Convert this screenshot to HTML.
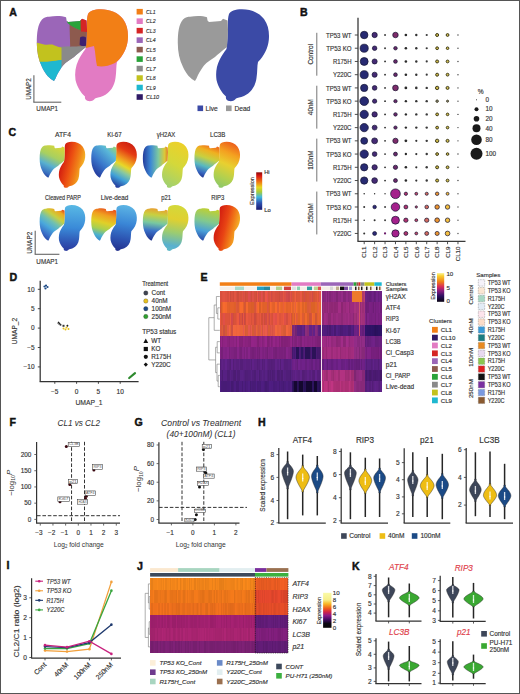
<!DOCTYPE html>
<html><head><meta charset="utf-8"><title>Figure</title><style>html,body{margin:0;padding:0;background:#fff;overflow:hidden;}svg{display:block;font-family:"Liberation Sans", sans-serif;}</style></head><body><svg width="520" height="694" viewBox="0 0 520 694" font-family='"Liberation Sans", sans-serif'><defs>
<clipPath id="cpL"><path d="M49,16.8 C55,15.5 62,15.8 66,17.2 L66.5,20.5 L68,22 L80,21 L82,18.8 L86.5,20.5 L87,30 L86.5,40 L86,47 C81,51 77,54 74,57 C70,60 66,62 63,65.5 C60.5,69 58.5,72 57,75 C56,77.5 55,79.5 54,81 C50,79 45,74 42,67 C38.5,60 36.8,52 36.8,43 C36.8,33 37.8,24 42,19.5 C44.5,17.3 47,16.8 49,16.8 Z"/></clipPath>
<clipPath id="cpR"><path d="M88,14 C89.5,11 94,9.2 101,9.2 C110,9.3 118,12.5 123,19 C127.5,25 128.5,33 127.8,40 C127,48 123,56 117,62 C116,66 116.5,72 115.5,78 C114.5,86 110,93 103,96 C99,97.5 96.5,97.5 95,98.5 C94,100.5 91,101.5 88,101 C85.5,100.5 84.5,98.5 85,96.5 C81,93 77,87 75.5,80 C74.5,73 75.5,66 78.5,60 C80.5,56 83,52 85.5,49 C86.5,42 86.5,34 86.8,26 C86.8,21 87,17 88,14 Z"/></clipPath>
</defs>
<text x="9.30" y="15.69" font-size="10.6" font-weight="bold" fill="#111" stroke="#111" stroke-width="0.45">A</text>
<g>
<path d="M88,14 C89.5,11 94,9.2 101,9.2 C110,9.3 118,12.5 123,19 C127.5,25 128.5,33 127.8,40 C127,48 123,56 117,62 C116,66 116.5,72 115.5,78 C114.5,86 110,93 103,96 C99,97.5 96.5,97.5 95,98.5 C94,100.5 91,101.5 88,101 C85.5,100.5 84.5,98.5 85,96.5 C81,93 77,87 75.5,80 C74.5,73 75.5,66 78.5,60 C80.5,56 83,52 85.5,49 C86.5,42 86.5,34 86.8,26 C86.8,21 87,17 88,14 Z" fill="#e27bc3"/>
<g clip-path="url(#cpR)"><path d="M86,8 L130,8 L130,40 C128,50 122,58 115,63 C108,66.5 101,67 97,66 C95.5,60 95.5,52 94,46 L86,48 Z" fill="#f27f16"/></g>
<path d="M49,16.8 C55,15.5 62,15.8 66,17.2 L66.5,20.5 L68,22 L80,21 L82,18.8 L86.5,20.5 L87,30 L86.5,40 L86,47 C81,51 77,54 74,57 C70,60 66,62 63,65.5 C60.5,69 58.5,72 57,75 C56,77.5 55,79.5 54,81 C50,79 45,74 42,67 C38.5,60 36.8,52 36.8,43 C36.8,33 37.8,24 42,19.5 C44.5,17.3 47,16.8 49,16.8 Z" fill="#9b66b8"/>
<g clip-path="url(#cpL)">
<path d="M56,47.2 C62,46.6 70,46.4 78,46 L88,45 L88,50 L66,66 L56,68 Z" fill="#8a8a8a"/>
<path d="M30,42.5 C35,41.5 40,43.5 44,44.5 C48,45.5 51,43.8 54,45.2 C57,46.5 59,47 61.5,47.5 L61.5,60 C57,61.5 52,61 47,62 L30,63 Z" fill="#c2c21e"/>
<path d="M30,62.5 C38,61 44,62.5 50,61.5 C54,61 57.5,60.2 61.5,60 L61.5,68 L59,73 L56,82 L30,85 Z" fill="#1fb8d0"/>
<path d="M69.5,23 C72,26 76,28.5 81,30 L88,30 L88,46 L79,46.3 C75,46.5 72,46.6 70.2,46.8 C70,38 69.6,30 69.5,23 Z" fill="#8d5a4e"/>
<path d="M66,16 L81,16 L81,30.5 C76,29 71,26 67.5,23 Z" fill="#2aa33a"/>
<path d="M80.6,16 L88,16 L88,32 L81,31.5 L80.6,28 Z" fill="#d52525"/>
<path d="M80,37.5 C81.5,36.2 84.5,36.2 86,37.5 L86,45.5 C84,46.5 81,46.2 79.6,44.8 Z" fill="#3d2070"/>
</g>
</g>
<line x1="33.90" y1="75.30" x2="33.90" y2="102.20" stroke="#666" stroke-width="1.1"/>
<line x1="33.35" y1="102.20" x2="61.30" y2="102.20" stroke="#666" stroke-width="1.1"/>
<text x="47.20" y="111.29" font-size="7.8" text-anchor="middle" fill="#333333" stroke="#333333" stroke-width="0.15" textLength="21.7" lengthAdjust="spacingAndGlyphs">UMAP1</text>
<text x="28.40" y="91.79" font-size="7.8" text-anchor="middle" fill="#333333" stroke="#333333" stroke-width="0.15" transform="rotate(-90 28.40 89.00)" textLength="21.6" lengthAdjust="spacingAndGlyphs">UMAP2</text>
<rect x="136.60" y="8.90" width="6.20" height="5.60" fill="#f27f16"/>
<text x="146.10" y="13.92" font-size="6.2" text-anchor="start" fill="#333333" stroke="#333333" stroke-width="0.15" font-style="italic" textLength="9.5" lengthAdjust="spacingAndGlyphs">CL1</text>
<rect x="136.60" y="18.38" width="6.20" height="5.60" fill="#e27bc3"/>
<text x="146.10" y="23.40" font-size="6.2" text-anchor="start" fill="#333333" stroke="#333333" stroke-width="0.15" font-style="italic" textLength="9.5" lengthAdjust="spacingAndGlyphs">CL2</text>
<rect x="136.60" y="27.86" width="6.20" height="5.60" fill="#d52525"/>
<text x="146.10" y="32.88" font-size="6.2" text-anchor="start" fill="#333333" stroke="#333333" stroke-width="0.15" font-style="italic" textLength="9.5" lengthAdjust="spacingAndGlyphs">CL3</text>
<rect x="136.60" y="37.34" width="6.20" height="5.60" fill="#9b66b8"/>
<text x="146.10" y="42.36" font-size="6.2" text-anchor="start" fill="#333333" stroke="#333333" stroke-width="0.15" font-style="italic" textLength="9.5" lengthAdjust="spacingAndGlyphs">CL4</text>
<rect x="136.60" y="46.82" width="6.20" height="5.60" fill="#8d5a4e"/>
<text x="146.10" y="51.84" font-size="6.2" text-anchor="start" fill="#333333" stroke="#333333" stroke-width="0.15" font-style="italic" textLength="9.5" lengthAdjust="spacingAndGlyphs">CL5</text>
<rect x="136.60" y="56.30" width="6.20" height="5.60" fill="#2aa33a"/>
<text x="146.10" y="61.32" font-size="6.2" text-anchor="start" fill="#333333" stroke="#333333" stroke-width="0.15" font-style="italic" textLength="9.5" lengthAdjust="spacingAndGlyphs">CL6</text>
<rect x="136.60" y="65.78" width="6.20" height="5.60" fill="#8a8a8a"/>
<text x="146.10" y="70.80" font-size="6.2" text-anchor="start" fill="#333333" stroke="#333333" stroke-width="0.15" font-style="italic" textLength="9.5" lengthAdjust="spacingAndGlyphs">CL7</text>
<rect x="136.60" y="75.26" width="6.20" height="5.60" fill="#c2c21e"/>
<text x="146.10" y="80.28" font-size="6.2" text-anchor="start" fill="#333333" stroke="#333333" stroke-width="0.15" font-style="italic" textLength="9.5" lengthAdjust="spacingAndGlyphs">CL8</text>
<rect x="136.60" y="84.74" width="6.20" height="5.60" fill="#1fb8d0"/>
<text x="146.10" y="89.76" font-size="6.2" text-anchor="start" fill="#333333" stroke="#333333" stroke-width="0.15" font-style="italic" textLength="9.5" lengthAdjust="spacingAndGlyphs">CL9</text>
<rect x="136.60" y="94.22" width="6.20" height="5.60" fill="#2f1a66"/>
<text x="146.10" y="99.24" font-size="6.2" text-anchor="start" fill="#333333" stroke="#333333" stroke-width="0.15" font-style="italic" textLength="13.0" lengthAdjust="spacingAndGlyphs">CL10</text>
<g transform="translate(141,0)">
<path d="M88,14 C89.5,11 94,9.2 101,9.2 C110,9.3 118,12.5 123,19 C127.5,25 128.5,33 127.8,40 C127,48 123,56 117,62 C116,66 116.5,72 115.5,78 C114.5,86 110,93 103,96 C99,97.5 96.5,97.5 95,98.5 C94,100.5 91,101.5 88,101 C85.5,100.5 84.5,98.5 85,96.5 C81,93 77,87 75.5,80 C74.5,73 75.5,66 78.5,60 C80.5,56 83,52 85.5,49 C86.5,42 86.5,34 86.8,26 C86.8,21 87,17 88,14 Z" fill="#3b4aa6"/>
<path d="M49,16.8 C55,15.5 62,15.8 66,17.2 L66.5,20.5 L68,22 L80,21 L82,18.8 L86.5,20.5 L87,30 L86.5,40 L86,47 C81,51 77,54 74,57 C70,60 66,62 63,65.5 C60.5,69 58.5,72 57,75 C56,77.5 55,79.5 54,81 C50,79 45,74 42,67 C38.5,60 36.8,52 36.8,43 C36.8,33 37.8,24 42,19.5 C44.5,17.3 47,16.8 49,16.8 Z" fill="#9a9a9a"/>
</g>
<rect x="197.50" y="105.50" width="5.60" height="5.60" fill="#3b4aa6"/>
<text x="205.50" y="110.66" font-size="6.6" text-anchor="start" fill="#333333" stroke="#333333" stroke-width="0.15">Live</text>
<rect x="226.00" y="105.50" width="5.60" height="5.60" fill="#9a9a9a"/>
<text x="234.50" y="110.66" font-size="6.6" text-anchor="start" fill="#333333" stroke="#333333" stroke-width="0.15">Dead</text>
<text x="300.00" y="15.59" font-size="10.6" font-weight="bold" fill="#111" stroke="#111" stroke-width="0.45">B</text>
<line x1="358.00" y1="17.80" x2="358.00" y2="241.30" stroke="#3a3a3a" stroke-width="1.3"/>
<line x1="357.40" y1="241.30" x2="465.50" y2="241.30" stroke="#3a3a3a" stroke-width="1.3"/>
<text x="351.50" y="37.63" font-size="6.5" text-anchor="end" fill="#333333" stroke="#333333" stroke-width="0.15" textLength="25.4" lengthAdjust="spacingAndGlyphs">TP53 WT</text>
<line x1="354.80" y1="35.00" x2="358.00" y2="35.00" stroke="#3a3a3a" stroke-width="0.9"/>
<text x="351.50" y="50.86" font-size="6.5" text-anchor="end" fill="#333333" stroke="#333333" stroke-width="0.15" textLength="25.2" lengthAdjust="spacingAndGlyphs">TP53 KO</text>
<line x1="354.80" y1="48.23" x2="358.00" y2="48.23" stroke="#3a3a3a" stroke-width="0.9"/>
<text x="351.50" y="64.09" font-size="6.5" text-anchor="end" fill="#333333" stroke="#333333" stroke-width="0.15" textLength="18.6" lengthAdjust="spacingAndGlyphs">R175H</text>
<line x1="354.80" y1="61.46" x2="358.00" y2="61.46" stroke="#3a3a3a" stroke-width="0.9"/>
<text x="351.50" y="77.32" font-size="6.5" text-anchor="end" fill="#333333" stroke="#333333" stroke-width="0.15" textLength="18.6" lengthAdjust="spacingAndGlyphs">Y220C</text>
<line x1="354.80" y1="74.69" x2="358.00" y2="74.69" stroke="#3a3a3a" stroke-width="0.9"/>
<line x1="316.80" y1="32.80" x2="316.80" y2="75.69" stroke="#666" stroke-width="0.9"/>
<text x="310.30" y="56.54" font-size="6.4" text-anchor="middle" fill="#333333" stroke="#333333" stroke-width="0.15" transform="rotate(-90 310.30 54.24)">Control</text>
<text x="351.50" y="90.55" font-size="6.5" text-anchor="end" fill="#333333" stroke="#333333" stroke-width="0.15" textLength="25.4" lengthAdjust="spacingAndGlyphs">TP53 WT</text>
<line x1="354.80" y1="87.92" x2="358.00" y2="87.92" stroke="#3a3a3a" stroke-width="0.9"/>
<text x="351.50" y="103.78" font-size="6.5" text-anchor="end" fill="#333333" stroke="#333333" stroke-width="0.15" textLength="25.2" lengthAdjust="spacingAndGlyphs">TP53 KO</text>
<line x1="354.80" y1="101.15" x2="358.00" y2="101.15" stroke="#3a3a3a" stroke-width="0.9"/>
<text x="351.50" y="117.01" font-size="6.5" text-anchor="end" fill="#333333" stroke="#333333" stroke-width="0.15" textLength="18.6" lengthAdjust="spacingAndGlyphs">R175H</text>
<line x1="354.80" y1="114.38" x2="358.00" y2="114.38" stroke="#3a3a3a" stroke-width="0.9"/>
<text x="351.50" y="130.24" font-size="6.5" text-anchor="end" fill="#333333" stroke="#333333" stroke-width="0.15" textLength="18.6" lengthAdjust="spacingAndGlyphs">Y220C</text>
<line x1="354.80" y1="127.61" x2="358.00" y2="127.61" stroke="#3a3a3a" stroke-width="0.9"/>
<line x1="316.80" y1="85.72" x2="316.80" y2="128.61" stroke="#666" stroke-width="0.9"/>
<text x="310.30" y="109.46" font-size="6.4" text-anchor="middle" fill="#333333" stroke="#333333" stroke-width="0.15" transform="rotate(-90 310.30 107.17)">40nM</text>
<text x="351.50" y="143.47" font-size="6.5" text-anchor="end" fill="#333333" stroke="#333333" stroke-width="0.15" textLength="25.4" lengthAdjust="spacingAndGlyphs">TP53 WT</text>
<line x1="354.80" y1="140.84" x2="358.00" y2="140.84" stroke="#3a3a3a" stroke-width="0.9"/>
<text x="351.50" y="156.70" font-size="6.5" text-anchor="end" fill="#333333" stroke="#333333" stroke-width="0.15" textLength="25.2" lengthAdjust="spacingAndGlyphs">TP53 KO</text>
<line x1="354.80" y1="154.07" x2="358.00" y2="154.07" stroke="#3a3a3a" stroke-width="0.9"/>
<text x="351.50" y="169.93" font-size="6.5" text-anchor="end" fill="#333333" stroke="#333333" stroke-width="0.15" textLength="18.6" lengthAdjust="spacingAndGlyphs">R175H</text>
<line x1="354.80" y1="167.30" x2="358.00" y2="167.30" stroke="#3a3a3a" stroke-width="0.9"/>
<text x="351.50" y="183.16" font-size="6.5" text-anchor="end" fill="#333333" stroke="#333333" stroke-width="0.15" textLength="18.6" lengthAdjust="spacingAndGlyphs">Y220C</text>
<line x1="354.80" y1="180.53" x2="358.00" y2="180.53" stroke="#3a3a3a" stroke-width="0.9"/>
<line x1="316.80" y1="138.64" x2="316.80" y2="181.53" stroke="#666" stroke-width="0.9"/>
<text x="310.30" y="162.38" font-size="6.4" text-anchor="middle" fill="#333333" stroke="#333333" stroke-width="0.15" transform="rotate(-90 310.30 160.09)">100nM</text>
<text x="351.50" y="196.39" font-size="6.5" text-anchor="end" fill="#333333" stroke="#333333" stroke-width="0.15" textLength="25.4" lengthAdjust="spacingAndGlyphs">TP53 WT</text>
<line x1="354.80" y1="193.76" x2="358.00" y2="193.76" stroke="#3a3a3a" stroke-width="0.9"/>
<text x="351.50" y="209.62" font-size="6.5" text-anchor="end" fill="#333333" stroke="#333333" stroke-width="0.15" textLength="25.2" lengthAdjust="spacingAndGlyphs">TP53 KO</text>
<line x1="354.80" y1="206.99" x2="358.00" y2="206.99" stroke="#3a3a3a" stroke-width="0.9"/>
<text x="351.50" y="222.85" font-size="6.5" text-anchor="end" fill="#333333" stroke="#333333" stroke-width="0.15" textLength="18.6" lengthAdjust="spacingAndGlyphs">R175H</text>
<line x1="354.80" y1="220.22" x2="358.00" y2="220.22" stroke="#3a3a3a" stroke-width="0.9"/>
<text x="351.50" y="236.08" font-size="6.5" text-anchor="end" fill="#333333" stroke="#333333" stroke-width="0.15" textLength="18.6" lengthAdjust="spacingAndGlyphs">Y220C</text>
<line x1="354.80" y1="233.45" x2="358.00" y2="233.45" stroke="#3a3a3a" stroke-width="0.9"/>
<line x1="316.80" y1="191.56" x2="316.80" y2="234.45" stroke="#666" stroke-width="0.9"/>
<text x="310.30" y="215.30" font-size="6.4" text-anchor="middle" fill="#333333" stroke="#333333" stroke-width="0.15" transform="rotate(-90 310.30 213.00)">250nM</text>
<line x1="364.20" y1="241.30" x2="364.20" y2="244.20" stroke="#3a3a3a" stroke-width="0.9"/>
<text x="364.20" y="248.72" font-size="6.2" text-anchor="end" fill="#333333" stroke="#333333" stroke-width="0.15" transform="rotate(-90 364.20 246.50)">CL1</text>
<line x1="374.62" y1="241.30" x2="374.62" y2="244.20" stroke="#3a3a3a" stroke-width="0.9"/>
<text x="374.62" y="248.72" font-size="6.2" text-anchor="end" fill="#333333" stroke="#333333" stroke-width="0.15" transform="rotate(-90 374.62 246.50)">CL2</text>
<line x1="385.04" y1="241.30" x2="385.04" y2="244.20" stroke="#3a3a3a" stroke-width="0.9"/>
<text x="385.04" y="248.72" font-size="6.2" text-anchor="end" fill="#333333" stroke="#333333" stroke-width="0.15" transform="rotate(-90 385.04 246.50)">CL3</text>
<line x1="395.46" y1="241.30" x2="395.46" y2="244.20" stroke="#3a3a3a" stroke-width="0.9"/>
<text x="395.46" y="248.72" font-size="6.2" text-anchor="end" fill="#333333" stroke="#333333" stroke-width="0.15" transform="rotate(-90 395.46 246.50)">CL4</text>
<line x1="405.88" y1="241.30" x2="405.88" y2="244.20" stroke="#3a3a3a" stroke-width="0.9"/>
<text x="405.88" y="248.72" font-size="6.2" text-anchor="end" fill="#333333" stroke="#333333" stroke-width="0.15" transform="rotate(-90 405.88 246.50)">CL5</text>
<line x1="416.30" y1="241.30" x2="416.30" y2="244.20" stroke="#3a3a3a" stroke-width="0.9"/>
<text x="416.30" y="248.72" font-size="6.2" text-anchor="end" fill="#333333" stroke="#333333" stroke-width="0.15" transform="rotate(-90 416.30 246.50)">CL6</text>
<line x1="426.72" y1="241.30" x2="426.72" y2="244.20" stroke="#3a3a3a" stroke-width="0.9"/>
<text x="426.72" y="248.72" font-size="6.2" text-anchor="end" fill="#333333" stroke="#333333" stroke-width="0.15" transform="rotate(-90 426.72 246.50)">CL7</text>
<line x1="437.14" y1="241.30" x2="437.14" y2="244.20" stroke="#3a3a3a" stroke-width="0.9"/>
<text x="437.14" y="248.72" font-size="6.2" text-anchor="end" fill="#333333" stroke="#333333" stroke-width="0.15" transform="rotate(-90 437.14 246.50)">CL8</text>
<line x1="447.56" y1="241.30" x2="447.56" y2="244.20" stroke="#3a3a3a" stroke-width="0.9"/>
<text x="447.56" y="248.72" font-size="6.2" text-anchor="end" fill="#333333" stroke="#333333" stroke-width="0.15" transform="rotate(-90 447.56 246.50)">CL9</text>
<line x1="457.98" y1="241.30" x2="457.98" y2="244.20" stroke="#3a3a3a" stroke-width="0.9"/>
<text x="457.98" y="248.72" font-size="6.2" text-anchor="end" fill="#333333" stroke="#333333" stroke-width="0.15" transform="rotate(-90 457.98 246.50)">CL10</text>
<circle cx="364.20" cy="35.00" r="3.75" fill="#272a72" stroke="#141430" stroke-width="0.7"/>
<circle cx="374.62" cy="35.00" r="2.65" fill="#452a74" stroke="#141430" stroke-width="0.7"/>
<circle cx="385.04" cy="35.00" r="0.90" fill="#2a2a2a"/>
<circle cx="395.46" cy="35.00" r="2.75" fill="#7e2c6a" stroke="#141430" stroke-width="0.7"/>
<circle cx="405.88" cy="35.00" r="1.30" fill="#2a2a2a"/>
<circle cx="416.30" cy="35.00" r="1.20" fill="#333"/>
<circle cx="426.72" cy="35.00" r="1.10" fill="#3a3a3a"/>
<circle cx="437.14" cy="35.00" r="1.50" fill="#cdb948" stroke="#3e3a1c" stroke-width="1.0"/>
<circle cx="447.56" cy="35.00" r="1.40" fill="#d2c052" stroke="#3e3a1c" stroke-width="1.0"/>
<circle cx="457.98" cy="35.00" r="0.70" fill="#444"/>
<circle cx="364.20" cy="48.23" r="4.05" fill="#272a72" stroke="#141430" stroke-width="0.7"/>
<circle cx="374.62" cy="48.23" r="2.25" fill="#452a74" stroke="#141430" stroke-width="0.7"/>
<circle cx="385.04" cy="48.23" r="0.90" fill="#2a2a2a"/>
<circle cx="395.46" cy="48.23" r="1.75" fill="#6a2a68" stroke="#141430" stroke-width="0.7"/>
<circle cx="405.88" cy="48.23" r="1.30" fill="#2a2a2a"/>
<circle cx="416.30" cy="48.23" r="1.20" fill="#333"/>
<circle cx="426.72" cy="48.23" r="1.10" fill="#3a3a3a"/>
<circle cx="437.14" cy="48.23" r="1.40" fill="#cdb948" stroke="#3e3a1c" stroke-width="1.0"/>
<circle cx="447.56" cy="48.23" r="1.30" fill="#d2c052" stroke="#3e3a1c" stroke-width="1.0"/>
<circle cx="457.98" cy="48.23" r="0.70" fill="#444"/>
<circle cx="364.20" cy="61.46" r="3.95" fill="#272a72" stroke="#141430" stroke-width="0.7"/>
<circle cx="374.62" cy="61.46" r="2.55" fill="#452a74" stroke="#141430" stroke-width="0.7"/>
<circle cx="385.04" cy="61.46" r="0.90" fill="#2a2a2a"/>
<circle cx="395.46" cy="61.46" r="1.85" fill="#6a2a68" stroke="#141430" stroke-width="0.7"/>
<circle cx="405.88" cy="61.46" r="1.30" fill="#2a2a2a"/>
<circle cx="416.30" cy="61.46" r="1.20" fill="#333"/>
<circle cx="426.72" cy="61.46" r="1.10" fill="#3a3a3a"/>
<circle cx="437.14" cy="61.46" r="1.50" fill="#cdb948" stroke="#3e3a1c" stroke-width="1.0"/>
<circle cx="447.56" cy="61.46" r="1.40" fill="#d2c052" stroke="#3e3a1c" stroke-width="1.0"/>
<circle cx="457.98" cy="61.46" r="0.70" fill="#444"/>
<circle cx="364.20" cy="74.69" r="4.05" fill="#272a72" stroke="#141430" stroke-width="0.7"/>
<circle cx="374.62" cy="74.69" r="2.55" fill="#452a74" stroke="#141430" stroke-width="0.7"/>
<circle cx="385.04" cy="74.69" r="0.90" fill="#2a2a2a"/>
<circle cx="395.46" cy="74.69" r="1.85" fill="#6a2a68" stroke="#141430" stroke-width="0.7"/>
<circle cx="405.88" cy="74.69" r="1.30" fill="#2a2a2a"/>
<circle cx="416.30" cy="74.69" r="1.20" fill="#333"/>
<circle cx="426.72" cy="74.69" r="1.10" fill="#3a3a3a"/>
<circle cx="437.14" cy="74.69" r="1.50" fill="#cdb948" stroke="#3e3a1c" stroke-width="1.0"/>
<circle cx="447.56" cy="74.69" r="1.40" fill="#d2c052" stroke="#3e3a1c" stroke-width="1.0"/>
<circle cx="457.98" cy="74.69" r="0.70" fill="#444"/>
<circle cx="364.20" cy="87.92" r="3.65" fill="#272a72" stroke="#141430" stroke-width="0.7"/>
<circle cx="374.62" cy="87.92" r="2.35" fill="#452a74" stroke="#141430" stroke-width="0.7"/>
<circle cx="385.04" cy="87.92" r="0.90" fill="#2a2a2a"/>
<circle cx="395.46" cy="87.92" r="2.85" fill="#7e2c6a" stroke="#141430" stroke-width="0.7"/>
<circle cx="405.88" cy="87.92" r="1.40" fill="#2a2a2a"/>
<circle cx="416.30" cy="87.92" r="1.30" fill="#333"/>
<circle cx="426.72" cy="87.92" r="1.20" fill="#3a3a3a"/>
<circle cx="437.14" cy="87.92" r="1.70" fill="#cdb948" stroke="#3e3a1c" stroke-width="1.0"/>
<circle cx="447.56" cy="87.92" r="1.50" fill="#d2c052" stroke="#3e3a1c" stroke-width="1.0"/>
<circle cx="457.98" cy="87.92" r="0.70" fill="#444"/>
<circle cx="364.20" cy="101.15" r="4.35" fill="#272a72" stroke="#141430" stroke-width="0.7"/>
<circle cx="374.62" cy="101.15" r="2.15" fill="#452a74" stroke="#141430" stroke-width="0.7"/>
<circle cx="385.04" cy="101.15" r="0.90" fill="#2a2a2a"/>
<circle cx="395.46" cy="101.15" r="1.65" fill="#6a2a68" stroke="#141430" stroke-width="0.7"/>
<circle cx="405.88" cy="101.15" r="1.20" fill="#2a2a2a"/>
<circle cx="416.30" cy="101.15" r="1.20" fill="#333"/>
<circle cx="426.72" cy="101.15" r="1.20" fill="#3a3a3a"/>
<circle cx="437.14" cy="101.15" r="1.20" fill="#999" stroke="#3e3a1c" stroke-width="1.0"/>
<circle cx="447.56" cy="101.15" r="1.00" fill="#999" stroke="#3e3a1c" stroke-width="1.0"/>
<circle cx="457.98" cy="101.15" r="0.70" fill="#444"/>
<circle cx="364.20" cy="114.38" r="4.15" fill="#272a72" stroke="#141430" stroke-width="0.7"/>
<circle cx="374.62" cy="114.38" r="2.65" fill="#452a74" stroke="#141430" stroke-width="0.7"/>
<circle cx="385.04" cy="114.38" r="0.90" fill="#2a2a2a"/>
<circle cx="395.46" cy="114.38" r="1.75" fill="#6a2a68" stroke="#141430" stroke-width="0.7"/>
<circle cx="405.88" cy="114.38" r="1.20" fill="#2a2a2a"/>
<circle cx="416.30" cy="114.38" r="1.20" fill="#333"/>
<circle cx="426.72" cy="114.38" r="1.20" fill="#3a3a3a"/>
<circle cx="437.14" cy="114.38" r="1.40" fill="#cdb948" stroke="#3e3a1c" stroke-width="1.0"/>
<circle cx="447.56" cy="114.38" r="1.30" fill="#d2c052" stroke="#3e3a1c" stroke-width="1.0"/>
<circle cx="457.98" cy="114.38" r="0.70" fill="#444"/>
<circle cx="364.20" cy="127.61" r="4.15" fill="#272a72" stroke="#141430" stroke-width="0.7"/>
<circle cx="374.62" cy="127.61" r="2.45" fill="#452a74" stroke="#141430" stroke-width="0.7"/>
<circle cx="385.04" cy="127.61" r="0.90" fill="#2a2a2a"/>
<circle cx="395.46" cy="127.61" r="1.65" fill="#6a2a68" stroke="#141430" stroke-width="0.7"/>
<circle cx="405.88" cy="127.61" r="1.20" fill="#2a2a2a"/>
<circle cx="416.30" cy="127.61" r="1.20" fill="#333"/>
<circle cx="426.72" cy="127.61" r="1.20" fill="#3a3a3a"/>
<circle cx="437.14" cy="127.61" r="1.40" fill="#cdb948" stroke="#3e3a1c" stroke-width="1.0"/>
<circle cx="447.56" cy="127.61" r="1.30" fill="#d2c052" stroke="#3e3a1c" stroke-width="1.0"/>
<circle cx="457.98" cy="127.61" r="0.70" fill="#444"/>
<circle cx="364.20" cy="140.84" r="3.45" fill="#272a72" stroke="#141430" stroke-width="0.7"/>
<circle cx="374.62" cy="140.84" r="2.95" fill="#452a74" stroke="#141430" stroke-width="0.7"/>
<circle cx="385.04" cy="140.84" r="0.90" fill="#2a2a2a"/>
<circle cx="395.46" cy="140.84" r="2.65" fill="#7e2c6a" stroke="#141430" stroke-width="0.7"/>
<circle cx="405.88" cy="140.84" r="1.40" fill="#2a2a2a"/>
<circle cx="416.30" cy="140.84" r="1.10" fill="#333"/>
<circle cx="426.72" cy="140.84" r="1.20" fill="#3a3a3a"/>
<circle cx="437.14" cy="140.84" r="1.70" fill="#cdb948" stroke="#3e3a1c" stroke-width="1.0"/>
<circle cx="447.56" cy="140.84" r="1.50" fill="#d2c052" stroke="#3e3a1c" stroke-width="1.0"/>
<circle cx="457.98" cy="140.84" r="0.70" fill="#444"/>
<circle cx="364.20" cy="154.07" r="4.15" fill="#272a72" stroke="#141430" stroke-width="0.7"/>
<circle cx="374.62" cy="154.07" r="2.35" fill="#452a74" stroke="#141430" stroke-width="0.7"/>
<circle cx="385.04" cy="154.07" r="0.90" fill="#2a2a2a"/>
<circle cx="395.46" cy="154.07" r="1.95" fill="#6a2a68" stroke="#141430" stroke-width="0.7"/>
<circle cx="405.88" cy="154.07" r="1.20" fill="#2a2a2a"/>
<circle cx="416.30" cy="154.07" r="1.10" fill="#333"/>
<circle cx="426.72" cy="154.07" r="1.20" fill="#3a3a3a"/>
<circle cx="437.14" cy="154.07" r="1.40" fill="#cdb948" stroke="#3e3a1c" stroke-width="1.0"/>
<circle cx="447.56" cy="154.07" r="1.30" fill="#d2c052" stroke="#3e3a1c" stroke-width="1.0"/>
<circle cx="457.98" cy="154.07" r="0.70" fill="#444"/>
<circle cx="364.20" cy="167.30" r="3.65" fill="#272a72" stroke="#141430" stroke-width="0.7"/>
<circle cx="374.62" cy="167.30" r="2.65" fill="#452a74" stroke="#141430" stroke-width="0.7"/>
<circle cx="385.04" cy="167.30" r="0.90" fill="#2a2a2a"/>
<circle cx="395.46" cy="167.30" r="2.15" fill="#6a2a68" stroke="#141430" stroke-width="0.7"/>
<circle cx="405.88" cy="167.30" r="1.30" fill="#2a2a2a"/>
<circle cx="416.30" cy="167.30" r="1.10" fill="#333"/>
<circle cx="426.72" cy="167.30" r="1.20" fill="#3a3a3a"/>
<circle cx="437.14" cy="167.30" r="1.50" fill="#cdb948" stroke="#3e3a1c" stroke-width="1.0"/>
<circle cx="447.56" cy="167.30" r="1.40" fill="#d2c052" stroke="#3e3a1c" stroke-width="1.0"/>
<circle cx="457.98" cy="167.30" r="0.70" fill="#444"/>
<circle cx="364.20" cy="180.53" r="3.65" fill="#272a72" stroke="#141430" stroke-width="0.7"/>
<circle cx="374.62" cy="180.53" r="2.85" fill="#452a74" stroke="#141430" stroke-width="0.7"/>
<circle cx="385.04" cy="180.53" r="0.90" fill="#2a2a2a"/>
<circle cx="395.46" cy="180.53" r="1.95" fill="#6a2a68" stroke="#141430" stroke-width="0.7"/>
<circle cx="405.88" cy="180.53" r="1.30" fill="#2a2a2a"/>
<circle cx="416.30" cy="180.53" r="1.10" fill="#333"/>
<circle cx="426.72" cy="180.53" r="1.20" fill="#3a3a3a"/>
<circle cx="437.14" cy="180.53" r="1.50" fill="#cdb948" stroke="#3e3a1c" stroke-width="1.0"/>
<circle cx="447.56" cy="180.53" r="1.40" fill="#d2c052" stroke="#3e3a1c" stroke-width="1.0"/>
<circle cx="457.98" cy="180.53" r="0.70" fill="#444"/>
<circle cx="364.20" cy="193.76" r="0.80" fill="#333"/>
<circle cx="374.62" cy="193.76" r="0.70" fill="#333"/>
<circle cx="385.04" cy="193.76" r="0.80" fill="#444"/>
<circle cx="395.46" cy="193.76" r="4.85" fill="#a4218c" stroke="#141430" stroke-width="0.7"/>
<circle cx="405.88" cy="193.76" r="1.65" fill="#b0336e" stroke="#141430" stroke-width="0.7"/>
<circle cx="416.30" cy="193.76" r="1.45" fill="#c04e6e" stroke="#141430" stroke-width="0.7"/>
<circle cx="426.72" cy="193.76" r="1.55" fill="#d26a5e" stroke="#141430" stroke-width="0.7"/>
<circle cx="437.14" cy="193.76" r="1.75" fill="#ec9530" stroke="#141430" stroke-width="0.7"/>
<circle cx="447.56" cy="193.76" r="1.45" fill="#f2bd40" stroke="#141430" stroke-width="0.7"/>
<circle cx="457.98" cy="193.76" r="0.70" fill="#555"/>
<circle cx="364.20" cy="206.99" r="1.00" fill="#333"/>
<circle cx="374.62" cy="206.99" r="1.75" fill="#2e2a78" stroke="#141430" stroke-width="0.7"/>
<circle cx="385.04" cy="206.99" r="1.00" fill="#444"/>
<circle cx="395.46" cy="206.99" r="4.25" fill="#a4218c" stroke="#141430" stroke-width="0.7"/>
<circle cx="405.88" cy="206.99" r="1.95" fill="#b0336e" stroke="#141430" stroke-width="0.7"/>
<circle cx="416.30" cy="206.99" r="1.15" fill="#c04e6e" stroke="#141430" stroke-width="0.7"/>
<circle cx="426.72" cy="206.99" r="1.85" fill="#d26a5e" stroke="#141430" stroke-width="0.7"/>
<circle cx="437.14" cy="206.99" r="2.25" fill="#ec9530" stroke="#141430" stroke-width="0.7"/>
<circle cx="447.56" cy="206.99" r="2.25" fill="#f2bd40" stroke="#141430" stroke-width="0.7"/>
<circle cx="457.98" cy="206.99" r="0.70" fill="#555"/>
<circle cx="364.20" cy="220.22" r="0.80" fill="#333"/>
<circle cx="374.62" cy="220.22" r="1.00" fill="#333"/>
<circle cx="385.04" cy="220.22" r="1.00" fill="#444"/>
<circle cx="395.46" cy="220.22" r="3.95" fill="#a4218c" stroke="#141430" stroke-width="0.7"/>
<circle cx="405.88" cy="220.22" r="2.15" fill="#b0336e" stroke="#141430" stroke-width="0.7"/>
<circle cx="416.30" cy="220.22" r="1.45" fill="#c04e6e" stroke="#141430" stroke-width="0.7"/>
<circle cx="426.72" cy="220.22" r="2.15" fill="#d26a5e" stroke="#141430" stroke-width="0.7"/>
<circle cx="437.14" cy="220.22" r="2.35" fill="#ec9530" stroke="#141430" stroke-width="0.7"/>
<circle cx="447.56" cy="220.22" r="2.25" fill="#f2bd40" stroke="#141430" stroke-width="0.7"/>
<circle cx="457.98" cy="220.22" r="0.70" fill="#555"/>
<circle cx="364.20" cy="233.45" r="1.00" fill="#333"/>
<circle cx="374.62" cy="233.45" r="1.95" fill="#2e2a78" stroke="#141430" stroke-width="0.7"/>
<circle cx="385.04" cy="233.45" r="1.10" fill="#6a1a6a"/>
<circle cx="395.46" cy="233.45" r="3.65" fill="#a4218c" stroke="#141430" stroke-width="0.7"/>
<circle cx="405.88" cy="233.45" r="1.95" fill="#b0336e" stroke="#141430" stroke-width="0.7"/>
<circle cx="416.30" cy="233.45" r="1.45" fill="#c04e6e" stroke="#141430" stroke-width="0.7"/>
<circle cx="426.72" cy="233.45" r="1.95" fill="#d26a5e" stroke="#141430" stroke-width="0.7"/>
<circle cx="437.14" cy="233.45" r="2.05" fill="#ec9530" stroke="#141430" stroke-width="0.7"/>
<circle cx="447.56" cy="233.45" r="2.35" fill="#f2bd40" stroke="#141430" stroke-width="0.7"/>
<circle cx="457.98" cy="233.45" r="0.70" fill="#555"/>
<text x="480.80" y="93.56" font-size="6.6" text-anchor="middle" fill="#333333" stroke="#333333" stroke-width="0.15">%</text>
<circle cx="476.50" cy="99.70" r="0.50" fill="#1a1a1a"/>
<text x="485.50" y="101.99" font-size="6.4" text-anchor="start" fill="#333333" stroke="#333333" stroke-width="0.15">0</text>
<circle cx="476.50" cy="109.20" r="2.00" fill="#1a1a1a"/>
<text x="485.50" y="111.49" font-size="6.4" text-anchor="start" fill="#333333" stroke="#333333" stroke-width="0.15">10</text>
<circle cx="476.50" cy="118.80" r="2.80" fill="#1a1a1a"/>
<text x="485.50" y="121.09" font-size="6.4" text-anchor="start" fill="#333333" stroke="#333333" stroke-width="0.15">20</text>
<circle cx="476.50" cy="128.30" r="4.00" fill="#1a1a1a"/>
<text x="485.50" y="130.59" font-size="6.4" text-anchor="start" fill="#333333" stroke="#333333" stroke-width="0.15">40</text>
<circle cx="476.50" cy="139.80" r="5.30" fill="#1a1a1a"/>
<text x="485.50" y="142.09" font-size="6.4" text-anchor="start" fill="#333333" stroke="#333333" stroke-width="0.15">80</text>
<circle cx="476.50" cy="153.80" r="6.00" fill="#1a1a1a"/>
<text x="485.50" y="156.09" font-size="6.4" text-anchor="start" fill="#333333" stroke="#333333" stroke-width="0.15">100</text>
<text x="8.40" y="136.39" font-size="10.6" font-weight="bold" fill="#111" stroke="#111" stroke-width="0.45">C</text>
<g transform="translate(21.25,137.15) scale(0.5)">
<path d="M88,14 C89.5,11 94,9.2 101,9.2 C110,9.3 118,12.5 123,19 C127.5,25 128.5,33 127.8,40 C127,48 123,56 117,62 C116,66 116.5,72 115.5,78 C114.5,86 110,93 103,96 C99,97.5 96.5,97.5 95,98.5 C94,100.5 91,101.5 88,101 C85.5,100.5 84.5,98.5 85,96.5 C81,93 77,87 75.5,80 C74.5,73 75.5,66 78.5,60 C80.5,56 83,52 85.5,49 C86.5,42 86.5,34 86.8,26 C86.8,21 87,17 88,14 Z" fill="url(#g1)"/>
<path d="M49,16.8 C55,15.5 62,15.8 66,17.2 L66.5,20.5 L68,22 L80,21 L82,18.8 L86.5,20.5 L87,30 L86.5,40 L86,47 C81,51 77,54 74,57 C70,60 66,62 63,65.5 C60.5,69 58.5,72 57,75 C56,77.5 55,79.5 54,81 C50,79 45,74 42,67 C38.5,60 36.8,52 36.8,43 C36.8,33 37.8,24 42,19.5 C44.5,17.3 47,16.8 49,16.8 Z" fill="url(#g0)"/>
</g>
<text x="62.90" y="136.80" font-size="6.7" text-anchor="middle" fill="#333333" stroke="#333333" stroke-width="0.15" textLength="16" lengthAdjust="spacingAndGlyphs">ATF4</text>
<g transform="translate(72.85,137.15) scale(0.5)">
<path d="M88,14 C89.5,11 94,9.2 101,9.2 C110,9.3 118,12.5 123,19 C127.5,25 128.5,33 127.8,40 C127,48 123,56 117,62 C116,66 116.5,72 115.5,78 C114.5,86 110,93 103,96 C99,97.5 96.5,97.5 95,98.5 C94,100.5 91,101.5 88,101 C85.5,100.5 84.5,98.5 85,96.5 C81,93 77,87 75.5,80 C74.5,73 75.5,66 78.5,60 C80.5,56 83,52 85.5,49 C86.5,42 86.5,34 86.8,26 C86.8,21 87,17 88,14 Z" fill="url(#g3)"/>
<path d="M49,16.8 C55,15.5 62,15.8 66,17.2 L66.5,20.5 L68,22 L80,21 L82,18.8 L86.5,20.5 L87,30 L86.5,40 L86,47 C81,51 77,54 74,57 C70,60 66,62 63,65.5 C60.5,69 58.5,72 57,75 C56,77.5 55,79.5 54,81 C50,79 45,74 42,67 C38.5,60 36.8,52 36.8,43 C36.8,33 37.8,24 42,19.5 C44.5,17.3 47,16.8 49,16.8 Z" fill="url(#g2)"/>
</g>
<text x="114.50" y="136.80" font-size="6.7" text-anchor="middle" fill="#333333" stroke="#333333" stroke-width="0.15" textLength="14.4" lengthAdjust="spacingAndGlyphs">Ki-67</text>
<g transform="translate(124.45,137.15) scale(0.5)">
<path d="M88,14 C89.5,11 94,9.2 101,9.2 C110,9.3 118,12.5 123,19 C127.5,25 128.5,33 127.8,40 C127,48 123,56 117,62 C116,66 116.5,72 115.5,78 C114.5,86 110,93 103,96 C99,97.5 96.5,97.5 95,98.5 C94,100.5 91,101.5 88,101 C85.5,100.5 84.5,98.5 85,96.5 C81,93 77,87 75.5,80 C74.5,73 75.5,66 78.5,60 C80.5,56 83,52 85.5,49 C86.5,42 86.5,34 86.8,26 C86.8,21 87,17 88,14 Z" fill="url(#g5)"/>
<path d="M49,16.8 C55,15.5 62,15.8 66,17.2 L66.5,20.5 L68,22 L80,21 L82,18.8 L86.5,20.5 L87,30 L86.5,40 L86,47 C81,51 77,54 74,57 C70,60 66,62 63,65.5 C60.5,69 58.5,72 57,75 C56,77.5 55,79.5 54,81 C50,79 45,74 42,67 C38.5,60 36.8,52 36.8,43 C36.8,33 37.8,24 42,19.5 C44.5,17.3 47,16.8 49,16.8 Z" fill="url(#g4)"/>
</g>
<text x="166.10" y="136.80" font-size="6.7" text-anchor="middle" fill="#333333" stroke="#333333" stroke-width="0.15" textLength="18.5" lengthAdjust="spacingAndGlyphs">γH2AX</text>
<g transform="translate(176.05,137.15) scale(0.5)">
<path d="M88,14 C89.5,11 94,9.2 101,9.2 C110,9.3 118,12.5 123,19 C127.5,25 128.5,33 127.8,40 C127,48 123,56 117,62 C116,66 116.5,72 115.5,78 C114.5,86 110,93 103,96 C99,97.5 96.5,97.5 95,98.5 C94,100.5 91,101.5 88,101 C85.5,100.5 84.5,98.5 85,96.5 C81,93 77,87 75.5,80 C74.5,73 75.5,66 78.5,60 C80.5,56 83,52 85.5,49 C86.5,42 86.5,34 86.8,26 C86.8,21 87,17 88,14 Z" fill="url(#g7)"/>
<path d="M49,16.8 C55,15.5 62,15.8 66,17.2 L66.5,20.5 L68,22 L80,21 L82,18.8 L86.5,20.5 L87,30 L86.5,40 L86,47 C81,51 77,54 74,57 C70,60 66,62 63,65.5 C60.5,69 58.5,72 57,75 C56,77.5 55,79.5 54,81 C50,79 45,74 42,67 C38.5,60 36.8,52 36.8,43 C36.8,33 37.8,24 42,19.5 C44.5,17.3 47,16.8 49,16.8 Z" fill="url(#g6)"/>
</g>
<text x="217.70" y="136.80" font-size="6.7" text-anchor="middle" fill="#333333" stroke="#333333" stroke-width="0.15" textLength="15.4" lengthAdjust="spacingAndGlyphs">LC3B</text>
<g transform="translate(21.25,200.35) scale(0.5)">
<path d="M88,14 C89.5,11 94,9.2 101,9.2 C110,9.3 118,12.5 123,19 C127.5,25 128.5,33 127.8,40 C127,48 123,56 117,62 C116,66 116.5,72 115.5,78 C114.5,86 110,93 103,96 C99,97.5 96.5,97.5 95,98.5 C94,100.5 91,101.5 88,101 C85.5,100.5 84.5,98.5 85,96.5 C81,93 77,87 75.5,80 C74.5,73 75.5,66 78.5,60 C80.5,56 83,52 85.5,49 C86.5,42 86.5,34 86.8,26 C86.8,21 87,17 88,14 Z" fill="url(#g9)"/>
<path d="M49,16.8 C55,15.5 62,15.8 66,17.2 L66.5,20.5 L68,22 L80,21 L82,18.8 L86.5,20.5 L87,30 L86.5,40 L86,47 C81,51 77,54 74,57 C70,60 66,62 63,65.5 C60.5,69 58.5,72 57,75 C56,77.5 55,79.5 54,81 C50,79 45,74 42,67 C38.5,60 36.8,52 36.8,43 C36.8,33 37.8,24 42,19.5 C44.5,17.3 47,16.8 49,16.8 Z" fill="url(#g8)"/>
</g>
<text x="62.90" y="199.70" font-size="6.7" text-anchor="middle" fill="#333333" stroke="#333333" stroke-width="0.15" textLength="35.8" lengthAdjust="spacingAndGlyphs">Cleaved PARP</text>
<g transform="translate(72.85,200.35) scale(0.5)">
<path d="M88,14 C89.5,11 94,9.2 101,9.2 C110,9.3 118,12.5 123,19 C127.5,25 128.5,33 127.8,40 C127,48 123,56 117,62 C116,66 116.5,72 115.5,78 C114.5,86 110,93 103,96 C99,97.5 96.5,97.5 95,98.5 C94,100.5 91,101.5 88,101 C85.5,100.5 84.5,98.5 85,96.5 C81,93 77,87 75.5,80 C74.5,73 75.5,66 78.5,60 C80.5,56 83,52 85.5,49 C86.5,42 86.5,34 86.8,26 C86.8,21 87,17 88,14 Z" fill="url(#g11)"/>
<path d="M49,16.8 C55,15.5 62,15.8 66,17.2 L66.5,20.5 L68,22 L80,21 L82,18.8 L86.5,20.5 L87,30 L86.5,40 L86,47 C81,51 77,54 74,57 C70,60 66,62 63,65.5 C60.5,69 58.5,72 57,75 C56,77.5 55,79.5 54,81 C50,79 45,74 42,67 C38.5,60 36.8,52 36.8,43 C36.8,33 37.8,24 42,19.5 C44.5,17.3 47,16.8 49,16.8 Z" fill="url(#g10)"/>
</g>
<text x="114.50" y="199.70" font-size="6.7" text-anchor="middle" fill="#333333" stroke="#333333" stroke-width="0.15" textLength="27.7" lengthAdjust="spacingAndGlyphs">Live-dead</text>
<g transform="translate(124.45,200.35) scale(0.5)">
<path d="M88,14 C89.5,11 94,9.2 101,9.2 C110,9.3 118,12.5 123,19 C127.5,25 128.5,33 127.8,40 C127,48 123,56 117,62 C116,66 116.5,72 115.5,78 C114.5,86 110,93 103,96 C99,97.5 96.5,97.5 95,98.5 C94,100.5 91,101.5 88,101 C85.5,100.5 84.5,98.5 85,96.5 C81,93 77,87 75.5,80 C74.5,73 75.5,66 78.5,60 C80.5,56 83,52 85.5,49 C86.5,42 86.5,34 86.8,26 C86.8,21 87,17 88,14 Z" fill="url(#g13)"/>
<path d="M49,16.8 C55,15.5 62,15.8 66,17.2 L66.5,20.5 L68,22 L80,21 L82,18.8 L86.5,20.5 L87,30 L86.5,40 L86,47 C81,51 77,54 74,57 C70,60 66,62 63,65.5 C60.5,69 58.5,72 57,75 C56,77.5 55,79.5 54,81 C50,79 45,74 42,67 C38.5,60 36.8,52 36.8,43 C36.8,33 37.8,24 42,19.5 C44.5,17.3 47,16.8 49,16.8 Z" fill="url(#g12)"/>
</g>
<text x="166.10" y="199.70" font-size="6.7" text-anchor="middle" fill="#333333" stroke="#333333" stroke-width="0.15" textLength="9.8" lengthAdjust="spacingAndGlyphs">p21</text>
<g transform="translate(176.05,200.35) scale(0.5)">
<path d="M88,14 C89.5,11 94,9.2 101,9.2 C110,9.3 118,12.5 123,19 C127.5,25 128.5,33 127.8,40 C127,48 123,56 117,62 C116,66 116.5,72 115.5,78 C114.5,86 110,93 103,96 C99,97.5 96.5,97.5 95,98.5 C94,100.5 91,101.5 88,101 C85.5,100.5 84.5,98.5 85,96.5 C81,93 77,87 75.5,80 C74.5,73 75.5,66 78.5,60 C80.5,56 83,52 85.5,49 C86.5,42 86.5,34 86.8,26 C86.8,21 87,17 88,14 Z" fill="url(#g15)"/>
<path d="M49,16.8 C55,15.5 62,15.8 66,17.2 L66.5,20.5 L68,22 L80,21 L82,18.8 L86.5,20.5 L87,30 L86.5,40 L86,47 C81,51 77,54 74,57 C70,60 66,62 63,65.5 C60.5,69 58.5,72 57,75 C56,77.5 55,79.5 54,81 C50,79 45,74 42,67 C38.5,60 36.8,52 36.8,43 C36.8,33 37.8,24 42,19.5 C44.5,17.3 47,16.8 49,16.8 Z" fill="url(#g14)"/>
</g>
<text x="217.70" y="199.70" font-size="6.7" text-anchor="middle" fill="#333333" stroke="#333333" stroke-width="0.15" textLength="13.1" lengthAdjust="spacingAndGlyphs">RIP3</text>
<defs><linearGradient id="g0" gradientUnits="userSpaceOnUse" x1="75" y1="18" x2="45" y2="80"><stop offset="0" stop-color="#d6d63a"/><stop offset="0.35" stop-color="#a8d060"/><stop offset="0.62" stop-color="#58b0d0"/><stop offset="0.85" stop-color="#3a70c0"/><stop offset="1" stop-color="#243a98"/></linearGradient><linearGradient id="g1" gradientUnits="userSpaceOnUse" x1="86" y1="30" x2="128" y2="40"><stop offset="0" stop-color="#d42010"/><stop offset="0.4" stop-color="#ec5012"/><stop offset="0.75" stop-color="#f08418"/><stop offset="1" stop-color="#f4b428"/></linearGradient><linearGradient id="g2" gradientUnits="userSpaceOnUse" x1="40" y1="72" x2="86" y2="25"><stop offset="0" stop-color="#23379a"/><stop offset="0.4" stop-color="#3a78cc"/><stop offset="0.8" stop-color="#5ab8d8"/><stop offset="1" stop-color="#8cd080"/></linearGradient><linearGradient id="g3" gradientUnits="userSpaceOnUse" x1="126" y1="14" x2="80" y2="96"><stop offset="0" stop-color="#c81a10"/><stop offset="0.22" stop-color="#e43a14"/><stop offset="0.42" stop-color="#f0a020"/><stop offset="0.53" stop-color="#e8d828"/><stop offset="0.66" stop-color="#88c8a0"/><stop offset="0.8" stop-color="#40a0d8"/><stop offset="1" stop-color="#23379a"/></linearGradient><linearGradient id="g4" gradientUnits="userSpaceOnUse" x1="37" y1="50" x2="88" y2="50"><stop offset="0" stop-color="#243c9c"/><stop offset="0.3" stop-color="#3c88d4"/><stop offset="0.6" stop-color="#7cc8a0"/><stop offset="0.85" stop-color="#dcc838"/><stop offset="1" stop-color="#e07020"/></linearGradient><linearGradient id="g5" gradientUnits="userSpaceOnUse" x1="125" y1="15" x2="80" y2="95"><stop offset="0" stop-color="#eed028"/><stop offset="0.5" stop-color="#d4d83a"/><stop offset="1" stop-color="#a0d070"/></linearGradient><linearGradient id="g6" gradientUnits="userSpaceOnUse" x1="70" y1="16" x2="48" y2="80"><stop offset="0" stop-color="#ee6a1c"/><stop offset="0.18" stop-color="#f0b020"/><stop offset="0.4" stop-color="#c8d040"/><stop offset="0.65" stop-color="#58b8c0"/><stop offset="0.85" stop-color="#3868c0"/><stop offset="1" stop-color="#22348e"/></linearGradient><linearGradient id="g7" gradientUnits="userSpaceOnUse" x1="118" y1="12" x2="80" y2="95"><stop offset="0" stop-color="#ec5a1c"/><stop offset="0.25" stop-color="#f4a020"/><stop offset="0.5" stop-color="#e8d030"/><stop offset="0.8" stop-color="#b0d050"/><stop offset="1" stop-color="#90c868"/></linearGradient><linearGradient id="g8" gradientUnits="userSpaceOnUse" x1="84" y1="18" x2="42" y2="78"><stop offset="0" stop-color="#dc3a1c"/><stop offset="0.12" stop-color="#eca820"/><stop offset="0.28" stop-color="#c8d040"/><stop offset="0.45" stop-color="#70c0b0"/><stop offset="0.62" stop-color="#4aa8dc"/><stop offset="0.82" stop-color="#3a70c8"/><stop offset="1" stop-color="#263c9e"/></linearGradient><linearGradient id="g9" gradientUnits="userSpaceOnUse" x1="100" y1="10" x2="95" y2="100"><stop offset="0" stop-color="#58b8e4"/><stop offset="0.5" stop-color="#3a8ad8"/><stop offset="0.85" stop-color="#2e50b0"/><stop offset="1" stop-color="#2a3ca0"/></linearGradient><linearGradient id="g10" gradientUnits="userSpaceOnUse" x1="70" y1="16" x2="52" y2="80"><stop offset="0" stop-color="#e8501c"/><stop offset="0.22" stop-color="#f0a020"/><stop offset="0.45" stop-color="#e0d028"/><stop offset="0.65" stop-color="#a8d050"/><stop offset="0.85" stop-color="#4ab0d0"/><stop offset="1" stop-color="#3a8ad0"/></linearGradient><linearGradient id="g11" gradientUnits="userSpaceOnUse" x1="105" y1="10" x2="90" y2="100"><stop offset="0" stop-color="#5cb4e4"/><stop offset="0.4" stop-color="#3a86d6"/><stop offset="0.75" stop-color="#2c52b0"/><stop offset="1" stop-color="#24328e"/></linearGradient><linearGradient id="g12" gradientUnits="userSpaceOnUse" x1="60" y1="16" x2="52" y2="80"><stop offset="0" stop-color="#e8a030"/><stop offset="0.2" stop-color="#c8d040"/><stop offset="0.45" stop-color="#78c8a0"/><stop offset="0.7" stop-color="#3a70c8"/><stop offset="1" stop-color="#23348e"/></linearGradient><linearGradient id="g13" gradientUnits="userSpaceOnUse" x1="110" y1="12" x2="95" y2="100"><stop offset="0" stop-color="#d4d83a"/><stop offset="0.3" stop-color="#e0d030"/><stop offset="0.6" stop-color="#9ccc70"/><stop offset="0.9" stop-color="#58b0d0"/><stop offset="1" stop-color="#60b8c8"/></linearGradient><linearGradient id="g14" gradientUnits="userSpaceOnUse" x1="65" y1="16" x2="50" y2="80"><stop offset="0" stop-color="#c0d030"/><stop offset="0.4" stop-color="#80c890"/><stop offset="0.7" stop-color="#4aa0d8"/><stop offset="1" stop-color="#2a4aa8"/></linearGradient><linearGradient id="g15" gradientUnits="userSpaceOnUse" x1="86" y1="30" x2="128" y2="40"><stop offset="0" stop-color="#d42010"/><stop offset="0.4" stop-color="#e84414"/><stop offset="0.7" stop-color="#f07818"/><stop offset="1" stop-color="#f4b028"/></linearGradient></defs>
<defs><linearGradient id="jet" x1="0" y1="0" x2="0" y2="1"><stop offset="0" stop-color="#8a0a0a"/><stop offset="0.1" stop-color="#dc1a14"/><stop offset="0.26" stop-color="#f07a12"/><stop offset="0.4" stop-color="#e8d820"/><stop offset="0.52" stop-color="#a8cc38"/><stop offset="0.66" stop-color="#40b8e0"/><stop offset="0.82" stop-color="#2e50b0"/><stop offset="1" stop-color="#1a1a70"/></linearGradient></defs>
<rect x="256.20" y="172.30" width="6.00" height="37.50" fill="url(#jet)"/>
<text x="264.20" y="174.08" font-size="5.8" text-anchor="start" fill="#333333" stroke="#333333" stroke-width="0.15">Hi</text>
<text x="264.20" y="212.08" font-size="5.8" text-anchor="start" fill="#333333" stroke="#333333" stroke-width="0.15">Lo</text>
<text x="251.30" y="193.22" font-size="6.2" text-anchor="middle" fill="#333333" stroke="#333333" stroke-width="0.15" transform="rotate(-90 251.30 191.00)" textLength="28" lengthAdjust="spacingAndGlyphs">Expression</text>
<line x1="35.20" y1="230.80" x2="35.20" y2="254.30" stroke="#666" stroke-width="1.1"/>
<line x1="34.65" y1="254.30" x2="59.40" y2="254.30" stroke="#666" stroke-width="1.1"/>
<text x="47.20" y="263.82" font-size="7.6" text-anchor="middle" fill="#333333" stroke="#333333" stroke-width="0.15" textLength="21.7" lengthAdjust="spacingAndGlyphs">UMAP1</text>
<text x="29.60" y="245.52" font-size="7.6" text-anchor="middle" fill="#333333" stroke="#333333" stroke-width="0.15" transform="rotate(-90 29.60 242.80)" textLength="22" lengthAdjust="spacingAndGlyphs">UMAP2</text>
<text x="9.60" y="281.39" font-size="10.6" font-weight="bold" fill="#111" stroke="#111" stroke-width="0.45">D</text>
<line x1="40.20" y1="280.80" x2="40.20" y2="381.60" stroke="#333" stroke-width="1.25"/>
<line x1="39.60" y1="381.60" x2="138.60" y2="381.60" stroke="#333" stroke-width="1.25"/>
<line x1="37.80" y1="289.30" x2="40.20" y2="289.30" stroke="#333" stroke-width="0.9"/>
<text x="34.60" y="291.63" font-size="6.5" text-anchor="end" fill="#333333" stroke="#333333" stroke-width="0.15">10</text>
<line x1="37.80" y1="308.70" x2="40.20" y2="308.70" stroke="#333" stroke-width="0.9"/>
<text x="34.60" y="311.03" font-size="6.5" text-anchor="end" fill="#333333" stroke="#333333" stroke-width="0.15">5</text>
<line x1="37.80" y1="328.10" x2="40.20" y2="328.10" stroke="#333" stroke-width="0.9"/>
<text x="34.60" y="330.43" font-size="6.5" text-anchor="end" fill="#333333" stroke="#333333" stroke-width="0.15">0</text>
<line x1="37.80" y1="347.50" x2="40.20" y2="347.50" stroke="#333" stroke-width="0.9"/>
<text x="34.60" y="349.83" font-size="6.5" text-anchor="end" fill="#333333" stroke="#333333" stroke-width="0.15">−5</text>
<line x1="37.80" y1="366.90" x2="40.20" y2="366.90" stroke="#333" stroke-width="0.9"/>
<text x="34.60" y="369.23" font-size="6.5" text-anchor="end" fill="#333333" stroke="#333333" stroke-width="0.15">−10</text>
<line x1="54.80" y1="381.40" x2="54.80" y2="383.80" stroke="#333" stroke-width="0.9"/>
<text x="54.80" y="394.03" font-size="6.5" text-anchor="middle" fill="#333333" stroke="#333333" stroke-width="0.15">−5</text>
<line x1="76.60" y1="381.40" x2="76.60" y2="383.80" stroke="#333" stroke-width="0.9"/>
<text x="76.60" y="394.03" font-size="6.5" text-anchor="middle" fill="#333333" stroke="#333333" stroke-width="0.15">0</text>
<line x1="98.40" y1="381.40" x2="98.40" y2="383.80" stroke="#333" stroke-width="0.9"/>
<text x="98.40" y="394.03" font-size="6.5" text-anchor="middle" fill="#333333" stroke="#333333" stroke-width="0.15">5</text>
<line x1="120.20" y1="381.40" x2="120.20" y2="383.80" stroke="#333" stroke-width="0.9"/>
<text x="120.20" y="394.03" font-size="6.5" text-anchor="middle" fill="#333333" stroke="#333333" stroke-width="0.15">10</text>
<text x="89.00" y="405.46" font-size="8.0" text-anchor="middle" fill="#333333" stroke="#333333" stroke-width="0.15" textLength="27" lengthAdjust="spacingAndGlyphs">UMAP_1</text>
<text x="14.60" y="333.86" font-size="8.0" text-anchor="middle" fill="#333333" stroke="#333333" stroke-width="0.15" transform="rotate(-90 14.60 331.00)" textLength="26.3" lengthAdjust="spacingAndGlyphs">UMAP_2</text>
<circle cx="44.50" cy="286.50" r="1.10" fill="#1d4a86"/>
<circle cx="45.50" cy="288.50" r="1.10" fill="#1d4a86"/>
<circle cx="47.50" cy="287.00" r="1.10" fill="#1d4a86"/>
<circle cx="46.00" cy="285.50" r="1.10" fill="#1d4a86"/>
<path d="M57.1,323.6 L58.5,321.2 L59.9,323.6 Z" fill="#222"/>
<path d="M58.1,324.6 L59.5,322.2 L60.9,324.6 Z" fill="#222"/>
<rect x="62.50" y="324.80" width="2.00" height="2.00" fill="#333"/>
<path d="M67.4,324.5 L68.6,325.7 L67.4,326.9 L66.2,325.7 Z" fill="#222"/>
<circle cx="60.50" cy="324.80" r="1.00" fill="#333"/>
<circle cx="63.50" cy="328.50" r="1.00" fill="#e8c21e"/>
<circle cx="65.50" cy="329.50" r="1.00" fill="#e8c21e"/>
<circle cx="66.50" cy="327.50" r="1.00" fill="#e8c21e"/>
<circle cx="68.50" cy="329.00" r="1.00" fill="#e8c21e"/>
<line x1="129.20" y1="378.00" x2="135.00" y2="373.20" stroke="#2e8a2e" stroke-width="2.2" stroke-linecap="round"/>
<text x="142.20" y="285.89" font-size="6.4" text-anchor="start" fill="#333333" stroke="#333333" stroke-width="0.15" textLength="26" lengthAdjust="spacingAndGlyphs">Treatment</text>
<circle cx="145.80" cy="293.00" r="2.20" fill="#3e4452" stroke="#333" stroke-width="0.3"/>
<text x="151.60" y="295.29" font-size="6.4" text-anchor="start" fill="#333333" stroke="#333333" stroke-width="0.15">Cont</text>
<circle cx="145.80" cy="301.00" r="2.20" fill="#e8c21e" stroke="#333" stroke-width="0.3"/>
<text x="151.60" y="303.29" font-size="6.4" text-anchor="start" fill="#333333" stroke="#333333" stroke-width="0.15">40nM</text>
<circle cx="145.80" cy="308.70" r="2.20" fill="#1d4a86" stroke="#333" stroke-width="0.3"/>
<text x="151.60" y="310.99" font-size="6.4" text-anchor="start" fill="#333333" stroke="#333333" stroke-width="0.15">100nM</text>
<circle cx="145.80" cy="316.50" r="2.20" fill="#2ea02e" stroke="#333" stroke-width="0.3"/>
<text x="151.60" y="318.79" font-size="6.4" text-anchor="start" fill="#333333" stroke="#333333" stroke-width="0.15">250nM</text>
<text x="142.20" y="334.29" font-size="6.4" text-anchor="start" fill="#333333" stroke="#333333" stroke-width="0.15">TP53 status</text>
<path d="M143.4,343.0 L145.8,338.6 L148.2,343.0 Z" fill="#111"/>
<text x="151.20" y="343.29" font-size="6.4" text-anchor="start" fill="#333333" stroke="#333333" stroke-width="0.15">WT</text>
<rect x="143.70" y="346.90" width="4.20" height="4.20" fill="#111"/>
<text x="151.20" y="351.29" font-size="6.4" text-anchor="start" fill="#333333" stroke="#333333" stroke-width="0.15">KO</text>
<circle cx="145.80" cy="356.80" r="2.10" fill="#111"/>
<text x="151.20" y="359.09" font-size="6.4" text-anchor="start" fill="#333333" stroke="#333333" stroke-width="0.15">R175H</text>
<path d="M145.8,362.5 L147.9,364.6 L145.8,366.7 L143.7,364.6 Z" fill="#111"/>
<text x="151.20" y="366.89" font-size="6.4" text-anchor="start" fill="#333333" stroke="#333333" stroke-width="0.15">Y220C</text>
<text x="200.60" y="281.39" font-size="10.6" font-weight="bold" fill="#111" stroke="#111" stroke-width="0.45">E</text>
<g shape-rendering="crispEdges">
<rect x="219.80" y="290.90" width="1.55" height="11.32" fill="#d8503f"/>
<rect x="219.80" y="302.17" width="1.55" height="11.32" fill="#d0503c"/>
<rect x="219.80" y="313.44" width="1.55" height="11.32" fill="#ea583f"/>
<rect x="219.80" y="324.71" width="1.55" height="11.32" fill="#dc5840"/>
<rect x="219.80" y="335.98" width="1.55" height="11.32" fill="#86217a"/>
<rect x="219.80" y="347.25" width="1.55" height="11.32" fill="#7f2281"/>
<rect x="219.80" y="358.52" width="1.55" height="11.32" fill="#531d76"/>
<rect x="219.80" y="369.79" width="1.55" height="11.32" fill="#521f7d"/>
<rect x="219.80" y="381.06" width="1.55" height="11.32" fill="#4f1e82"/>
<rect x="221.30" y="290.90" width="1.05" height="11.32" fill="#d8503f"/>
<rect x="221.30" y="302.17" width="1.05" height="11.32" fill="#d95d29"/>
<rect x="221.30" y="313.44" width="1.05" height="11.32" fill="#d7513a"/>
<rect x="221.30" y="324.71" width="1.05" height="11.32" fill="#d8573f"/>
<rect x="221.30" y="335.98" width="1.05" height="11.32" fill="#932486"/>
<rect x="221.30" y="347.25" width="1.05" height="11.32" fill="#772079"/>
<rect x="221.30" y="358.52" width="1.05" height="11.32" fill="#5b2081"/>
<rect x="221.30" y="369.79" width="1.05" height="11.32" fill="#531f7e"/>
<rect x="221.30" y="381.06" width="1.05" height="11.32" fill="#481b77"/>
<rect x="222.30" y="290.90" width="1.05" height="11.32" fill="#df5341"/>
<rect x="222.30" y="302.17" width="1.05" height="11.32" fill="#e9642c"/>
<rect x="222.30" y="313.44" width="1.05" height="11.32" fill="#dc533b"/>
<rect x="222.30" y="324.71" width="1.05" height="11.32" fill="#df5e38"/>
<rect x="222.30" y="335.98" width="1.05" height="11.32" fill="#86217a"/>
<rect x="222.30" y="347.25" width="1.05" height="11.32" fill="#772079"/>
<rect x="222.30" y="358.52" width="1.05" height="11.32" fill="#5e2185"/>
<rect x="222.30" y="369.79" width="1.05" height="11.32" fill="#4c1c73"/>
<rect x="222.30" y="381.06" width="1.05" height="11.32" fill="#471b76"/>
<rect x="223.30" y="290.90" width="2.05" height="11.32" fill="#e35442"/>
<rect x="223.30" y="302.17" width="2.05" height="11.32" fill="#f76a2e"/>
<rect x="223.30" y="313.44" width="2.05" height="11.32" fill="#e05048"/>
<rect x="223.30" y="324.71" width="2.05" height="11.32" fill="#ce5040"/>
<rect x="223.30" y="335.98" width="2.05" height="11.32" fill="#8f2383"/>
<rect x="223.30" y="347.25" width="2.05" height="11.32" fill="#832385"/>
<rect x="223.30" y="358.52" width="2.05" height="11.32" fill="#5b2081"/>
<rect x="223.30" y="369.79" width="2.05" height="11.32" fill="#562083"/>
<rect x="223.30" y="381.06" width="2.05" height="11.32" fill="#471b76"/>
<rect x="225.30" y="290.90" width="1.55" height="11.32" fill="#de5240"/>
<rect x="225.30" y="302.17" width="1.55" height="11.32" fill="#f3682e"/>
<rect x="225.30" y="313.44" width="1.55" height="11.32" fill="#dd533b"/>
<rect x="225.30" y="324.71" width="1.55" height="11.32" fill="#d55a36"/>
<rect x="225.30" y="335.98" width="1.55" height="11.32" fill="#902484"/>
<rect x="225.30" y="347.25" width="1.55" height="11.32" fill="#802283"/>
<rect x="225.30" y="358.52" width="1.55" height="11.32" fill="#61228a"/>
<rect x="225.30" y="369.79" width="1.55" height="11.32" fill="#562082"/>
<rect x="225.30" y="381.06" width="1.55" height="11.32" fill="#471b75"/>
<rect x="226.80" y="290.90" width="2.05" height="11.32" fill="#d7503e"/>
<rect x="226.80" y="302.17" width="2.05" height="11.32" fill="#e3612b"/>
<rect x="226.80" y="313.44" width="2.05" height="11.32" fill="#dd533b"/>
<rect x="226.80" y="324.71" width="2.05" height="11.32" fill="#e55a45"/>
<rect x="226.80" y="335.98" width="2.05" height="11.32" fill="#89227d"/>
<rect x="226.80" y="347.25" width="2.05" height="11.32" fill="#862488"/>
<rect x="226.80" y="358.52" width="2.05" height="11.32" fill="#591f7f"/>
<rect x="226.80" y="369.79" width="2.05" height="11.32" fill="#4d1d75"/>
<rect x="226.80" y="381.06" width="2.05" height="11.32" fill="#481b78"/>
<rect x="228.80" y="290.90" width="1.55" height="11.32" fill="#e55542"/>
<rect x="228.80" y="302.17" width="1.55" height="11.32" fill="#e0602a"/>
<rect x="228.80" y="313.44" width="1.55" height="11.32" fill="#d9523a"/>
<rect x="228.80" y="324.71" width="1.55" height="11.32" fill="#f2663d"/>
<rect x="228.80" y="335.98" width="1.55" height="11.32" fill="#842178"/>
<rect x="228.80" y="347.25" width="1.55" height="11.32" fill="#772079"/>
<rect x="228.80" y="358.52" width="1.55" height="11.32" fill="#561e7a"/>
<rect x="228.80" y="369.79" width="1.55" height="11.32" fill="#4e1d76"/>
<rect x="228.80" y="381.06" width="1.55" height="11.32" fill="#491b79"/>
<rect x="230.30" y="290.90" width="1.05" height="11.32" fill="#cc4c3b"/>
<rect x="230.30" y="302.17" width="1.05" height="11.32" fill="#e3622b"/>
<rect x="230.30" y="313.44" width="1.05" height="11.32" fill="#ec593f"/>
<rect x="230.30" y="324.71" width="1.05" height="11.32" fill="#e4603a"/>
<rect x="230.30" y="335.98" width="1.05" height="11.32" fill="#8e2382"/>
<rect x="230.30" y="347.25" width="1.05" height="11.32" fill="#812283"/>
<rect x="230.30" y="358.52" width="1.05" height="11.32" fill="#531d76"/>
<rect x="230.30" y="369.79" width="1.05" height="11.32" fill="#572083"/>
<rect x="230.30" y="381.06" width="1.05" height="11.32" fill="#4d1d7f"/>
<rect x="231.30" y="290.90" width="2.05" height="11.32" fill="#d8503f"/>
<rect x="231.30" y="302.17" width="2.05" height="11.32" fill="#e4622b"/>
<rect x="231.30" y="313.44" width="2.05" height="11.32" fill="#d3494b"/>
<rect x="231.30" y="324.71" width="2.05" height="11.32" fill="#cf5042"/>
<rect x="231.30" y="335.98" width="2.05" height="11.32" fill="#8d2381"/>
<rect x="231.30" y="347.25" width="2.05" height="11.32" fill="#7e2280"/>
<rect x="231.30" y="358.52" width="2.05" height="11.32" fill="#602289"/>
<rect x="231.30" y="369.79" width="2.05" height="11.32" fill="#531f7e"/>
<rect x="231.30" y="381.06" width="2.05" height="11.32" fill="#441a71"/>
<rect x="233.30" y="290.90" width="1.05" height="11.32" fill="#d14d3c"/>
<rect x="233.30" y="302.17" width="1.05" height="11.32" fill="#e3612b"/>
<rect x="233.30" y="313.44" width="1.05" height="11.32" fill="#d24f38"/>
<rect x="233.30" y="324.71" width="1.05" height="11.32" fill="#f3663e"/>
<rect x="233.30" y="335.98" width="1.05" height="11.32" fill="#8b227f"/>
<rect x="233.30" y="347.25" width="1.05" height="11.32" fill="#7d217f"/>
<rect x="233.30" y="358.52" width="1.05" height="11.32" fill="#541d77"/>
<rect x="233.30" y="369.79" width="1.05" height="11.32" fill="#4c1d74"/>
<rect x="233.30" y="381.06" width="1.05" height="11.32" fill="#481b76"/>
<rect x="234.30" y="290.90" width="1.55" height="11.32" fill="#e15441"/>
<rect x="234.30" y="302.17" width="1.55" height="11.32" fill="#de5f2a"/>
<rect x="234.30" y="313.44" width="1.55" height="11.32" fill="#d9523a"/>
<rect x="234.30" y="324.71" width="1.55" height="11.32" fill="#f1653d"/>
<rect x="234.30" y="335.98" width="1.55" height="11.32" fill="#912485"/>
<rect x="234.30" y="347.25" width="1.55" height="11.32" fill="#79207b"/>
<rect x="234.30" y="358.52" width="1.55" height="11.32" fill="#5c2082"/>
<rect x="234.30" y="369.79" width="1.55" height="11.32" fill="#4c1c73"/>
<rect x="234.30" y="381.06" width="1.55" height="11.32" fill="#4e1d80"/>
<rect x="235.80" y="290.90" width="1.55" height="11.32" fill="#d7503e"/>
<rect x="235.80" y="302.17" width="1.55" height="11.32" fill="#de583c"/>
<rect x="235.80" y="313.44" width="1.55" height="11.32" fill="#e1553c"/>
<rect x="235.80" y="324.71" width="1.55" height="11.32" fill="#ec633c"/>
<rect x="235.80" y="335.98" width="1.55" height="11.32" fill="#852179"/>
<rect x="235.80" y="347.25" width="1.55" height="11.32" fill="#78207a"/>
<rect x="235.80" y="358.52" width="1.55" height="11.32" fill="#581f7d"/>
<rect x="235.80" y="369.79" width="1.55" height="11.32" fill="#552082"/>
<rect x="235.80" y="381.06" width="1.55" height="11.32" fill="#461a74"/>
<rect x="237.30" y="290.90" width="2.05" height="11.32" fill="#cd4c3b"/>
<rect x="237.30" y="302.17" width="2.05" height="11.32" fill="#d95836"/>
<rect x="237.30" y="313.44" width="2.05" height="11.32" fill="#ec593f"/>
<rect x="237.30" y="324.71" width="2.05" height="11.32" fill="#f1653d"/>
<rect x="237.30" y="335.98" width="2.05" height="11.32" fill="#962589"/>
<rect x="237.30" y="347.25" width="2.05" height="11.32" fill="#872489"/>
<rect x="237.30" y="358.52" width="2.05" height="11.32" fill="#581f7d"/>
<rect x="237.30" y="369.79" width="2.05" height="11.32" fill="#4e1d76"/>
<rect x="237.30" y="381.06" width="2.05" height="11.32" fill="#461a74"/>
<rect x="239.30" y="290.90" width="1.05" height="11.32" fill="#db513f"/>
<rect x="239.30" y="302.17" width="1.05" height="11.32" fill="#eb652c"/>
<rect x="239.30" y="313.44" width="1.05" height="11.32" fill="#d14949"/>
<rect x="239.30" y="324.71" width="1.05" height="11.32" fill="#ee643c"/>
<rect x="239.30" y="335.98" width="1.05" height="11.32" fill="#832078"/>
<rect x="239.30" y="347.25" width="1.05" height="11.32" fill="#7b217d"/>
<rect x="239.30" y="358.52" width="1.05" height="11.32" fill="#5d2184"/>
<rect x="239.30" y="369.79" width="1.05" height="11.32" fill="#4e1d76"/>
<rect x="239.30" y="381.06" width="1.05" height="11.32" fill="#4e1d81"/>
<rect x="240.30" y="290.90" width="2.05" height="11.32" fill="#d6503e"/>
<rect x="240.30" y="302.17" width="2.05" height="11.32" fill="#f76a2e"/>
<rect x="240.30" y="313.44" width="2.05" height="11.32" fill="#da523b"/>
<rect x="240.30" y="324.71" width="2.05" height="11.32" fill="#eb633b"/>
<rect x="240.30" y="335.98" width="2.05" height="11.32" fill="#842179"/>
<rect x="240.30" y="347.25" width="2.05" height="11.32" fill="#761f78"/>
<rect x="240.30" y="358.52" width="2.05" height="11.32" fill="#541e78"/>
<rect x="240.30" y="369.79" width="2.05" height="11.32" fill="#572184"/>
<rect x="240.30" y="381.06" width="2.05" height="11.32" fill="#4d1d7f"/>
<rect x="242.30" y="290.90" width="1.05" height="11.32" fill="#de5340"/>
<rect x="242.30" y="302.17" width="1.05" height="11.32" fill="#f66a2e"/>
<rect x="242.30" y="313.44" width="1.05" height="11.32" fill="#c94742"/>
<rect x="242.30" y="324.71" width="1.05" height="11.32" fill="#eb633b"/>
<rect x="242.30" y="335.98" width="1.05" height="11.32" fill="#832077"/>
<rect x="242.30" y="347.25" width="1.05" height="11.32" fill="#832385"/>
<rect x="242.30" y="358.52" width="1.05" height="11.32" fill="#541e78"/>
<rect x="242.30" y="369.79" width="1.05" height="11.32" fill="#582185"/>
<rect x="242.30" y="381.06" width="1.05" height="11.32" fill="#461a74"/>
<rect x="243.30" y="290.90" width="1.05" height="11.32" fill="#d74d47"/>
<rect x="243.30" y="302.17" width="1.05" height="11.32" fill="#e2612a"/>
<rect x="243.30" y="313.44" width="1.05" height="11.32" fill="#e8573e"/>
<rect x="243.30" y="324.71" width="1.05" height="11.32" fill="#e6584c"/>
<rect x="243.30" y="335.98" width="1.05" height="11.32" fill="#8f2383"/>
<rect x="243.30" y="347.25" width="1.05" height="11.32" fill="#842386"/>
<rect x="243.30" y="358.52" width="1.05" height="11.32" fill="#5a2080"/>
<rect x="243.30" y="369.79" width="1.05" height="11.32" fill="#562082"/>
<rect x="243.30" y="381.06" width="1.05" height="11.32" fill="#4e1d81"/>
<rect x="244.30" y="290.90" width="1.05" height="11.32" fill="#dc5240"/>
<rect x="244.30" y="302.17" width="1.05" height="11.32" fill="#d55537"/>
<rect x="244.30" y="313.44" width="1.05" height="11.32" fill="#cc4846"/>
<rect x="244.30" y="324.71" width="1.05" height="11.32" fill="#eb633b"/>
<rect x="244.30" y="335.98" width="1.05" height="11.32" fill="#8d2381"/>
<rect x="244.30" y="347.25" width="1.05" height="11.32" fill="#7a217c"/>
<rect x="244.30" y="358.52" width="1.05" height="11.32" fill="#5a2080"/>
<rect x="244.30" y="369.79" width="1.05" height="11.32" fill="#521f7d"/>
<rect x="244.30" y="381.06" width="1.05" height="11.32" fill="#4d1d7f"/>
<rect x="245.30" y="290.90" width="1.05" height="11.32" fill="#ce4c3c"/>
<rect x="245.30" y="302.17" width="1.05" height="11.32" fill="#d65832"/>
<rect x="245.30" y="313.44" width="1.05" height="11.32" fill="#cf4e38"/>
<rect x="245.30" y="324.71" width="1.05" height="11.32" fill="#d65a36"/>
<rect x="245.30" y="335.98" width="1.05" height="11.32" fill="#88227c"/>
<rect x="245.30" y="347.25" width="1.05" height="11.32" fill="#872489"/>
<rect x="245.30" y="358.52" width="1.05" height="11.32" fill="#5b2082"/>
<rect x="245.30" y="369.79" width="1.05" height="11.32" fill="#4e1d76"/>
<rect x="245.30" y="381.06" width="1.05" height="11.32" fill="#471b75"/>
<rect x="246.30" y="290.90" width="2.05" height="11.32" fill="#d44f3d"/>
<rect x="246.30" y="302.17" width="2.05" height="11.32" fill="#f4692e"/>
<rect x="246.30" y="313.44" width="2.05" height="11.32" fill="#eb583f"/>
<rect x="246.30" y="324.71" width="2.05" height="11.32" fill="#da5c37"/>
<rect x="246.30" y="335.98" width="2.05" height="11.32" fill="#8a227e"/>
<rect x="246.30" y="347.25" width="2.05" height="11.32" fill="#7c217e"/>
<rect x="246.30" y="358.52" width="2.05" height="11.32" fill="#581f7d"/>
<rect x="246.30" y="369.79" width="2.05" height="11.32" fill="#4f1e78"/>
<rect x="246.30" y="381.06" width="2.05" height="11.32" fill="#4c1c7d"/>
<rect x="248.30" y="290.90" width="2.05" height="11.32" fill="#de4d4e"/>
<rect x="248.30" y="302.17" width="2.05" height="11.32" fill="#dc5f29"/>
<rect x="248.30" y="313.44" width="2.05" height="11.32" fill="#e2553d"/>
<rect x="248.30" y="324.71" width="2.05" height="11.32" fill="#e7584e"/>
<rect x="248.30" y="335.98" width="2.05" height="11.32" fill="#85217a"/>
<rect x="248.30" y="347.25" width="2.05" height="11.32" fill="#872489"/>
<rect x="248.30" y="358.52" width="2.05" height="11.32" fill="#581f7d"/>
<rect x="248.30" y="369.79" width="2.05" height="11.32" fill="#511e7b"/>
<rect x="248.30" y="381.06" width="2.05" height="11.32" fill="#4f1e83"/>
<rect x="250.30" y="290.90" width="1.05" height="11.32" fill="#d74c49"/>
<rect x="250.30" y="302.17" width="1.05" height="11.32" fill="#de5f2a"/>
<rect x="250.30" y="313.44" width="1.05" height="11.32" fill="#e4563d"/>
<rect x="250.30" y="324.71" width="1.05" height="11.32" fill="#da5445"/>
<rect x="250.30" y="335.98" width="1.05" height="11.32" fill="#812076"/>
<rect x="250.30" y="347.25" width="1.05" height="11.32" fill="#7a217c"/>
<rect x="250.30" y="358.52" width="1.05" height="11.32" fill="#5b2082"/>
<rect x="250.30" y="369.79" width="1.05" height="11.32" fill="#521f7c"/>
<rect x="250.30" y="381.06" width="1.05" height="11.32" fill="#441a71"/>
<rect x="251.30" y="290.90" width="1.05" height="11.32" fill="#cf4d3c"/>
<rect x="251.30" y="302.17" width="1.05" height="11.32" fill="#d95d29"/>
<rect x="251.30" y="313.44" width="1.05" height="11.32" fill="#d6513a"/>
<rect x="251.30" y="324.71" width="1.05" height="11.32" fill="#e95b48"/>
<rect x="251.30" y="335.98" width="1.05" height="11.32" fill="#932486"/>
<rect x="251.30" y="347.25" width="1.05" height="11.32" fill="#79207b"/>
<rect x="251.30" y="358.52" width="1.05" height="11.32" fill="#541e78"/>
<rect x="251.30" y="369.79" width="1.05" height="11.32" fill="#572184"/>
<rect x="251.30" y="381.06" width="1.05" height="11.32" fill="#4a1c7b"/>
<rect x="252.30" y="290.90" width="1.55" height="11.32" fill="#de5047"/>
<rect x="252.30" y="302.17" width="1.55" height="11.32" fill="#da5e29"/>
<rect x="252.30" y="313.44" width="1.55" height="11.32" fill="#e2553d"/>
<rect x="252.30" y="324.71" width="1.55" height="11.32" fill="#d65a36"/>
<rect x="252.30" y="335.98" width="1.55" height="11.32" fill="#932487"/>
<rect x="252.30" y="347.25" width="1.55" height="11.32" fill="#751f77"/>
<rect x="252.30" y="358.52" width="1.55" height="11.32" fill="#5f2187"/>
<rect x="252.30" y="369.79" width="1.55" height="11.32" fill="#511e7b"/>
<rect x="252.30" y="381.06" width="1.55" height="11.32" fill="#481b76"/>
<rect x="253.80" y="290.90" width="2.05" height="11.32" fill="#d44f3d"/>
<rect x="253.80" y="302.17" width="2.05" height="11.32" fill="#d65539"/>
<rect x="253.80" y="313.44" width="2.05" height="11.32" fill="#cc4a3f"/>
<rect x="253.80" y="324.71" width="2.05" height="11.32" fill="#d75541"/>
<rect x="253.80" y="335.98" width="2.05" height="11.32" fill="#912485"/>
<rect x="253.80" y="347.25" width="2.05" height="11.32" fill="#79207b"/>
<rect x="253.80" y="358.52" width="2.05" height="11.32" fill="#5a2080"/>
<rect x="253.80" y="369.79" width="2.05" height="11.32" fill="#4d1d75"/>
<rect x="253.80" y="381.06" width="2.05" height="11.32" fill="#481b77"/>
<rect x="255.80" y="290.90" width="1.05" height="11.32" fill="#cd4c3b"/>
<rect x="255.80" y="302.17" width="1.05" height="11.32" fill="#ee5e3f"/>
<rect x="255.80" y="313.44" width="1.05" height="11.32" fill="#d65139"/>
<rect x="255.80" y="324.71" width="1.05" height="11.32" fill="#e9623b"/>
<rect x="255.80" y="335.98" width="1.05" height="11.32" fill="#8f2383"/>
<rect x="255.80" y="347.25" width="1.05" height="11.32" fill="#812283"/>
<rect x="255.80" y="358.52" width="1.05" height="11.32" fill="#5a2080"/>
<rect x="255.80" y="369.79" width="1.05" height="11.32" fill="#572083"/>
<rect x="255.80" y="381.06" width="1.05" height="11.32" fill="#4f1e83"/>
<rect x="256.80" y="290.90" width="1.55" height="11.32" fill="#ea5744"/>
<rect x="256.80" y="302.17" width="1.55" height="11.32" fill="#f2682e"/>
<rect x="256.80" y="313.44" width="1.55" height="11.32" fill="#e2553d"/>
<rect x="256.80" y="324.71" width="1.55" height="11.32" fill="#df5d38"/>
<rect x="256.80" y="335.98" width="1.55" height="11.32" fill="#822076"/>
<rect x="256.80" y="347.25" width="1.55" height="11.32" fill="#761f78"/>
<rect x="256.80" y="358.52" width="1.55" height="11.32" fill="#531d77"/>
<rect x="256.80" y="369.79" width="1.55" height="11.32" fill="#552080"/>
<rect x="256.80" y="381.06" width="1.55" height="11.32" fill="#471a75"/>
<rect x="258.30" y="290.90" width="1.05" height="11.32" fill="#d2494a"/>
<rect x="258.30" y="302.17" width="1.05" height="11.32" fill="#f76a2e"/>
<rect x="258.30" y="313.44" width="1.05" height="11.32" fill="#e3563d"/>
<rect x="258.30" y="324.71" width="1.05" height="11.32" fill="#d75640"/>
<rect x="258.30" y="335.98" width="1.05" height="11.32" fill="#802075"/>
<rect x="258.30" y="347.25" width="1.05" height="11.32" fill="#7b217d"/>
<rect x="258.30" y="358.52" width="1.05" height="11.32" fill="#571f7c"/>
<rect x="258.30" y="369.79" width="1.05" height="11.32" fill="#582185"/>
<rect x="258.30" y="381.06" width="1.05" height="11.32" fill="#471b76"/>
<rect x="259.30" y="290.90" width="1.05" height="11.32" fill="#d64f3e"/>
<rect x="259.30" y="302.17" width="1.05" height="11.32" fill="#d75d28"/>
<rect x="259.30" y="313.44" width="1.05" height="11.32" fill="#dd533b"/>
<rect x="259.30" y="324.71" width="1.05" height="11.32" fill="#da5b37"/>
<rect x="259.30" y="335.98" width="1.05" height="11.32" fill="#8c2380"/>
<rect x="259.30" y="347.25" width="1.05" height="11.32" fill="#741f75"/>
<rect x="259.30" y="358.52" width="1.05" height="11.32" fill="#561e7b"/>
<rect x="259.30" y="369.79" width="1.05" height="11.32" fill="#4c1c73"/>
<rect x="259.30" y="381.06" width="1.05" height="11.32" fill="#481b78"/>
<rect x="260.30" y="290.90" width="1.05" height="11.32" fill="#d54f3e"/>
<rect x="260.30" y="302.17" width="1.05" height="11.32" fill="#da5e29"/>
<rect x="260.30" y="313.44" width="1.05" height="11.32" fill="#e8583e"/>
<rect x="260.30" y="324.71" width="1.05" height="11.32" fill="#e2554c"/>
<rect x="260.30" y="335.98" width="1.05" height="11.32" fill="#8e2381"/>
<rect x="260.30" y="347.25" width="1.05" height="11.32" fill="#832385"/>
<rect x="260.30" y="358.52" width="1.05" height="11.32" fill="#5d2184"/>
<rect x="260.30" y="369.79" width="1.05" height="11.32" fill="#511e7b"/>
<rect x="260.30" y="381.06" width="1.05" height="11.32" fill="#471b75"/>
<rect x="261.30" y="290.90" width="1.05" height="11.32" fill="#e04e51"/>
<rect x="261.30" y="302.17" width="1.05" height="11.32" fill="#ef672d"/>
<rect x="261.30" y="313.44" width="1.05" height="11.32" fill="#d24f38"/>
<rect x="261.30" y="324.71" width="1.05" height="11.32" fill="#e4603a"/>
<rect x="261.30" y="335.98" width="1.05" height="11.32" fill="#932486"/>
<rect x="261.30" y="347.25" width="1.05" height="11.32" fill="#842386"/>
<rect x="261.30" y="358.52" width="1.05" height="11.32" fill="#5e2186"/>
<rect x="261.30" y="369.79" width="1.05" height="11.32" fill="#531f7d"/>
<rect x="261.30" y="381.06" width="1.05" height="11.32" fill="#4e1d81"/>
<rect x="262.30" y="290.90" width="1.05" height="11.32" fill="#dc4f47"/>
<rect x="262.30" y="302.17" width="1.05" height="11.32" fill="#e3622b"/>
<rect x="262.30" y="313.44" width="1.05" height="11.32" fill="#d04e38"/>
<rect x="262.30" y="324.71" width="1.05" height="11.32" fill="#d45243"/>
<rect x="262.30" y="335.98" width="1.05" height="11.32" fill="#86217b"/>
<rect x="262.30" y="347.25" width="1.05" height="11.32" fill="#7d217f"/>
<rect x="262.30" y="358.52" width="1.05" height="11.32" fill="#531d77"/>
<rect x="262.30" y="369.79" width="1.05" height="11.32" fill="#572184"/>
<rect x="262.30" y="381.06" width="1.05" height="11.32" fill="#4e1d81"/>
<rect x="263.30" y="290.90" width="1.05" height="11.32" fill="#ce4d3c"/>
<rect x="263.30" y="302.17" width="1.05" height="11.32" fill="#df602a"/>
<rect x="263.30" y="313.44" width="1.05" height="11.32" fill="#e05146"/>
<rect x="263.30" y="324.71" width="1.05" height="11.32" fill="#e9594c"/>
<rect x="263.30" y="335.98" width="1.05" height="11.32" fill="#8b227f"/>
<rect x="263.30" y="347.25" width="1.05" height="11.32" fill="#7b217d"/>
<rect x="263.30" y="358.52" width="1.05" height="11.32" fill="#591f7f"/>
<rect x="263.30" y="369.79" width="1.05" height="11.32" fill="#541f7f"/>
<rect x="263.30" y="381.06" width="1.05" height="11.32" fill="#4d1d7f"/>
<rect x="264.30" y="290.90" width="1.05" height="11.32" fill="#d04b44"/>
<rect x="264.30" y="302.17" width="1.05" height="11.32" fill="#e1612a"/>
<rect x="264.30" y="313.44" width="1.05" height="11.32" fill="#ce4e37"/>
<rect x="264.30" y="324.71" width="1.05" height="11.32" fill="#e35a44"/>
<rect x="264.30" y="335.98" width="1.05" height="11.32" fill="#902483"/>
<rect x="264.30" y="347.25" width="1.05" height="11.32" fill="#812283"/>
<rect x="264.30" y="358.52" width="1.05" height="11.32" fill="#561e7b"/>
<rect x="264.30" y="369.79" width="1.05" height="11.32" fill="#521f7c"/>
<rect x="264.30" y="381.06" width="1.05" height="11.32" fill="#491b79"/>
<rect x="265.30" y="290.90" width="2.05" height="11.32" fill="#eb5744"/>
<rect x="265.30" y="302.17" width="2.05" height="11.32" fill="#e1612a"/>
<rect x="265.30" y="313.44" width="2.05" height="11.32" fill="#d14b44"/>
<rect x="265.30" y="324.71" width="2.05" height="11.32" fill="#eb5b4a"/>
<rect x="265.30" y="335.98" width="2.05" height="11.32" fill="#97258a"/>
<rect x="265.30" y="347.25" width="2.05" height="11.32" fill="#7b217d"/>
<rect x="265.30" y="358.52" width="2.05" height="11.32" fill="#5f2288"/>
<rect x="265.30" y="369.79" width="2.05" height="11.32" fill="#572184"/>
<rect x="265.30" y="381.06" width="2.05" height="11.32" fill="#441a71"/>
<rect x="267.30" y="290.90" width="1.05" height="11.32" fill="#e3504e"/>
<rect x="267.30" y="302.17" width="1.05" height="11.32" fill="#dc553f"/>
<rect x="267.30" y="313.44" width="1.05" height="11.32" fill="#e4563d"/>
<rect x="267.30" y="324.71" width="1.05" height="11.32" fill="#d95249"/>
<rect x="267.30" y="335.98" width="1.05" height="11.32" fill="#812076"/>
<rect x="267.30" y="347.25" width="1.05" height="11.32" fill="#731f75"/>
<rect x="267.30" y="358.52" width="1.05" height="11.32" fill="#591f7f"/>
<rect x="267.30" y="369.79" width="1.05" height="11.32" fill="#511e7b"/>
<rect x="267.30" y="381.06" width="1.05" height="11.32" fill="#471b76"/>
<rect x="268.30" y="290.90" width="1.05" height="11.32" fill="#d8503e"/>
<rect x="268.30" y="302.17" width="1.05" height="11.32" fill="#db5837"/>
<rect x="268.30" y="313.44" width="1.05" height="11.32" fill="#da523b"/>
<rect x="268.30" y="324.71" width="1.05" height="11.32" fill="#da5b37"/>
<rect x="268.30" y="335.98" width="1.05" height="11.32" fill="#812076"/>
<rect x="268.30" y="347.25" width="1.05" height="11.32" fill="#822384"/>
<rect x="268.30" y="358.52" width="1.05" height="11.32" fill="#561e7a"/>
<rect x="268.30" y="369.79" width="1.05" height="11.32" fill="#4c1c73"/>
<rect x="268.30" y="381.06" width="1.05" height="11.32" fill="#481b77"/>
<rect x="269.30" y="290.90" width="1.05" height="11.32" fill="#d9513f"/>
<rect x="269.30" y="302.17" width="1.05" height="11.32" fill="#d95d29"/>
<rect x="269.30" y="313.44" width="1.05" height="11.32" fill="#cf4948"/>
<rect x="269.30" y="324.71" width="1.05" height="11.32" fill="#db5c37"/>
<rect x="269.30" y="335.98" width="1.05" height="11.32" fill="#86217b"/>
<rect x="269.30" y="347.25" width="1.05" height="11.32" fill="#7e2280"/>
<rect x="269.30" y="358.52" width="1.05" height="11.32" fill="#551e79"/>
<rect x="269.30" y="369.79" width="1.05" height="11.32" fill="#501e79"/>
<rect x="269.30" y="381.06" width="1.05" height="11.32" fill="#4f1e82"/>
<rect x="270.30" y="290.90" width="1.05" height="11.32" fill="#e05341"/>
<rect x="270.30" y="302.17" width="1.05" height="11.32" fill="#f66a2e"/>
<rect x="270.30" y="313.44" width="1.05" height="11.32" fill="#e4563d"/>
<rect x="270.30" y="324.71" width="1.05" height="11.32" fill="#d95347"/>
<rect x="270.30" y="335.98" width="1.05" height="11.32" fill="#912485"/>
<rect x="270.30" y="347.25" width="1.05" height="11.32" fill="#802282"/>
<rect x="270.30" y="358.52" width="1.05" height="11.32" fill="#561e7b"/>
<rect x="270.30" y="369.79" width="1.05" height="11.32" fill="#4c1c73"/>
<rect x="270.30" y="381.06" width="1.05" height="11.32" fill="#4f1d82"/>
<rect x="271.30" y="290.90" width="1.05" height="11.32" fill="#d04a46"/>
<rect x="271.30" y="302.17" width="1.05" height="11.32" fill="#ef672d"/>
<rect x="271.30" y="313.44" width="1.05" height="11.32" fill="#db523b"/>
<rect x="271.30" y="324.71" width="1.05" height="11.32" fill="#e15847"/>
<rect x="271.30" y="335.98" width="1.05" height="11.32" fill="#832078"/>
<rect x="271.30" y="347.25" width="1.05" height="11.32" fill="#802282"/>
<rect x="271.30" y="358.52" width="1.05" height="11.32" fill="#531d77"/>
<rect x="271.30" y="369.79" width="1.05" height="11.32" fill="#521f7c"/>
<rect x="271.30" y="381.06" width="1.05" height="11.32" fill="#4d1d80"/>
<rect x="272.30" y="290.90" width="1.05" height="11.32" fill="#d6503e"/>
<rect x="272.30" y="302.17" width="1.05" height="11.32" fill="#e5622b"/>
<rect x="272.30" y="313.44" width="1.05" height="11.32" fill="#d65039"/>
<rect x="272.30" y="324.71" width="1.05" height="11.32" fill="#d65344"/>
<rect x="272.30" y="335.98" width="1.05" height="11.32" fill="#89227d"/>
<rect x="272.30" y="347.25" width="1.05" height="11.32" fill="#842386"/>
<rect x="272.30" y="358.52" width="1.05" height="11.32" fill="#551e79"/>
<rect x="272.30" y="369.79" width="1.05" height="11.32" fill="#4b1c72"/>
<rect x="272.30" y="381.06" width="1.05" height="11.32" fill="#4e1d81"/>
<rect x="273.30" y="290.90" width="2.05" height="11.32" fill="#dc5240"/>
<rect x="273.30" y="302.17" width="2.05" height="11.32" fill="#e2612b"/>
<rect x="273.30" y="313.44" width="2.05" height="11.32" fill="#e75349"/>
<rect x="273.30" y="324.71" width="2.05" height="11.32" fill="#e05746"/>
<rect x="273.30" y="335.98" width="2.05" height="11.32" fill="#942587"/>
<rect x="273.30" y="347.25" width="2.05" height="11.32" fill="#78207a"/>
<rect x="273.30" y="358.52" width="2.05" height="11.32" fill="#561e7b"/>
<rect x="273.30" y="369.79" width="2.05" height="11.32" fill="#4e1d77"/>
<rect x="273.30" y="381.06" width="2.05" height="11.32" fill="#481b78"/>
<rect x="275.30" y="290.90" width="2.05" height="11.32" fill="#d64f3e"/>
<rect x="275.30" y="302.17" width="2.05" height="11.32" fill="#f76a2e"/>
<rect x="275.30" y="313.44" width="2.05" height="11.32" fill="#e05048"/>
<rect x="275.30" y="324.71" width="2.05" height="11.32" fill="#f2663d"/>
<rect x="275.30" y="335.98" width="2.05" height="11.32" fill="#8b227f"/>
<rect x="275.30" y="347.25" width="2.05" height="11.32" fill="#751f77"/>
<rect x="275.30" y="358.52" width="2.05" height="11.32" fill="#602288"/>
<rect x="275.30" y="369.79" width="2.05" height="11.32" fill="#572184"/>
<rect x="275.30" y="381.06" width="2.05" height="11.32" fill="#4a1c7a"/>
<rect x="277.30" y="290.90" width="2.05" height="11.32" fill="#d44f3d"/>
<rect x="277.30" y="302.17" width="2.05" height="11.32" fill="#e25c36"/>
<rect x="277.30" y="313.44" width="2.05" height="11.32" fill="#eb593f"/>
<rect x="277.30" y="324.71" width="2.05" height="11.32" fill="#e8613b"/>
<rect x="277.30" y="335.98" width="2.05" height="11.32" fill="#912485"/>
<rect x="277.30" y="347.25" width="2.05" height="11.32" fill="#7d217f"/>
<rect x="277.30" y="358.52" width="2.05" height="11.32" fill="#5a2081"/>
<rect x="277.30" y="369.79" width="2.05" height="11.32" fill="#4b1c72"/>
<rect x="277.30" y="381.06" width="2.05" height="11.32" fill="#4d1d7f"/>
<rect x="279.30" y="290.90" width="1.05" height="11.32" fill="#cd4c3b"/>
<rect x="279.30" y="302.17" width="1.05" height="11.32" fill="#f76a2e"/>
<rect x="279.30" y="313.44" width="1.05" height="11.32" fill="#de543c"/>
<rect x="279.30" y="324.71" width="1.05" height="11.32" fill="#ec633c"/>
<rect x="279.30" y="335.98" width="1.05" height="11.32" fill="#832077"/>
<rect x="279.30" y="347.25" width="1.05" height="11.32" fill="#79207b"/>
<rect x="279.30" y="358.52" width="1.05" height="11.32" fill="#602289"/>
<rect x="279.30" y="369.79" width="1.05" height="11.32" fill="#4d1d75"/>
<rect x="279.30" y="381.06" width="1.05" height="11.32" fill="#471a75"/>
<rect x="280.30" y="290.90" width="1.05" height="11.32" fill="#d64c47"/>
<rect x="280.30" y="302.17" width="1.05" height="11.32" fill="#ec662c"/>
<rect x="280.30" y="313.44" width="1.05" height="11.32" fill="#dd533b"/>
<rect x="280.30" y="324.71" width="1.05" height="11.32" fill="#ec5e47"/>
<rect x="280.30" y="335.98" width="1.05" height="11.32" fill="#902484"/>
<rect x="280.30" y="347.25" width="1.05" height="11.32" fill="#7a207c"/>
<rect x="280.30" y="358.52" width="1.05" height="11.32" fill="#531d76"/>
<rect x="280.30" y="369.79" width="1.05" height="11.32" fill="#511e7b"/>
<rect x="280.30" y="381.06" width="1.05" height="11.32" fill="#4c1c7d"/>
<rect x="281.30" y="290.90" width="2.05" height="11.32" fill="#d54c46"/>
<rect x="281.30" y="302.17" width="2.05" height="11.32" fill="#e7632b"/>
<rect x="281.30" y="313.44" width="2.05" height="11.32" fill="#e4563d"/>
<rect x="281.30" y="324.71" width="2.05" height="11.32" fill="#e05e39"/>
<rect x="281.30" y="335.98" width="2.05" height="11.32" fill="#802075"/>
<rect x="281.30" y="347.25" width="2.05" height="11.32" fill="#79207b"/>
<rect x="281.30" y="358.52" width="2.05" height="11.32" fill="#5e2187"/>
<rect x="281.30" y="369.79" width="2.05" height="11.32" fill="#4c1c73"/>
<rect x="281.30" y="381.06" width="2.05" height="11.32" fill="#491b79"/>
<rect x="283.30" y="290.90" width="1.05" height="11.32" fill="#e55542"/>
<rect x="283.30" y="302.17" width="1.05" height="11.32" fill="#e95f39"/>
<rect x="283.30" y="313.44" width="1.05" height="11.32" fill="#ec593f"/>
<rect x="283.30" y="324.71" width="1.05" height="11.32" fill="#da5b37"/>
<rect x="283.30" y="335.98" width="1.05" height="11.32" fill="#85217a"/>
<rect x="283.30" y="347.25" width="1.05" height="11.32" fill="#7c217e"/>
<rect x="283.30" y="358.52" width="1.05" height="11.32" fill="#5c2083"/>
<rect x="283.30" y="369.79" width="1.05" height="11.32" fill="#572184"/>
<rect x="283.30" y="381.06" width="1.05" height="11.32" fill="#451a73"/>
<rect x="284.30" y="290.90" width="2.05" height="11.32" fill="#db4f46"/>
<rect x="284.30" y="302.17" width="2.05" height="11.32" fill="#ee662d"/>
<rect x="284.30" y="313.44" width="2.05" height="11.32" fill="#de5048"/>
<rect x="284.30" y="324.71" width="2.05" height="11.32" fill="#d75a36"/>
<rect x="284.30" y="335.98" width="2.05" height="11.32" fill="#822077"/>
<rect x="284.30" y="347.25" width="2.05" height="11.32" fill="#772079"/>
<rect x="284.30" y="358.52" width="2.05" height="11.32" fill="#551e79"/>
<rect x="284.30" y="369.79" width="2.05" height="11.32" fill="#541f7f"/>
<rect x="284.30" y="381.06" width="2.05" height="11.32" fill="#4a1c7a"/>
<rect x="286.30" y="290.90" width="2.05" height="11.32" fill="#d2494a"/>
<rect x="286.30" y="302.17" width="2.05" height="11.32" fill="#e2612a"/>
<rect x="286.30" y="313.44" width="2.05" height="11.32" fill="#d34d3f"/>
<rect x="286.30" y="324.71" width="2.05" height="11.32" fill="#f2663d"/>
<rect x="286.30" y="335.98" width="2.05" height="11.32" fill="#832078"/>
<rect x="286.30" y="347.25" width="2.05" height="11.32" fill="#872489"/>
<rect x="286.30" y="358.52" width="2.05" height="11.32" fill="#551e7a"/>
<rect x="286.30" y="369.79" width="2.05" height="11.32" fill="#501e79"/>
<rect x="286.30" y="381.06" width="2.05" height="11.32" fill="#4d1d80"/>
<rect x="288.30" y="290.90" width="2.05" height="11.32" fill="#cc4748"/>
<rect x="288.30" y="302.17" width="2.05" height="11.32" fill="#e6632b"/>
<rect x="288.30" y="313.44" width="2.05" height="11.32" fill="#e5563d"/>
<rect x="288.30" y="324.71" width="2.05" height="11.32" fill="#e8613b"/>
<rect x="288.30" y="335.98" width="2.05" height="11.32" fill="#86217a"/>
<rect x="288.30" y="347.25" width="2.05" height="11.32" fill="#802282"/>
<rect x="288.30" y="358.52" width="2.05" height="11.32" fill="#581f7e"/>
<rect x="288.30" y="369.79" width="2.05" height="11.32" fill="#501e79"/>
<rect x="288.30" y="381.06" width="2.05" height="11.32" fill="#491b79"/>
<rect x="290.30" y="290.90" width="1.05" height="11.32" fill="#e35442"/>
<rect x="290.30" y="302.17" width="1.05" height="11.32" fill="#e2612b"/>
<rect x="290.30" y="313.44" width="1.05" height="11.32" fill="#ec593f"/>
<rect x="290.30" y="324.71" width="1.05" height="11.32" fill="#dc5c38"/>
<rect x="290.30" y="335.98" width="1.05" height="11.32" fill="#902484"/>
<rect x="290.30" y="347.25" width="1.05" height="11.32" fill="#7a217c"/>
<rect x="290.30" y="358.52" width="1.05" height="11.32" fill="#561e7b"/>
<rect x="290.30" y="369.79" width="1.05" height="11.32" fill="#4b1c72"/>
<rect x="290.30" y="381.06" width="1.05" height="11.32" fill="#4d1d7e"/>
<rect x="291.30" y="290.90" width="0.35" height="11.32" fill="#d74d47"/>
<rect x="291.30" y="302.17" width="0.35" height="11.32" fill="#f66a2e"/>
<rect x="291.30" y="313.44" width="0.35" height="11.32" fill="#d65139"/>
<rect x="291.30" y="324.71" width="0.35" height="11.32" fill="#e35f39"/>
<rect x="291.30" y="335.98" width="0.35" height="11.32" fill="#952588"/>
<rect x="291.30" y="347.25" width="0.35" height="11.32" fill="#772079"/>
<rect x="291.30" y="358.52" width="0.35" height="11.32" fill="#5e2186"/>
<rect x="291.30" y="369.79" width="0.35" height="11.32" fill="#552080"/>
<rect x="291.30" y="381.06" width="0.35" height="11.32" fill="#4d1d80"/>
<rect x="291.60" y="290.90" width="1.05" height="11.32" fill="#da5538"/>
<rect x="291.60" y="302.17" width="1.05" height="11.32" fill="#e36529"/>
<rect x="291.60" y="313.44" width="1.05" height="11.32" fill="#d85e29"/>
<rect x="291.60" y="324.71" width="1.05" height="11.32" fill="#7d2873"/>
<rect x="291.60" y="335.98" width="1.05" height="11.32" fill="#7c2077"/>
<rect x="291.60" y="347.25" width="1.05" height="11.32" fill="#44186b"/>
<rect x="291.60" y="358.52" width="1.05" height="11.32" fill="#6a2083"/>
<rect x="291.60" y="369.79" width="1.05" height="11.32" fill="#571f7c"/>
<rect x="291.60" y="381.06" width="1.05" height="11.32" fill="#2d135e"/>
<rect x="292.60" y="290.90" width="1.05" height="11.32" fill="#d85538"/>
<rect x="292.60" y="302.17" width="1.05" height="11.32" fill="#e26034"/>
<rect x="292.60" y="313.44" width="1.05" height="11.32" fill="#e4632b"/>
<rect x="292.60" y="324.71" width="1.05" height="11.32" fill="#7a287c"/>
<rect x="292.60" y="335.98" width="1.05" height="11.32" fill="#892383"/>
<rect x="292.60" y="347.25" width="1.05" height="11.32" fill="#4c1b78"/>
<rect x="292.60" y="358.52" width="1.05" height="11.32" fill="#6f2189"/>
<rect x="292.60" y="369.79" width="1.05" height="11.32" fill="#5c2083"/>
<rect x="292.60" y="381.06" width="1.05" height="11.32" fill="#271052"/>
<rect x="293.60" y="290.90" width="1.55" height="11.32" fill="#e2583a"/>
<rect x="293.60" y="302.17" width="1.55" height="11.32" fill="#ef6b2b"/>
<rect x="293.60" y="313.44" width="1.55" height="11.32" fill="#d75835"/>
<rect x="293.60" y="324.71" width="1.55" height="11.32" fill="#862b78"/>
<rect x="293.60" y="335.98" width="1.55" height="11.32" fill="#82227c"/>
<rect x="293.60" y="347.25" width="1.55" height="11.32" fill="#481972"/>
<rect x="293.60" y="358.52" width="1.55" height="11.32" fill="#72228c"/>
<rect x="293.60" y="369.79" width="1.55" height="11.32" fill="#5a2080"/>
<rect x="293.60" y="381.06" width="1.55" height="11.32" fill="#281154"/>
<rect x="295.10" y="290.90" width="1.05" height="11.32" fill="#ef5e3d"/>
<rect x="295.10" y="302.17" width="1.05" height="11.32" fill="#e9603c"/>
<rect x="295.10" y="313.44" width="1.05" height="11.32" fill="#f3692e"/>
<rect x="295.10" y="324.71" width="1.05" height="11.32" fill="#6f2474"/>
<rect x="295.10" y="335.98" width="1.05" height="11.32" fill="#7f2179"/>
<rect x="295.10" y="347.25" width="1.05" height="11.32" fill="#4f1b7c"/>
<rect x="295.10" y="358.52" width="1.05" height="11.32" fill="#6b2083"/>
<rect x="295.10" y="369.79" width="1.05" height="11.32" fill="#602288"/>
<rect x="295.10" y="381.06" width="1.05" height="11.32" fill="#291156"/>
<rect x="296.10" y="290.90" width="1.05" height="11.32" fill="#d85538"/>
<rect x="296.10" y="302.17" width="1.05" height="11.32" fill="#f66e2c"/>
<rect x="296.10" y="313.44" width="1.05" height="11.32" fill="#e0593d"/>
<rect x="296.10" y="324.71" width="1.05" height="11.32" fill="#712574"/>
<rect x="296.10" y="335.98" width="1.05" height="11.32" fill="#7f2179"/>
<rect x="296.10" y="347.25" width="1.05" height="11.32" fill="#47186f"/>
<rect x="296.10" y="358.52" width="1.05" height="11.32" fill="#6b2084"/>
<rect x="296.10" y="369.79" width="1.05" height="11.32" fill="#5c2083"/>
<rect x="296.10" y="381.06" width="1.05" height="11.32" fill="#281153"/>
<rect x="297.10" y="290.90" width="1.05" height="11.32" fill="#dd5639"/>
<rect x="297.10" y="302.17" width="1.05" height="11.32" fill="#eb692a"/>
<rect x="297.10" y="313.44" width="1.05" height="11.32" fill="#e15d34"/>
<rect x="297.10" y="324.71" width="1.05" height="11.32" fill="#5c2080"/>
<rect x="297.10" y="335.98" width="1.05" height="11.32" fill="#8c2486"/>
<rect x="297.10" y="347.25" width="1.05" height="11.32" fill="#4b1a77"/>
<rect x="297.10" y="358.52" width="1.05" height="11.32" fill="#641e7a"/>
<rect x="297.10" y="369.79" width="1.05" height="11.32" fill="#5a2080"/>
<rect x="297.10" y="381.06" width="1.05" height="11.32" fill="#2b125a"/>
<rect x="298.10" y="290.90" width="2.05" height="11.32" fill="#dd5639"/>
<rect x="298.10" y="302.17" width="2.05" height="11.32" fill="#e16528"/>
<rect x="298.10" y="313.44" width="2.05" height="11.32" fill="#df612a"/>
<rect x="298.10" y="324.71" width="2.05" height="11.32" fill="#5c207f"/>
<rect x="298.10" y="335.98" width="2.05" height="11.32" fill="#84227e"/>
<rect x="298.10" y="347.25" width="2.05" height="11.32" fill="#4e1b7a"/>
<rect x="298.10" y="358.52" width="2.05" height="11.32" fill="#72228c"/>
<rect x="298.10" y="369.79" width="2.05" height="11.32" fill="#581f7d"/>
<rect x="298.10" y="381.06" width="2.05" height="11.32" fill="#271153"/>
<rect x="300.10" y="290.90" width="2.05" height="11.32" fill="#e85843"/>
<rect x="300.10" y="302.17" width="2.05" height="11.32" fill="#f26c2b"/>
<rect x="300.10" y="313.44" width="2.05" height="11.32" fill="#f2692e"/>
<rect x="300.10" y="324.71" width="2.05" height="11.32" fill="#591f7b"/>
<rect x="300.10" y="335.98" width="2.05" height="11.32" fill="#7b2076"/>
<rect x="300.10" y="347.25" width="2.05" height="11.32" fill="#4a1a74"/>
<rect x="300.10" y="358.52" width="2.05" height="11.32" fill="#6c2084"/>
<rect x="300.10" y="369.79" width="2.05" height="11.32" fill="#5f2288"/>
<rect x="300.10" y="381.06" width="2.05" height="11.32" fill="#271052"/>
<rect x="302.10" y="290.90" width="1.55" height="11.32" fill="#d55337"/>
<rect x="302.10" y="302.17" width="1.55" height="11.32" fill="#dd6328"/>
<rect x="302.10" y="313.44" width="1.55" height="11.32" fill="#dd5b34"/>
<rect x="302.10" y="324.71" width="1.55" height="11.32" fill="#612287"/>
<rect x="302.10" y="335.98" width="1.55" height="11.32" fill="#8c2486"/>
<rect x="302.10" y="347.25" width="1.55" height="11.32" fill="#471970"/>
<rect x="302.10" y="358.52" width="1.55" height="11.32" fill="#6f2189"/>
<rect x="302.10" y="369.79" width="1.55" height="11.32" fill="#531d76"/>
<rect x="302.10" y="381.06" width="1.55" height="11.32" fill="#2c135d"/>
<rect x="303.60" y="290.90" width="1.55" height="11.32" fill="#d34c48"/>
<rect x="303.60" y="302.17" width="1.55" height="11.32" fill="#eb692a"/>
<rect x="303.60" y="313.44" width="1.55" height="11.32" fill="#db5f29"/>
<rect x="303.60" y="324.71" width="1.55" height="11.32" fill="#5a1f7c"/>
<rect x="303.60" y="335.98" width="1.55" height="11.32" fill="#83227e"/>
<rect x="303.60" y="347.25" width="1.55" height="11.32" fill="#4e1b7a"/>
<rect x="303.60" y="358.52" width="1.55" height="11.32" fill="#6f2188"/>
<rect x="303.60" y="369.79" width="1.55" height="11.32" fill="#551e79"/>
<rect x="303.60" y="381.06" width="1.55" height="11.32" fill="#281154"/>
<rect x="305.10" y="290.90" width="2.05" height="11.32" fill="#d55337"/>
<rect x="305.10" y="302.17" width="2.05" height="11.32" fill="#dc6227"/>
<rect x="305.10" y="313.44" width="2.05" height="11.32" fill="#f0682d"/>
<rect x="305.10" y="324.71" width="2.05" height="11.32" fill="#8b2d7c"/>
<rect x="305.10" y="335.98" width="2.05" height="11.32" fill="#892383"/>
<rect x="305.10" y="347.25" width="2.05" height="11.32" fill="#4b1a77"/>
<rect x="305.10" y="358.52" width="2.05" height="11.32" fill="#671f7e"/>
<rect x="305.10" y="369.79" width="2.05" height="11.32" fill="#581f7d"/>
<rect x="305.10" y="381.06" width="2.05" height="11.32" fill="#291157"/>
<rect x="307.10" y="290.90" width="1.55" height="11.32" fill="#d95538"/>
<rect x="307.10" y="302.17" width="1.55" height="11.32" fill="#db5b37"/>
<rect x="307.10" y="313.44" width="1.55" height="11.32" fill="#db5f2a"/>
<rect x="307.10" y="324.71" width="1.55" height="11.32" fill="#872b75"/>
<rect x="307.10" y="335.98" width="1.55" height="11.32" fill="#84227e"/>
<rect x="307.10" y="347.25" width="1.55" height="11.32" fill="#4b1a76"/>
<rect x="307.10" y="358.52" width="1.55" height="11.32" fill="#6f2188"/>
<rect x="307.10" y="369.79" width="1.55" height="11.32" fill="#5e2186"/>
<rect x="307.10" y="381.06" width="1.55" height="11.32" fill="#2c125c"/>
<rect x="308.60" y="290.90" width="2.05" height="11.32" fill="#d95241"/>
<rect x="308.60" y="302.17" width="2.05" height="11.32" fill="#df5c39"/>
<rect x="308.60" y="313.44" width="2.05" height="11.32" fill="#cf5239"/>
<rect x="308.60" y="324.71" width="2.05" height="11.32" fill="#612287"/>
<rect x="308.60" y="335.98" width="2.05" height="11.32" fill="#862380"/>
<rect x="308.60" y="347.25" width="2.05" height="11.32" fill="#44186b"/>
<rect x="308.60" y="358.52" width="2.05" height="11.32" fill="#6a2082"/>
<rect x="308.60" y="369.79" width="2.05" height="11.32" fill="#581f7d"/>
<rect x="308.60" y="381.06" width="2.05" height="11.32" fill="#2d135e"/>
<rect x="310.60" y="290.90" width="1.05" height="11.32" fill="#df5442"/>
<rect x="310.60" y="302.17" width="1.05" height="11.32" fill="#db6227"/>
<rect x="310.60" y="313.44" width="1.05" height="11.32" fill="#d4523e"/>
<rect x="310.60" y="324.71" width="1.05" height="11.32" fill="#612287"/>
<rect x="310.60" y="335.98" width="1.05" height="11.32" fill="#892483"/>
<rect x="310.60" y="347.25" width="1.05" height="11.32" fill="#4c1a78"/>
<rect x="310.60" y="358.52" width="1.05" height="11.32" fill="#651e7c"/>
<rect x="310.60" y="369.79" width="1.05" height="11.32" fill="#5e2186"/>
<rect x="310.60" y="381.06" width="1.05" height="11.32" fill="#2a1259"/>
<rect x="311.60" y="290.90" width="1.55" height="11.32" fill="#d04b47"/>
<rect x="311.60" y="302.17" width="1.55" height="11.32" fill="#dc6227"/>
<rect x="311.60" y="313.44" width="1.55" height="11.32" fill="#f3692e"/>
<rect x="311.60" y="324.71" width="1.55" height="11.32" fill="#74267b"/>
<rect x="311.60" y="335.98" width="1.55" height="11.32" fill="#82217c"/>
<rect x="311.60" y="347.25" width="1.55" height="11.32" fill="#44186b"/>
<rect x="311.60" y="358.52" width="1.55" height="11.32" fill="#641e7b"/>
<rect x="311.60" y="369.79" width="1.55" height="11.32" fill="#551e79"/>
<rect x="311.60" y="381.06" width="1.55" height="11.32" fill="#2c135e"/>
<rect x="313.10" y="290.90" width="1.55" height="11.32" fill="#d55337"/>
<rect x="313.10" y="302.17" width="1.55" height="11.32" fill="#db6227"/>
<rect x="313.10" y="313.44" width="1.55" height="11.32" fill="#ea652c"/>
<rect x="313.10" y="324.71" width="1.55" height="11.32" fill="#622288"/>
<rect x="313.10" y="335.98" width="1.55" height="11.32" fill="#872381"/>
<rect x="313.10" y="347.25" width="1.55" height="11.32" fill="#4a1a75"/>
<rect x="313.10" y="358.52" width="1.55" height="11.32" fill="#702189"/>
<rect x="313.10" y="369.79" width="1.55" height="11.32" fill="#541d77"/>
<rect x="313.10" y="381.06" width="1.55" height="11.32" fill="#2d135e"/>
<rect x="314.60" y="290.90" width="2.05" height="11.32" fill="#db5638"/>
<rect x="314.60" y="302.17" width="2.05" height="11.32" fill="#e36629"/>
<rect x="314.60" y="313.44" width="2.05" height="11.32" fill="#d15535"/>
<rect x="314.60" y="324.71" width="2.05" height="11.32" fill="#862b80"/>
<rect x="314.60" y="335.98" width="2.05" height="11.32" fill="#81217b"/>
<rect x="314.60" y="347.25" width="2.05" height="11.32" fill="#4a1a74"/>
<rect x="314.60" y="358.52" width="2.05" height="11.32" fill="#661f7e"/>
<rect x="314.60" y="369.79" width="2.05" height="11.32" fill="#602289"/>
<rect x="314.60" y="381.06" width="2.05" height="11.32" fill="#2c135d"/>
<rect x="316.60" y="290.90" width="1.55" height="11.32" fill="#e75b3c"/>
<rect x="316.60" y="302.17" width="1.55" height="11.32" fill="#e45f37"/>
<rect x="316.60" y="313.44" width="1.55" height="11.32" fill="#e1622b"/>
<rect x="316.60" y="324.71" width="1.55" height="11.32" fill="#7c287b"/>
<rect x="316.60" y="335.98" width="1.55" height="11.32" fill="#7c2076"/>
<rect x="316.60" y="347.25" width="1.55" height="11.32" fill="#44186b"/>
<rect x="316.60" y="358.52" width="1.55" height="11.32" fill="#6b2083"/>
<rect x="316.60" y="369.79" width="1.55" height="11.32" fill="#571e7b"/>
<rect x="316.60" y="381.06" width="1.55" height="11.32" fill="#2a1258"/>
<rect x="318.10" y="290.90" width="1.05" height="11.32" fill="#d95538"/>
<rect x="318.10" y="302.17" width="1.05" height="11.32" fill="#ea613a"/>
<rect x="318.10" y="313.44" width="1.05" height="11.32" fill="#ea6136"/>
<rect x="318.10" y="324.71" width="1.05" height="11.32" fill="#5d2081"/>
<rect x="318.10" y="335.98" width="1.05" height="11.32" fill="#7c2077"/>
<rect x="318.10" y="347.25" width="1.05" height="11.32" fill="#45186d"/>
<rect x="318.10" y="358.52" width="1.05" height="11.32" fill="#6c2085"/>
<rect x="318.10" y="369.79" width="1.05" height="11.32" fill="#561e7b"/>
<rect x="318.10" y="381.06" width="1.05" height="11.32" fill="#2c125c"/>
<rect x="319.10" y="290.90" width="1.05" height="11.32" fill="#e3524c"/>
<rect x="319.10" y="302.17" width="1.05" height="11.32" fill="#ea692a"/>
<rect x="319.10" y="313.44" width="1.05" height="11.32" fill="#e6642c"/>
<rect x="319.10" y="324.71" width="1.05" height="11.32" fill="#591f7b"/>
<rect x="319.10" y="335.98" width="1.05" height="11.32" fill="#7b2075"/>
<rect x="319.10" y="347.25" width="1.05" height="11.32" fill="#44186b"/>
<rect x="319.10" y="358.52" width="1.05" height="11.32" fill="#611d78"/>
<rect x="319.10" y="369.79" width="1.05" height="11.32" fill="#551e79"/>
<rect x="319.10" y="381.06" width="1.05" height="11.32" fill="#271153"/>
<rect x="320.10" y="290.90" width="1.05" height="11.32" fill="#e6544a"/>
<rect x="320.10" y="302.17" width="1.05" height="11.32" fill="#e56036"/>
<rect x="320.10" y="313.44" width="1.05" height="11.32" fill="#ea652c"/>
<rect x="320.10" y="324.71" width="1.05" height="11.32" fill="#591f7c"/>
<rect x="320.10" y="335.98" width="1.05" height="11.32" fill="#81217c"/>
<rect x="320.10" y="347.25" width="1.05" height="11.32" fill="#471970"/>
<rect x="320.10" y="358.52" width="1.05" height="11.32" fill="#621d78"/>
<rect x="320.10" y="369.79" width="1.05" height="11.32" fill="#5f2187"/>
<rect x="320.10" y="381.06" width="1.05" height="11.32" fill="#2b125b"/>
<rect x="321.10" y="290.90" width="0.15" height="11.32" fill="#de5739"/>
<rect x="321.10" y="302.17" width="0.15" height="11.32" fill="#da6127"/>
<rect x="321.10" y="313.44" width="0.15" height="11.32" fill="#db5f2a"/>
<rect x="321.10" y="324.71" width="0.15" height="11.32" fill="#5a1f7d"/>
<rect x="321.10" y="335.98" width="0.15" height="11.32" fill="#892382"/>
<rect x="321.10" y="347.25" width="0.15" height="11.32" fill="#45186d"/>
<rect x="321.10" y="358.52" width="0.15" height="11.32" fill="#70228a"/>
<rect x="321.10" y="369.79" width="0.15" height="11.32" fill="#602288"/>
<rect x="321.10" y="381.06" width="0.15" height="11.32" fill="#2c135e"/>
<rect x="321.90" y="290.90" width="1.55" height="11.32" fill="#902984"/>
<rect x="321.90" y="302.17" width="1.55" height="11.32" fill="#922877"/>
<rect x="321.90" y="313.44" width="1.55" height="11.32" fill="#972a7d"/>
<rect x="321.90" y="324.71" width="1.55" height="11.32" fill="#4d1b78"/>
<rect x="321.90" y="335.98" width="1.55" height="11.32" fill="#9f2b85"/>
<rect x="321.90" y="347.25" width="1.55" height="11.32" fill="#a02c7c"/>
<rect x="321.90" y="358.52" width="1.55" height="11.32" fill="#661e7d"/>
<rect x="321.90" y="369.79" width="1.55" height="11.32" fill="#ab317c"/>
<rect x="321.90" y="381.06" width="1.55" height="11.32" fill="#c13583"/>
<rect x="323.40" y="290.90" width="1.05" height="11.32" fill="#822577"/>
<rect x="323.40" y="302.17" width="1.05" height="11.32" fill="#982a7c"/>
<rect x="323.40" y="313.44" width="1.05" height="11.32" fill="#8e2775"/>
<rect x="323.40" y="324.71" width="1.05" height="11.32" fill="#531d81"/>
<rect x="323.40" y="335.98" width="1.05" height="11.32" fill="#a02c86"/>
<rect x="323.40" y="347.25" width="1.05" height="11.32" fill="#982976"/>
<rect x="323.40" y="358.52" width="1.05" height="11.32" fill="#641e7a"/>
<rect x="323.40" y="369.79" width="1.05" height="11.32" fill="#b33382"/>
<rect x="323.40" y="381.06" width="1.05" height="11.32" fill="#ab2f73"/>
<rect x="324.40" y="290.90" width="2.05" height="11.32" fill="#88267c"/>
<rect x="324.40" y="302.17" width="2.05" height="11.32" fill="#912876"/>
<rect x="324.40" y="313.44" width="2.05" height="11.32" fill="#9f2c84"/>
<rect x="324.40" y="324.71" width="2.05" height="11.32" fill="#4f1c7c"/>
<rect x="324.40" y="335.98" width="2.05" height="11.32" fill="#9c2b83"/>
<rect x="324.40" y="347.25" width="2.05" height="11.32" fill="#a42d7f"/>
<rect x="324.40" y="358.52" width="2.05" height="11.32" fill="#72228b"/>
<rect x="324.40" y="369.79" width="2.05" height="11.32" fill="#a72f79"/>
<rect x="324.40" y="381.06" width="2.05" height="11.32" fill="#bd3480"/>
<rect x="326.40" y="290.90" width="1.05" height="11.32" fill="#942a87"/>
<rect x="326.40" y="302.17" width="1.05" height="11.32" fill="#96297a"/>
<rect x="326.40" y="313.44" width="1.05" height="11.32" fill="#9b2b80"/>
<rect x="326.40" y="324.71" width="1.05" height="11.32" fill="#4e1c7b"/>
<rect x="326.40" y="335.98" width="1.05" height="11.32" fill="#93287c"/>
<rect x="326.40" y="347.25" width="1.05" height="11.32" fill="#982976"/>
<rect x="326.40" y="358.52" width="1.05" height="11.32" fill="#6c2084"/>
<rect x="326.40" y="369.79" width="1.05" height="11.32" fill="#9c2c71"/>
<rect x="326.40" y="381.06" width="1.05" height="11.32" fill="#bf3582"/>
<rect x="327.40" y="290.90" width="1.05" height="11.32" fill="#812576"/>
<rect x="327.40" y="302.17" width="1.05" height="11.32" fill="#8e2774"/>
<rect x="327.40" y="313.44" width="1.05" height="11.32" fill="#982a7e"/>
<rect x="327.40" y="324.71" width="1.05" height="11.32" fill="#491a73"/>
<rect x="327.40" y="335.98" width="1.05" height="11.32" fill="#a32d89"/>
<rect x="327.40" y="347.25" width="1.05" height="11.32" fill="#a52d7f"/>
<rect x="327.40" y="358.52" width="1.05" height="11.32" fill="#621d78"/>
<rect x="327.40" y="369.79" width="1.05" height="11.32" fill="#9e2d72"/>
<rect x="327.40" y="381.06" width="1.05" height="11.32" fill="#b8337c"/>
<rect x="328.40" y="290.90" width="1.05" height="11.32" fill="#902984"/>
<rect x="328.40" y="302.17" width="1.05" height="11.32" fill="#9d2b80"/>
<rect x="328.40" y="313.44" width="1.05" height="11.32" fill="#8b2773"/>
<rect x="328.40" y="324.71" width="1.05" height="11.32" fill="#4f1c7b"/>
<rect x="328.40" y="335.98" width="1.05" height="11.32" fill="#94297d"/>
<rect x="328.40" y="347.25" width="1.05" height="11.32" fill="#a82e82"/>
<rect x="328.40" y="358.52" width="1.05" height="11.32" fill="#6f2188"/>
<rect x="328.40" y="369.79" width="1.05" height="11.32" fill="#b23381"/>
<rect x="328.40" y="381.06" width="1.05" height="11.32" fill="#a72e71"/>
<rect x="329.40" y="290.90" width="2.05" height="11.32" fill="#832577"/>
<rect x="329.40" y="302.17" width="2.05" height="11.32" fill="#902876"/>
<rect x="329.40" y="313.44" width="2.05" height="11.32" fill="#8c2774"/>
<rect x="329.40" y="324.71" width="2.05" height="11.32" fill="#481970"/>
<rect x="329.40" y="335.98" width="2.05" height="11.32" fill="#a02c87"/>
<rect x="329.40" y="347.25" width="2.05" height="11.32" fill="#a72e82"/>
<rect x="329.40" y="358.52" width="2.05" height="11.32" fill="#6c2084"/>
<rect x="329.40" y="369.79" width="2.05" height="11.32" fill="#b03280"/>
<rect x="329.40" y="381.06" width="2.05" height="11.32" fill="#b7337c"/>
<rect x="331.40" y="290.90" width="1.55" height="11.32" fill="#8b277f"/>
<rect x="331.40" y="302.17" width="1.55" height="11.32" fill="#8f2774"/>
<rect x="331.40" y="313.44" width="1.55" height="11.32" fill="#9d2b81"/>
<rect x="331.40" y="324.71" width="1.55" height="11.32" fill="#4f1c7c"/>
<rect x="331.40" y="335.98" width="1.55" height="11.32" fill="#93287b"/>
<rect x="331.40" y="347.25" width="1.55" height="11.32" fill="#9b2a78"/>
<rect x="331.40" y="358.52" width="1.55" height="11.32" fill="#651e7d"/>
<rect x="331.40" y="369.79" width="1.55" height="11.32" fill="#a32e77"/>
<rect x="331.40" y="381.06" width="1.55" height="11.32" fill="#c03582"/>
<rect x="332.90" y="290.90" width="1.05" height="11.32" fill="#902984"/>
<rect x="332.90" y="302.17" width="1.05" height="11.32" fill="#942979"/>
<rect x="332.90" y="313.44" width="1.05" height="11.32" fill="#912878"/>
<rect x="332.90" y="324.71" width="1.05" height="11.32" fill="#531e83"/>
<rect x="332.90" y="335.98" width="1.05" height="11.32" fill="#982a80"/>
<rect x="332.90" y="347.25" width="1.05" height="11.32" fill="#a82e82"/>
<rect x="332.90" y="358.52" width="1.05" height="11.32" fill="#6c2084"/>
<rect x="332.90" y="369.79" width="1.05" height="11.32" fill="#9b2c70"/>
<rect x="332.90" y="381.06" width="1.05" height="11.32" fill="#b13178"/>
<rect x="333.90" y="290.90" width="2.05" height="11.32" fill="#8c2880"/>
<rect x="333.90" y="302.17" width="2.05" height="11.32" fill="#8e2774"/>
<rect x="333.90" y="313.44" width="2.05" height="11.32" fill="#95297b"/>
<rect x="333.90" y="324.71" width="2.05" height="11.32" fill="#481971"/>
<rect x="333.90" y="335.98" width="2.05" height="11.32" fill="#992a81"/>
<rect x="333.90" y="347.25" width="2.05" height="11.32" fill="#a52d80"/>
<rect x="333.90" y="358.52" width="2.05" height="11.32" fill="#6f2188"/>
<rect x="333.90" y="369.79" width="2.05" height="11.32" fill="#aa307b"/>
<rect x="333.90" y="381.06" width="2.05" height="11.32" fill="#ad3075"/>
<rect x="335.90" y="290.90" width="2.05" height="11.32" fill="#802475"/>
<rect x="335.90" y="302.17" width="2.05" height="11.32" fill="#902776"/>
<rect x="335.90" y="313.44" width="2.05" height="11.32" fill="#9c2b81"/>
<rect x="335.90" y="324.71" width="2.05" height="11.32" fill="#531e83"/>
<rect x="335.90" y="335.98" width="2.05" height="11.32" fill="#8b2675"/>
<rect x="335.90" y="347.25" width="2.05" height="11.32" fill="#9f2b7b"/>
<rect x="335.90" y="358.52" width="2.05" height="11.32" fill="#691f81"/>
<rect x="335.90" y="369.79" width="2.05" height="11.32" fill="#af327f"/>
<rect x="335.90" y="381.06" width="2.05" height="11.32" fill="#aa2f73"/>
<rect x="337.90" y="290.90" width="2.05" height="11.32" fill="#8e2881"/>
<rect x="337.90" y="302.17" width="2.05" height="11.32" fill="#a32d85"/>
<rect x="337.90" y="313.44" width="2.05" height="11.32" fill="#962a7c"/>
<rect x="337.90" y="324.71" width="2.05" height="11.32" fill="#4e1c7b"/>
<rect x="337.90" y="335.98" width="2.05" height="11.32" fill="#8f2779"/>
<rect x="337.90" y="347.25" width="2.05" height="11.32" fill="#a82e82"/>
<rect x="337.90" y="358.52" width="2.05" height="11.32" fill="#71228b"/>
<rect x="337.90" y="369.79" width="2.05" height="11.32" fill="#a02d74"/>
<rect x="337.90" y="381.06" width="2.05" height="11.32" fill="#aa2f73"/>
<rect x="339.90" y="290.90" width="1.05" height="11.32" fill="#8b277f"/>
<rect x="339.90" y="302.17" width="1.05" height="11.32" fill="#a32d85"/>
<rect x="339.90" y="313.44" width="1.05" height="11.32" fill="#972a7d"/>
<rect x="339.90" y="324.71" width="1.05" height="11.32" fill="#491a72"/>
<rect x="339.90" y="335.98" width="1.05" height="11.32" fill="#93287c"/>
<rect x="339.90" y="347.25" width="1.05" height="11.32" fill="#952973"/>
<rect x="339.90" y="358.52" width="1.05" height="11.32" fill="#71228a"/>
<rect x="339.90" y="369.79" width="1.05" height="11.32" fill="#b23381"/>
<rect x="339.90" y="381.06" width="1.05" height="11.32" fill="#bb337e"/>
<rect x="340.90" y="290.90" width="2.05" height="11.32" fill="#942a87"/>
<rect x="340.90" y="302.17" width="2.05" height="11.32" fill="#8c2672"/>
<rect x="340.90" y="313.44" width="2.05" height="11.32" fill="#8e2876"/>
<rect x="340.90" y="324.71" width="2.05" height="11.32" fill="#4b1a75"/>
<rect x="340.90" y="335.98" width="2.05" height="11.32" fill="#a12c88"/>
<rect x="340.90" y="347.25" width="2.05" height="11.32" fill="#a02c7c"/>
<rect x="340.90" y="358.52" width="2.05" height="11.32" fill="#671f7f"/>
<rect x="340.90" y="369.79" width="2.05" height="11.32" fill="#b23281"/>
<rect x="340.90" y="381.06" width="2.05" height="11.32" fill="#ac2f74"/>
<rect x="342.90" y="290.90" width="2.05" height="11.32" fill="#832578"/>
<rect x="342.90" y="302.17" width="2.05" height="11.32" fill="#9a2a7d"/>
<rect x="342.90" y="313.44" width="2.05" height="11.32" fill="#9a2b7f"/>
<rect x="342.90" y="324.71" width="2.05" height="11.32" fill="#4f1c7c"/>
<rect x="342.90" y="335.98" width="2.05" height="11.32" fill="#8c2676"/>
<rect x="342.90" y="347.25" width="2.05" height="11.32" fill="#a22c7d"/>
<rect x="342.90" y="358.52" width="2.05" height="11.32" fill="#6a2082"/>
<rect x="342.90" y="369.79" width="2.05" height="11.32" fill="#b13281"/>
<rect x="342.90" y="381.06" width="2.05" height="11.32" fill="#b23179"/>
<rect x="344.90" y="290.90" width="1.55" height="11.32" fill="#842579"/>
<rect x="344.90" y="302.17" width="1.55" height="11.32" fill="#96297a"/>
<rect x="344.90" y="313.44" width="1.55" height="11.32" fill="#9c2b81"/>
<rect x="344.90" y="324.71" width="1.55" height="11.32" fill="#4e1c7b"/>
<rect x="344.90" y="335.98" width="1.55" height="11.32" fill="#8e2778"/>
<rect x="344.90" y="347.25" width="1.55" height="11.32" fill="#9f2b7b"/>
<rect x="344.90" y="358.52" width="1.55" height="11.32" fill="#70218a"/>
<rect x="344.90" y="369.79" width="1.55" height="11.32" fill="#a02d74"/>
<rect x="344.90" y="381.06" width="1.55" height="11.32" fill="#ab2f73"/>
<rect x="346.40" y="290.90" width="1.55" height="11.32" fill="#912985"/>
<rect x="346.40" y="302.17" width="1.55" height="11.32" fill="#9f2c82"/>
<rect x="346.40" y="313.44" width="1.55" height="11.32" fill="#982a7e"/>
<rect x="346.40" y="324.71" width="1.55" height="11.32" fill="#501d7e"/>
<rect x="346.40" y="335.98" width="1.55" height="11.32" fill="#a32d89"/>
<rect x="346.40" y="347.25" width="1.55" height="11.32" fill="#a52d80"/>
<rect x="346.40" y="358.52" width="1.55" height="11.32" fill="#6b2084"/>
<rect x="346.40" y="369.79" width="1.55" height="11.32" fill="#a32e77"/>
<rect x="346.40" y="381.06" width="1.55" height="11.32" fill="#ac2f74"/>
<rect x="347.90" y="290.90" width="1.05" height="11.32" fill="#86267b"/>
<rect x="347.90" y="302.17" width="1.05" height="11.32" fill="#a32d85"/>
<rect x="347.90" y="313.44" width="1.05" height="11.32" fill="#a12d85"/>
<rect x="347.90" y="324.71" width="1.05" height="11.32" fill="#491a73"/>
<rect x="347.90" y="335.98" width="1.05" height="11.32" fill="#9b2b83"/>
<rect x="347.90" y="347.25" width="1.05" height="11.32" fill="#982975"/>
<rect x="347.90" y="358.52" width="1.05" height="11.32" fill="#641e7a"/>
<rect x="347.90" y="369.79" width="1.05" height="11.32" fill="#9e2d73"/>
<rect x="347.90" y="381.06" width="1.05" height="11.32" fill="#ae3076"/>
<rect x="348.90" y="290.90" width="1.55" height="11.32" fill="#8a277e"/>
<rect x="348.90" y="302.17" width="1.55" height="11.32" fill="#902775"/>
<rect x="348.90" y="313.44" width="1.55" height="11.32" fill="#992a7e"/>
<rect x="348.90" y="324.71" width="1.55" height="11.32" fill="#491a72"/>
<rect x="348.90" y="335.98" width="1.55" height="11.32" fill="#902879"/>
<rect x="348.90" y="347.25" width="1.55" height="11.32" fill="#9d2b79"/>
<rect x="348.90" y="358.52" width="1.55" height="11.32" fill="#621d78"/>
<rect x="348.90" y="369.79" width="1.55" height="11.32" fill="#a52f78"/>
<rect x="348.90" y="381.06" width="1.55" height="11.32" fill="#bc347f"/>
<rect x="350.40" y="290.90" width="1.05" height="11.32" fill="#8c2880"/>
<rect x="350.40" y="302.17" width="1.05" height="11.32" fill="#9b2a7e"/>
<rect x="350.40" y="313.44" width="1.05" height="11.32" fill="#95297b"/>
<rect x="350.40" y="324.71" width="1.05" height="11.32" fill="#491a73"/>
<rect x="350.40" y="335.98" width="1.05" height="11.32" fill="#9a2a82"/>
<rect x="350.40" y="347.25" width="1.05" height="11.32" fill="#9d2b7a"/>
<rect x="350.40" y="358.52" width="1.05" height="11.32" fill="#6e2187"/>
<rect x="350.40" y="369.79" width="1.05" height="11.32" fill="#b23381"/>
<rect x="350.40" y="381.06" width="1.05" height="11.32" fill="#b13178"/>
<rect x="351.40" y="290.90" width="2.05" height="11.32" fill="#932a87"/>
<rect x="351.40" y="302.17" width="2.05" height="11.32" fill="#9c2b7f"/>
<rect x="351.40" y="313.44" width="2.05" height="11.32" fill="#992b7f"/>
<rect x="351.40" y="324.71" width="2.05" height="11.32" fill="#521d81"/>
<rect x="351.40" y="335.98" width="2.05" height="11.32" fill="#9b2a82"/>
<rect x="351.40" y="347.25" width="2.05" height="11.32" fill="#a22c7d"/>
<rect x="351.40" y="358.52" width="2.05" height="11.32" fill="#651e7c"/>
<rect x="351.40" y="369.79" width="2.05" height="11.32" fill="#9f2d73"/>
<rect x="351.40" y="381.06" width="2.05" height="11.32" fill="#a92e72"/>
<rect x="353.40" y="290.90" width="0.25" height="11.32" fill="#87267c"/>
<rect x="353.40" y="302.17" width="0.25" height="11.32" fill="#9b2a7e"/>
<rect x="353.40" y="313.44" width="0.25" height="11.32" fill="#8c2774"/>
<rect x="353.40" y="324.71" width="0.25" height="11.32" fill="#4c1b78"/>
<rect x="353.40" y="335.98" width="0.25" height="11.32" fill="#9e2b85"/>
<rect x="353.40" y="347.25" width="0.25" height="11.32" fill="#a52d80"/>
<rect x="353.40" y="358.52" width="0.25" height="11.32" fill="#6c2084"/>
<rect x="353.40" y="369.79" width="0.25" height="11.32" fill="#a12e75"/>
<rect x="353.40" y="381.06" width="0.25" height="11.32" fill="#b13178"/>
<rect x="353.60" y="290.90" width="2.05" height="11.32" fill="#a23561"/>
<rect x="353.60" y="302.17" width="2.05" height="11.32" fill="#a93280"/>
<rect x="353.60" y="313.44" width="2.05" height="11.32" fill="#a0307a"/>
<rect x="353.60" y="324.71" width="2.05" height="11.32" fill="#6c2083"/>
<rect x="353.60" y="335.98" width="2.05" height="11.32" fill="#922c87"/>
<rect x="353.60" y="347.25" width="2.05" height="11.32" fill="#922c83"/>
<rect x="353.60" y="358.52" width="2.05" height="11.32" fill="#671f7c"/>
<rect x="353.60" y="369.79" width="2.05" height="11.32" fill="#7f2672"/>
<rect x="353.60" y="381.06" width="2.05" height="11.32" fill="#912c82"/>
<rect x="355.60" y="290.90" width="1.05" height="11.32" fill="#a23562"/>
<rect x="355.60" y="302.17" width="1.05" height="11.32" fill="#a1307a"/>
<rect x="355.60" y="313.44" width="1.05" height="11.32" fill="#972d73"/>
<rect x="355.60" y="324.71" width="1.05" height="11.32" fill="#6e2185"/>
<rect x="355.60" y="335.98" width="1.05" height="11.32" fill="#932c89"/>
<rect x="355.60" y="347.25" width="1.05" height="11.32" fill="#8a2a7c"/>
<rect x="355.60" y="358.52" width="1.05" height="11.32" fill="#631d77"/>
<rect x="355.60" y="369.79" width="1.05" height="11.32" fill="#8b2a7d"/>
<rect x="355.60" y="381.06" width="1.05" height="11.32" fill="#8a2a7c"/>
<rect x="356.60" y="290.90" width="2.05" height="11.32" fill="#b03a6a"/>
<rect x="356.60" y="302.17" width="2.05" height="11.32" fill="#a3317c"/>
<rect x="356.60" y="313.44" width="2.05" height="11.32" fill="#a83280"/>
<rect x="356.60" y="324.71" width="2.05" height="11.32" fill="#6a2080"/>
<rect x="356.60" y="335.98" width="2.05" height="11.32" fill="#88297e"/>
<rect x="356.60" y="347.25" width="2.05" height="11.32" fill="#932d84"/>
<rect x="356.60" y="358.52" width="2.05" height="11.32" fill="#651e7a"/>
<rect x="356.60" y="369.79" width="2.05" height="11.32" fill="#8e2b7f"/>
<rect x="356.60" y="381.06" width="2.05" height="11.32" fill="#872979"/>
<rect x="358.60" y="290.90" width="1.05" height="11.32" fill="#b63c6d"/>
<rect x="358.60" y="302.17" width="1.05" height="11.32" fill="#a2307c"/>
<rect x="358.60" y="313.44" width="1.05" height="11.32" fill="#a3317c"/>
<rect x="358.60" y="324.71" width="1.05" height="11.32" fill="#651e7a"/>
<rect x="358.60" y="335.98" width="1.05" height="11.32" fill="#87297d"/>
<rect x="358.60" y="347.25" width="1.05" height="11.32" fill="#802773"/>
<rect x="358.60" y="358.52" width="1.05" height="11.32" fill="#621d77"/>
<rect x="358.60" y="369.79" width="1.05" height="11.32" fill="#932c84"/>
<rect x="358.60" y="381.06" width="1.05" height="11.32" fill="#8c2a7e"/>
<rect x="359.60" y="290.90" width="1.55" height="11.32" fill="#b23a6b"/>
<rect x="359.60" y="302.17" width="1.55" height="11.32" fill="#952c72"/>
<rect x="359.60" y="313.44" width="1.55" height="11.32" fill="#9a2e76"/>
<rect x="359.60" y="324.71" width="1.55" height="11.32" fill="#681f7d"/>
<rect x="359.60" y="335.98" width="1.55" height="11.32" fill="#942d89"/>
<rect x="359.60" y="347.25" width="1.55" height="11.32" fill="#942d85"/>
<rect x="359.60" y="358.52" width="1.55" height="11.32" fill="#72228a"/>
<rect x="359.60" y="369.79" width="1.55" height="11.32" fill="#942d85"/>
<rect x="359.60" y="381.06" width="1.55" height="11.32" fill="#89297b"/>
<rect x="361.10" y="290.90" width="1.05" height="11.32" fill="#a53663"/>
<rect x="361.10" y="302.17" width="1.05" height="11.32" fill="#a7327f"/>
<rect x="361.10" y="313.44" width="1.05" height="11.32" fill="#a73280"/>
<rect x="361.10" y="324.71" width="1.05" height="11.32" fill="#6c2082"/>
<rect x="361.10" y="335.98" width="1.05" height="11.32" fill="#89297f"/>
<rect x="361.10" y="347.25" width="1.05" height="11.32" fill="#8b2a7d"/>
<rect x="361.10" y="358.52" width="1.05" height="11.32" fill="#651e7a"/>
<rect x="361.10" y="369.79" width="1.05" height="11.32" fill="#942d85"/>
<rect x="361.10" y="381.06" width="1.05" height="11.32" fill="#862979"/>
<rect x="362.10" y="290.90" width="2.05" height="11.32" fill="#af3969"/>
<rect x="362.10" y="302.17" width="2.05" height="11.32" fill="#9a2e75"/>
<rect x="362.10" y="313.44" width="2.05" height="11.32" fill="#a1307a"/>
<rect x="362.10" y="324.71" width="2.05" height="11.32" fill="#631e78"/>
<rect x="362.10" y="335.98" width="2.05" height="11.32" fill="#912c86"/>
<rect x="362.10" y="347.25" width="2.05" height="11.32" fill="#862979"/>
<rect x="362.10" y="358.52" width="2.05" height="11.32" fill="#6f2187"/>
<rect x="362.10" y="369.79" width="2.05" height="11.32" fill="#842877"/>
<rect x="362.10" y="381.06" width="2.05" height="11.32" fill="#872979"/>
<rect x="364.10" y="290.90" width="0.45" height="11.32" fill="#bd3e72"/>
<rect x="364.10" y="302.17" width="0.45" height="11.32" fill="#a4317d"/>
<rect x="364.10" y="313.44" width="0.45" height="11.32" fill="#9f2f79"/>
<rect x="364.10" y="324.71" width="0.45" height="11.32" fill="#6f2186"/>
<rect x="364.10" y="335.98" width="0.45" height="11.32" fill="#902c86"/>
<rect x="364.10" y="347.25" width="0.45" height="11.32" fill="#862979"/>
<rect x="364.10" y="358.52" width="0.45" height="11.32" fill="#6c2083"/>
<rect x="364.10" y="369.79" width="0.45" height="11.32" fill="#862878"/>
<rect x="364.10" y="381.06" width="0.45" height="11.32" fill="#89297b"/>
<rect x="364.50" y="290.90" width="1.05" height="11.32" fill="#6c2083"/>
<rect x="364.50" y="302.17" width="1.05" height="11.32" fill="#751f7d"/>
<rect x="364.50" y="313.44" width="1.05" height="11.32" fill="#802288"/>
<rect x="364.50" y="324.71" width="1.05" height="11.32" fill="#2e1367"/>
<rect x="364.50" y="335.98" width="1.05" height="11.32" fill="#621d76"/>
<rect x="364.50" y="347.25" width="1.05" height="11.32" fill="#802186"/>
<rect x="364.50" y="358.52" width="1.05" height="11.32" fill="#5f2288"/>
<rect x="364.50" y="369.79" width="1.05" height="11.32" fill="#4d1b75"/>
<rect x="364.50" y="381.06" width="1.05" height="11.32" fill="#541e78"/>
<rect x="365.50" y="290.90" width="1.55" height="11.32" fill="#6c2082"/>
<rect x="365.50" y="302.17" width="1.55" height="11.32" fill="#6e1d76"/>
<rect x="365.50" y="313.44" width="1.55" height="11.32" fill="#6e1d75"/>
<rect x="365.50" y="324.71" width="1.55" height="11.32" fill="#2f1369"/>
<rect x="365.50" y="335.98" width="1.55" height="11.32" fill="#6c2083"/>
<rect x="365.50" y="347.25" width="1.55" height="11.32" fill="#751e7a"/>
<rect x="365.50" y="358.52" width="1.55" height="11.32" fill="#541d77"/>
<rect x="365.50" y="369.79" width="1.55" height="11.32" fill="#451869"/>
<rect x="365.50" y="381.06" width="1.55" height="11.32" fill="#561e7a"/>
<rect x="367.00" y="290.90" width="2.05" height="11.32" fill="#671f7c"/>
<rect x="367.00" y="302.17" width="2.05" height="11.32" fill="#711e78"/>
<rect x="367.00" y="313.44" width="2.05" height="11.32" fill="#7f2288"/>
<rect x="367.00" y="324.71" width="2.05" height="11.32" fill="#2e1266"/>
<rect x="367.00" y="335.98" width="2.05" height="11.32" fill="#641e79"/>
<rect x="367.00" y="347.25" width="2.05" height="11.32" fill="#812288"/>
<rect x="367.00" y="358.52" width="2.05" height="11.32" fill="#5b2082"/>
<rect x="367.00" y="369.79" width="2.05" height="11.32" fill="#4d1b75"/>
<rect x="367.00" y="381.06" width="2.05" height="11.32" fill="#5c2083"/>
<rect x="369.00" y="290.90" width="1.55" height="11.32" fill="#641e79"/>
<rect x="369.00" y="302.17" width="1.55" height="11.32" fill="#7b2083"/>
<rect x="369.00" y="313.44" width="1.55" height="11.32" fill="#782080"/>
<rect x="369.00" y="324.71" width="1.55" height="11.32" fill="#2d1265"/>
<rect x="369.00" y="335.98" width="1.55" height="11.32" fill="#681f7e"/>
<rect x="369.00" y="347.25" width="1.55" height="11.32" fill="#812187"/>
<rect x="369.00" y="358.52" width="1.55" height="11.32" fill="#5a2081"/>
<rect x="369.00" y="369.79" width="1.55" height="11.32" fill="#47196b"/>
<rect x="369.00" y="381.06" width="1.55" height="11.32" fill="#561e7a"/>
<rect x="370.50" y="290.90" width="1.05" height="11.32" fill="#691f7f"/>
<rect x="370.50" y="302.17" width="1.05" height="11.32" fill="#792081"/>
<rect x="370.50" y="313.44" width="1.05" height="11.32" fill="#771f7f"/>
<rect x="370.50" y="324.71" width="1.05" height="11.32" fill="#2e1368"/>
<rect x="370.50" y="335.98" width="1.05" height="11.32" fill="#6d2184"/>
<rect x="370.50" y="347.25" width="1.05" height="11.32" fill="#751e7a"/>
<rect x="370.50" y="358.52" width="1.05" height="11.32" fill="#551e79"/>
<rect x="370.50" y="369.79" width="1.05" height="11.32" fill="#4b1a71"/>
<rect x="370.50" y="381.06" width="1.05" height="11.32" fill="#5d2184"/>
<rect x="371.50" y="290.90" width="1.05" height="11.32" fill="#6f2186"/>
<rect x="371.50" y="302.17" width="1.05" height="11.32" fill="#771f7f"/>
<rect x="371.50" y="313.44" width="1.05" height="11.32" fill="#792081"/>
<rect x="371.50" y="324.71" width="1.05" height="11.32" fill="#2d1264"/>
<rect x="371.50" y="335.98" width="1.05" height="11.32" fill="#6f2186"/>
<rect x="371.50" y="347.25" width="1.05" height="11.32" fill="#771f7d"/>
<rect x="371.50" y="358.52" width="1.05" height="11.32" fill="#581f7e"/>
<rect x="371.50" y="369.79" width="1.05" height="11.32" fill="#4f1b78"/>
<rect x="371.50" y="381.06" width="1.05" height="11.32" fill="#531d77"/>
<rect x="372.50" y="290.90" width="1.55" height="11.32" fill="#6c2082"/>
<rect x="372.50" y="302.17" width="1.55" height="11.32" fill="#6e1d76"/>
<rect x="372.50" y="313.44" width="1.55" height="11.32" fill="#7a2082"/>
<rect x="372.50" y="324.71" width="1.55" height="11.32" fill="#2d1264"/>
<rect x="372.50" y="335.98" width="1.55" height="11.32" fill="#712288"/>
<rect x="372.50" y="347.25" width="1.55" height="11.32" fill="#761f7c"/>
<rect x="372.50" y="358.52" width="1.55" height="11.32" fill="#602289"/>
<rect x="372.50" y="369.79" width="1.55" height="11.32" fill="#4a1a70"/>
<rect x="372.50" y="381.06" width="1.55" height="11.32" fill="#591f7f"/>
<rect x="374.00" y="290.90" width="1.05" height="11.32" fill="#621d76"/>
<rect x="374.00" y="302.17" width="1.05" height="11.32" fill="#7c2184"/>
<rect x="374.00" y="313.44" width="1.05" height="11.32" fill="#7a2082"/>
<rect x="374.00" y="324.71" width="1.05" height="11.32" fill="#2a115f"/>
<rect x="374.00" y="335.98" width="1.05" height="11.32" fill="#702187"/>
<rect x="374.00" y="347.25" width="1.05" height="11.32" fill="#771f7d"/>
<rect x="374.00" y="358.52" width="1.05" height="11.32" fill="#591f7f"/>
<rect x="374.00" y="369.79" width="1.05" height="11.32" fill="#4a1a70"/>
<rect x="374.00" y="381.06" width="1.05" height="11.32" fill="#5d2185"/>
<rect x="375.00" y="290.90" width="1.05" height="11.32" fill="#661e7b"/>
<rect x="375.00" y="302.17" width="1.05" height="11.32" fill="#741f7c"/>
<rect x="375.00" y="313.44" width="1.05" height="11.32" fill="#731e7a"/>
<rect x="375.00" y="324.71" width="1.05" height="11.32" fill="#28105a"/>
<rect x="375.00" y="335.98" width="1.05" height="11.32" fill="#661e7b"/>
<rect x="375.00" y="347.25" width="1.05" height="11.32" fill="#771f7d"/>
<rect x="375.00" y="358.52" width="1.05" height="11.32" fill="#591f7f"/>
<rect x="375.00" y="369.79" width="1.05" height="11.32" fill="#48196d"/>
<rect x="375.00" y="381.06" width="1.05" height="11.32" fill="#602289"/>
<rect x="376.00" y="290.90" width="1.55" height="11.32" fill="#722289"/>
<rect x="376.00" y="302.17" width="1.55" height="11.32" fill="#7a2083"/>
<rect x="376.00" y="313.44" width="1.55" height="11.32" fill="#7d2185"/>
<rect x="376.00" y="324.71" width="1.55" height="11.32" fill="#2a115f"/>
<rect x="376.00" y="335.98" width="1.55" height="11.32" fill="#661f7c"/>
<rect x="376.00" y="347.25" width="1.55" height="11.32" fill="#761e7b"/>
<rect x="376.00" y="358.52" width="1.55" height="11.32" fill="#5b2081"/>
<rect x="376.00" y="369.79" width="1.55" height="11.32" fill="#4b1a72"/>
<rect x="376.00" y="381.06" width="1.55" height="11.32" fill="#5e2185"/>
<rect x="377.50" y="290.90" width="1.05" height="11.32" fill="#681f7d"/>
<rect x="377.50" y="302.17" width="1.05" height="11.32" fill="#792081"/>
<rect x="377.50" y="313.44" width="1.05" height="11.32" fill="#761f7e"/>
<rect x="377.50" y="324.71" width="1.05" height="11.32" fill="#2c1263"/>
<rect x="377.50" y="335.98" width="1.05" height="11.32" fill="#681f7d"/>
<rect x="377.50" y="347.25" width="1.05" height="11.32" fill="#721d77"/>
<rect x="377.50" y="358.52" width="1.05" height="11.32" fill="#531d76"/>
<rect x="377.50" y="369.79" width="1.05" height="11.32" fill="#4d1b75"/>
<rect x="377.50" y="381.06" width="1.05" height="11.32" fill="#591f7f"/>
<rect x="378.50" y="290.90" width="1.05" height="11.32" fill="#6e2185"/>
<rect x="378.50" y="302.17" width="1.05" height="11.32" fill="#7f2288"/>
<rect x="378.50" y="313.44" width="1.05" height="11.32" fill="#7a2082"/>
<rect x="378.50" y="324.71" width="1.05" height="11.32" fill="#2c1263"/>
<rect x="378.50" y="335.98" width="1.05" height="11.32" fill="#6c2082"/>
<rect x="378.50" y="347.25" width="1.05" height="11.32" fill="#7d2184"/>
<rect x="378.50" y="358.52" width="1.05" height="11.32" fill="#5b2081"/>
<rect x="378.50" y="369.79" width="1.05" height="11.32" fill="#4c1a73"/>
<rect x="378.50" y="381.06" width="1.05" height="11.32" fill="#551e7a"/>
<rect x="379.50" y="290.90" width="2.05" height="11.32" fill="#6c2082"/>
<rect x="379.50" y="302.17" width="2.05" height="11.32" fill="#711e79"/>
<rect x="379.50" y="313.44" width="2.05" height="11.32" fill="#7b2083"/>
<rect x="379.50" y="324.71" width="2.05" height="11.32" fill="#2e1367"/>
<rect x="379.50" y="335.98" width="2.05" height="11.32" fill="#681f7e"/>
<rect x="379.50" y="347.25" width="2.05" height="11.32" fill="#721d77"/>
<rect x="379.50" y="358.52" width="2.05" height="11.32" fill="#602288"/>
<rect x="379.50" y="369.79" width="2.05" height="11.32" fill="#441767"/>
<rect x="379.50" y="381.06" width="2.05" height="11.32" fill="#5f2187"/>
<rect x="381.50" y="290.90" width="0.25" height="11.32" fill="#6e2185"/>
<rect x="381.50" y="302.17" width="0.25" height="11.32" fill="#792081"/>
<rect x="381.50" y="313.44" width="0.25" height="11.32" fill="#731e7b"/>
<rect x="381.50" y="324.71" width="0.25" height="11.32" fill="#2a115e"/>
<rect x="381.50" y="335.98" width="0.25" height="11.32" fill="#681f7e"/>
<rect x="381.50" y="347.25" width="0.25" height="11.32" fill="#761f7c"/>
<rect x="381.50" y="358.52" width="0.25" height="11.32" fill="#591f7e"/>
<rect x="381.50" y="369.79" width="0.25" height="11.32" fill="#4b1a72"/>
<rect x="381.50" y="381.06" width="0.25" height="11.32" fill="#602288"/>
<rect x="352.30" y="290.90" width="9.70" height="11.27" fill="#ee7a2a"/>
<rect x="358.60" y="302.17" width="1.00" height="33.81" fill="#d0506a"/>
<rect x="296.00" y="347.25" width="3.00" height="11.27" fill="#2b1257"/>
<rect x="301.00" y="347.25" width="2.00" height="11.27" fill="#301461"/>
<rect x="305.00" y="347.25" width="5.00" height="11.27" fill="#2b1257"/>
<rect x="312.00" y="347.25" width="4.00" height="11.27" fill="#2c1258"/>
<rect x="294.00" y="381.06" width="3.00" height="11.27" fill="#150830"/>
<rect x="299.00" y="381.06" width="4.00" height="11.27" fill="#14082e"/>
<rect x="306.00" y="381.06" width="6.00" height="11.27" fill="#150831"/>
<rect x="314.00" y="381.06" width="3.00" height="11.27" fill="#13072d"/>
</g>
<rect x="321.30" y="290.90" width="0.60" height="101.43" fill="#ecd2dc"/>
<rect x="219.80" y="282.30" width="71.80" height="3.50" fill="#f27f16"/>
<rect x="291.60" y="282.30" width="29.20" height="3.50" fill="#e27bc3"/>
<rect x="320.80" y="282.30" width="32.80" height="3.50" fill="#9b66b8"/>
<rect x="353.60" y="282.30" width="2.90" height="3.50" fill="#2aa33a"/>
<rect x="356.50" y="282.30" width="2.00" height="3.50" fill="#8d5a4e"/>
<rect x="358.50" y="282.30" width="2.00" height="3.50" fill="#d52525"/>
<rect x="360.50" y="282.30" width="4.00" height="3.50" fill="#8a8a8a"/>
<rect x="364.50" y="282.30" width="9.90" height="3.50" fill="#c2c21e"/>
<rect x="374.40" y="282.30" width="7.30" height="3.50" fill="#1fb8d0"/>
<rect x="219.80" y="286.60" width="161.90" height="3.50" fill="#f6efe8"/>
<rect x="235.00" y="286.60" width="9.00" height="3.50" fill="#a8d8c8"/>
<rect x="257.00" y="286.60" width="7.00" height="3.50" fill="#2aa0c0"/>
<rect x="264.00" y="286.60" width="6.00" height="3.50" fill="#2a8aa0"/>
<rect x="276.00" y="286.60" width="6.00" height="3.50" fill="#b0d090"/>
<rect x="284.00" y="286.60" width="7.00" height="3.50" fill="#d04040"/>
<rect x="292.00" y="286.60" width="4.00" height="3.50" fill="#e0e0e0"/>
<rect x="297.00" y="286.60" width="3.00" height="3.50" fill="#8ad0b0"/>
<rect x="307.00" y="286.60" width="5.00" height="3.50" fill="#30a0a0"/>
<rect x="314.00" y="286.60" width="4.00" height="3.50" fill="#c0d090"/>
<rect x="318.00" y="286.60" width="3.00" height="3.50" fill="#e05050"/>
<rect x="330.00" y="286.60" width="3.00" height="3.50" fill="#d8d8d8"/>
<rect x="336.00" y="286.60" width="3.00" height="3.50" fill="#c0b090"/>
<rect x="340.00" y="286.60" width="4.00" height="3.50" fill="#111111"/>
<rect x="344.00" y="286.60" width="4.00" height="3.50" fill="#7a4aa0"/>
<rect x="349.00" y="286.60" width="3.00" height="3.50" fill="#9a9ad0"/>
<rect x="355.00" y="286.60" width="1.50" height="3.50" fill="#222"/>
<rect x="358.00" y="286.60" width="1.50" height="3.50" fill="#8a5a30"/>
<rect x="361.00" y="286.60" width="1.50" height="3.50" fill="#222"/>
<rect x="366.00" y="286.60" width="1.50" height="3.50" fill="#222"/>
<rect x="370.00" y="286.60" width="1.50" height="3.50" fill="#7a5a40"/>
<rect x="376.00" y="286.60" width="1.50" height="3.50" fill="#222"/>
<rect x="379.00" y="286.60" width="1.50" height="3.50" fill="#8a5a30"/>
<text x="385.80" y="286.00" font-size="5.6" text-anchor="start" fill="#333333" stroke="#333333" stroke-width="0.15">Clusters</text>
<text x="385.80" y="291.40" font-size="5.6" text-anchor="start" fill="#333333" stroke="#333333" stroke-width="0.15">Samples</text>
<text x="385.80" y="298.90" font-size="6.6" text-anchor="start" fill="#333333" stroke="#333333" stroke-width="0.15" textLength="20.1" lengthAdjust="spacingAndGlyphs">γH2AX</text>
<text x="385.80" y="310.17" font-size="6.6" text-anchor="start" fill="#333333" stroke="#333333" stroke-width="0.15" textLength="14.4" lengthAdjust="spacingAndGlyphs">ATF4</text>
<text x="385.80" y="321.44" font-size="6.6" text-anchor="start" fill="#333333" stroke="#333333" stroke-width="0.15" textLength="13" lengthAdjust="spacingAndGlyphs">RIP3</text>
<text x="385.80" y="332.71" font-size="6.6" text-anchor="start" fill="#333333" stroke="#333333" stroke-width="0.15" textLength="14.4" lengthAdjust="spacingAndGlyphs">Ki-67</text>
<text x="385.80" y="343.98" font-size="6.6" text-anchor="start" fill="#333333" stroke="#333333" stroke-width="0.15" textLength="15" lengthAdjust="spacingAndGlyphs">LC3B</text>
<text x="385.80" y="355.25" font-size="6.6" text-anchor="start" fill="#333333" stroke="#333333" stroke-width="0.15" textLength="28" lengthAdjust="spacingAndGlyphs">Cl_Casp3</text>
<text x="385.80" y="366.52" font-size="6.6" text-anchor="start" fill="#333333" stroke="#333333" stroke-width="0.15" textLength="11.2" lengthAdjust="spacingAndGlyphs">p21</text>
<text x="385.80" y="377.79" font-size="6.6" text-anchor="start" fill="#333333" stroke="#333333" stroke-width="0.15" textLength="24.5" lengthAdjust="spacingAndGlyphs">Cl_PARP</text>
<text x="385.80" y="389.06" font-size="6.6" text-anchor="start" fill="#333333" stroke="#333333" stroke-width="0.15" textLength="28.3" lengthAdjust="spacingAndGlyphs">Live-dead</text>
<line x1="219.80" y1="307.80" x2="217.80" y2="307.80" stroke="#777" stroke-width="0.6"/>
<line x1="219.80" y1="319.07" x2="217.80" y2="319.07" stroke="#777" stroke-width="0.6"/>
<line x1="217.80" y1="307.80" x2="217.80" y2="319.07" stroke="#777" stroke-width="0.6"/>
<line x1="219.80" y1="296.53" x2="216.40" y2="296.53" stroke="#777" stroke-width="0.6"/>
<line x1="217.80" y1="313.44" x2="216.40" y2="313.44" stroke="#777" stroke-width="0.6"/>
<line x1="216.40" y1="296.53" x2="216.40" y2="313.44" stroke="#777" stroke-width="0.6"/>
<line x1="216.40" y1="304.99" x2="214.20" y2="304.99" stroke="#777" stroke-width="0.6"/>
<line x1="219.80" y1="330.34" x2="214.20" y2="330.34" stroke="#777" stroke-width="0.6"/>
<line x1="214.20" y1="304.99" x2="214.20" y2="330.34" stroke="#777" stroke-width="0.6"/>
<line x1="219.80" y1="341.61" x2="217.20" y2="341.61" stroke="#777" stroke-width="0.6"/>
<line x1="219.80" y1="352.88" x2="217.20" y2="352.88" stroke="#777" stroke-width="0.6"/>
<line x1="217.20" y1="341.61" x2="217.20" y2="352.88" stroke="#777" stroke-width="0.6"/>
<line x1="219.80" y1="375.42" x2="218.20" y2="375.42" stroke="#777" stroke-width="0.6"/>
<line x1="219.80" y1="386.69" x2="218.20" y2="386.69" stroke="#777" stroke-width="0.6"/>
<line x1="218.20" y1="375.42" x2="218.20" y2="386.69" stroke="#777" stroke-width="0.6"/>
<line x1="219.80" y1="364.15" x2="217.00" y2="364.15" stroke="#777" stroke-width="0.6"/>
<line x1="218.20" y1="381.06" x2="217.00" y2="381.06" stroke="#777" stroke-width="0.6"/>
<line x1="217.00" y1="364.15" x2="217.00" y2="381.06" stroke="#777" stroke-width="0.6"/>
<line x1="217.20" y1="347.25" x2="215.60" y2="347.25" stroke="#777" stroke-width="0.6"/>
<line x1="217.00" y1="372.61" x2="215.60" y2="372.61" stroke="#777" stroke-width="0.6"/>
<line x1="215.60" y1="347.25" x2="215.60" y2="372.61" stroke="#777" stroke-width="0.6"/>
<line x1="214.20" y1="317.67" x2="208.80" y2="317.67" stroke="#777" stroke-width="0.6"/>
<line x1="215.60" y1="359.93" x2="208.80" y2="359.93" stroke="#777" stroke-width="0.6"/>
<line x1="208.80" y1="317.67" x2="208.80" y2="359.93" stroke="#777" stroke-width="0.6"/>
<defs><linearGradient id="inferno" x1="0" y1="0" x2="0" y2="1"><stop offset="0" stop-color="#fcf4a0"/><stop offset="0.1" stop-color="#f8d030"/><stop offset="0.3" stop-color="#f08018"/><stop offset="0.48" stop-color="#d82a5a"/><stop offset="0.62" stop-color="#8a1c80"/><stop offset="0.8" stop-color="#2c1060"/><stop offset="1" stop-color="#0a0414"/></linearGradient></defs>
<rect x="437.00" y="273.00" width="7.20" height="28.80" fill="url(#inferno)"/>
<text x="446.40" y="275.72" font-size="6.2" text-anchor="start" fill="#333333" stroke="#333333" stroke-width="0.15">10</text>
<text x="446.40" y="289.62" font-size="6.2" text-anchor="start" fill="#333333" stroke="#333333" stroke-width="0.15">5</text>
<text x="446.40" y="303.22" font-size="6.2" text-anchor="start" fill="#333333" stroke="#333333" stroke-width="0.15">0</text>
<text x="432.40" y="288.22" font-size="6.2" text-anchor="middle" fill="#333333" stroke="#333333" stroke-width="0.15" transform="rotate(-90 432.40 286.00)" textLength="27.6" lengthAdjust="spacingAndGlyphs">Expression</text>
<text x="429.10" y="323.22" font-size="6.2" text-anchor="start" fill="#333333" stroke="#333333" stroke-width="0.15">Clusters</text>
<rect x="432.00" y="326.90" width="5.80" height="5.80" fill="#f27f16"/>
<text x="440.70" y="332.02" font-size="6.2" text-anchor="start" fill="#333333" stroke="#333333" stroke-width="0.15">CL1</text>
<rect x="432.00" y="334.74" width="5.80" height="5.80" fill="#2f1a66"/>
<text x="440.70" y="339.86" font-size="6.2" text-anchor="start" fill="#333333" stroke="#333333" stroke-width="0.15">CL10</text>
<rect x="432.00" y="342.58" width="5.80" height="5.80" fill="#e27bc3"/>
<text x="440.70" y="347.70" font-size="6.2" text-anchor="start" fill="#333333" stroke="#333333" stroke-width="0.15">CL2</text>
<rect x="432.00" y="350.42" width="5.80" height="5.80" fill="#d52525"/>
<text x="440.70" y="355.54" font-size="6.2" text-anchor="start" fill="#333333" stroke="#333333" stroke-width="0.15">CL3</text>
<rect x="432.00" y="358.26" width="5.80" height="5.80" fill="#9b66b8"/>
<text x="440.70" y="363.38" font-size="6.2" text-anchor="start" fill="#333333" stroke="#333333" stroke-width="0.15">CL4</text>
<rect x="432.00" y="366.10" width="5.80" height="5.80" fill="#8d5a4e"/>
<text x="440.70" y="371.22" font-size="6.2" text-anchor="start" fill="#333333" stroke="#333333" stroke-width="0.15">CL5</text>
<rect x="432.00" y="373.94" width="5.80" height="5.80" fill="#2aa33a"/>
<text x="440.70" y="379.06" font-size="6.2" text-anchor="start" fill="#333333" stroke="#333333" stroke-width="0.15">CL6</text>
<rect x="432.00" y="381.78" width="5.80" height="5.80" fill="#8a8a8a"/>
<text x="440.70" y="386.90" font-size="6.2" text-anchor="start" fill="#333333" stroke="#333333" stroke-width="0.15">CL7</text>
<rect x="432.00" y="389.62" width="5.80" height="5.80" fill="#c2c21e"/>
<text x="440.70" y="394.74" font-size="6.2" text-anchor="start" fill="#333333" stroke="#333333" stroke-width="0.15">CL8</text>
<rect x="432.00" y="397.46" width="5.80" height="5.80" fill="#1fb8d0"/>
<text x="440.70" y="402.58" font-size="6.2" text-anchor="start" fill="#333333" stroke="#333333" stroke-width="0.15">CL9</text>
<text x="476.20" y="276.72" font-size="6.2" text-anchor="start" fill="#333333" stroke="#333333" stroke-width="0.15">Samples</text>
<rect x="478.30" y="279.70" width="6.40" height="6.40" fill="#f6f2fa" stroke="#777" stroke-width="0.5" stroke-dasharray="0.8,0.8"/>
<text x="487.70" y="285.16" font-size="6.3" text-anchor="start" fill="#333333" stroke="#333333" stroke-width="0.15" textLength="23" lengthAdjust="spacingAndGlyphs">TP53 WT</text>
<rect x="478.30" y="287.53" width="6.40" height="6.40" fill="#fbe6d2" stroke="#777" stroke-width="0.5" stroke-dasharray="0.8,0.8"/>
<text x="487.70" y="292.99" font-size="6.3" text-anchor="start" fill="#333333" stroke="#333333" stroke-width="0.15" textLength="23" lengthAdjust="spacingAndGlyphs">TP53 KO</text>
<rect x="478.30" y="295.36" width="6.40" height="6.40" fill="#a8d8c4" stroke="#777" stroke-width="0.5" stroke-dasharray="0.8,0.8"/>
<text x="487.70" y="300.82" font-size="6.3" text-anchor="start" fill="#333333" stroke="#333333" stroke-width="0.15" textLength="17.3" lengthAdjust="spacingAndGlyphs">R175H</text>
<rect x="478.30" y="303.19" width="6.40" height="6.40" fill="#e2ecf6" stroke="#777" stroke-width="0.5" stroke-dasharray="0.8,0.8"/>
<text x="487.70" y="308.65" font-size="6.3" text-anchor="start" fill="#333333" stroke="#333333" stroke-width="0.15" textLength="16.9" lengthAdjust="spacingAndGlyphs">Y220C</text>
<text x="471.00" y="296.86" font-size="6.2" text-anchor="middle" fill="#333333" stroke="#333333" stroke-width="0.15" transform="rotate(-90 471.00 294.64)">Control</text>
<rect x="478.30" y="311.02" width="6.40" height="6.40" fill="#fde4ec" stroke="#777" stroke-width="0.5" stroke-dasharray="0.8,0.8"/>
<text x="487.70" y="316.48" font-size="6.3" text-anchor="start" fill="#333333" stroke="#333333" stroke-width="0.15" textLength="23" lengthAdjust="spacingAndGlyphs">TP53 WT</text>
<rect x="478.30" y="318.85" width="6.40" height="6.40" fill="#fcdcc8" stroke="#777" stroke-width="0.5" stroke-dasharray="0.8,0.8"/>
<text x="487.70" y="324.31" font-size="6.3" text-anchor="start" fill="#333333" stroke="#333333" stroke-width="0.15" textLength="23" lengthAdjust="spacingAndGlyphs">TP53 KO</text>
<rect x="478.30" y="326.68" width="6.40" height="6.40" fill="#3a9ad8" stroke="#777" stroke-width="0.5" stroke-dasharray="0.8,0.8"/>
<text x="487.70" y="332.14" font-size="6.3" text-anchor="start" fill="#333333" stroke="#333333" stroke-width="0.15" textLength="17.3" lengthAdjust="spacingAndGlyphs">R175H</text>
<rect x="478.30" y="334.51" width="6.40" height="6.40" fill="#1a7c80" stroke="#777" stroke-width="0.5" stroke-dasharray="0.8,0.8"/>
<text x="487.70" y="339.97" font-size="6.3" text-anchor="start" fill="#333333" stroke="#333333" stroke-width="0.15" textLength="16.9" lengthAdjust="spacingAndGlyphs">Y220C</text>
<text x="471.00" y="328.18" font-size="6.2" text-anchor="middle" fill="#333333" stroke="#333333" stroke-width="0.15" transform="rotate(-90 471.00 325.96)">40nM</text>
<rect x="478.30" y="342.34" width="6.40" height="6.40" fill="#e88a20" stroke="#777" stroke-width="0.5" stroke-dasharray="0.8,0.8"/>
<text x="487.70" y="347.80" font-size="6.3" text-anchor="start" fill="#333333" stroke="#333333" stroke-width="0.15" textLength="23" lengthAdjust="spacingAndGlyphs">TP53 WT</text>
<rect x="478.30" y="350.17" width="6.40" height="6.40" fill="#e8d8f0" stroke="#777" stroke-width="0.5" stroke-dasharray="0.8,0.8"/>
<text x="487.70" y="355.63" font-size="6.3" text-anchor="start" fill="#333333" stroke="#333333" stroke-width="0.15" textLength="23" lengthAdjust="spacingAndGlyphs">TP53 KO</text>
<rect x="478.30" y="358.00" width="6.40" height="6.40" fill="#8ac850" stroke="#777" stroke-width="0.5" stroke-dasharray="0.8,0.8"/>
<text x="487.70" y="363.46" font-size="6.3" text-anchor="start" fill="#333333" stroke="#333333" stroke-width="0.15" textLength="17.3" lengthAdjust="spacingAndGlyphs">R175H</text>
<rect x="478.30" y="365.83" width="6.40" height="6.40" fill="#e02020" stroke="#777" stroke-width="0.5" stroke-dasharray="0.8,0.8"/>
<text x="487.70" y="371.29" font-size="6.3" text-anchor="start" fill="#333333" stroke="#333333" stroke-width="0.15" textLength="16.9" lengthAdjust="spacingAndGlyphs">Y220C</text>
<text x="471.00" y="359.50" font-size="6.2" text-anchor="middle" fill="#333333" stroke="#333333" stroke-width="0.15" transform="rotate(-90 471.00 357.28)">100nM</text>
<rect x="478.30" y="373.66" width="6.40" height="6.40" fill="#111111" stroke="#777" stroke-width="0.5" stroke-dasharray="0.8,0.8"/>
<text x="487.70" y="379.12" font-size="6.3" text-anchor="start" fill="#333333" stroke="#333333" stroke-width="0.15" textLength="23" lengthAdjust="spacingAndGlyphs">TP53 WT</text>
<rect x="478.30" y="381.49" width="6.40" height="6.40" fill="#7a30a0" stroke="#777" stroke-width="0.5" stroke-dasharray="0.8,0.8"/>
<text x="487.70" y="386.95" font-size="6.3" text-anchor="start" fill="#333333" stroke="#333333" stroke-width="0.15" textLength="23" lengthAdjust="spacingAndGlyphs">TP53 KO</text>
<rect x="478.30" y="389.32" width="6.40" height="6.40" fill="#7a9ae0" stroke="#777" stroke-width="0.5" stroke-dasharray="0.8,0.8"/>
<text x="487.70" y="394.78" font-size="6.3" text-anchor="start" fill="#333333" stroke="#333333" stroke-width="0.15" textLength="17.3" lengthAdjust="spacingAndGlyphs">R175H</text>
<rect x="478.30" y="397.15" width="6.40" height="6.40" fill="#8a5a30" stroke="#777" stroke-width="0.5" stroke-dasharray="0.8,0.8"/>
<text x="487.70" y="402.61" font-size="6.3" text-anchor="start" fill="#333333" stroke="#333333" stroke-width="0.15" textLength="16.9" lengthAdjust="spacingAndGlyphs">Y220C</text>
<text x="471.00" y="390.82" font-size="6.2" text-anchor="middle" fill="#333333" stroke="#333333" stroke-width="0.15" transform="rotate(-90 471.00 388.60)">250nM</text>
<text x="9.40" y="425.99" font-size="10.6" font-weight="bold" fill="#111" stroke="#111" stroke-width="0.45">F</text>
<text x="78.80" y="426.28" font-size="8.6" text-anchor="middle" fill="#333333" stroke="#333333" stroke-width="0.05" font-style="italic" textLength="42.5" lengthAdjust="spacingAndGlyphs">CL1 vs CL2</text>
<line x1="36.60" y1="442.00" x2="36.60" y2="523.20" stroke="#333" stroke-width="1.2"/>
<line x1="36.10" y1="523.20" x2="120.00" y2="523.20" stroke="#333" stroke-width="1.2"/>
<line x1="34.30" y1="454.50" x2="36.60" y2="454.50" stroke="#444" stroke-width="0.8"/>
<text x="31.30" y="456.79" font-size="6.4" text-anchor="end" fill="#333333" stroke="#333333" stroke-width="0.15">200</text>
<line x1="34.30" y1="470.72" x2="36.60" y2="470.72" stroke="#444" stroke-width="0.8"/>
<text x="31.30" y="473.02" font-size="6.4" text-anchor="end" fill="#333333" stroke="#333333" stroke-width="0.15">150</text>
<line x1="34.30" y1="486.95" x2="36.60" y2="486.95" stroke="#444" stroke-width="0.8"/>
<text x="31.30" y="489.24" font-size="6.4" text-anchor="end" fill="#333333" stroke="#333333" stroke-width="0.15">100</text>
<line x1="34.30" y1="503.17" x2="36.60" y2="503.17" stroke="#444" stroke-width="0.8"/>
<text x="31.30" y="505.47" font-size="6.4" text-anchor="end" fill="#333333" stroke="#333333" stroke-width="0.15">50</text>
<line x1="34.30" y1="519.40" x2="36.60" y2="519.40" stroke="#444" stroke-width="0.8"/>
<text x="31.30" y="521.69" font-size="6.4" text-anchor="end" fill="#333333" stroke="#333333" stroke-width="0.15">0</text>
<line x1="40.29" y1="523.30" x2="40.29" y2="525.60" stroke="#444" stroke-width="0.8"/>
<text x="38.99" y="534.59" font-size="6.4" text-anchor="middle" fill="#333333" stroke="#333333" stroke-width="0.15">−3</text>
<line x1="52.96" y1="523.30" x2="52.96" y2="525.60" stroke="#444" stroke-width="0.8"/>
<text x="51.66" y="534.59" font-size="6.4" text-anchor="middle" fill="#333333" stroke="#333333" stroke-width="0.15">−2</text>
<line x1="65.63" y1="523.30" x2="65.63" y2="525.60" stroke="#444" stroke-width="0.8"/>
<text x="64.33" y="534.59" font-size="6.4" text-anchor="middle" fill="#333333" stroke="#333333" stroke-width="0.15">−1</text>
<line x1="78.30" y1="523.30" x2="78.30" y2="525.60" stroke="#444" stroke-width="0.8"/>
<text x="78.30" y="534.59" font-size="6.4" text-anchor="middle" fill="#333333" stroke="#333333" stroke-width="0.15">0</text>
<line x1="90.97" y1="523.30" x2="90.97" y2="525.60" stroke="#444" stroke-width="0.8"/>
<text x="90.97" y="534.59" font-size="6.4" text-anchor="middle" fill="#333333" stroke="#333333" stroke-width="0.15">1</text>
<line x1="103.64" y1="523.30" x2="103.64" y2="525.60" stroke="#444" stroke-width="0.8"/>
<text x="103.64" y="534.59" font-size="6.4" text-anchor="middle" fill="#333333" stroke="#333333" stroke-width="0.15">2</text>
<line x1="116.31" y1="523.30" x2="116.31" y2="525.60" stroke="#444" stroke-width="0.8"/>
<text x="116.31" y="534.59" font-size="6.4" text-anchor="middle" fill="#333333" stroke="#333333" stroke-width="0.15">3</text>
<text x="78.8" y="546.6" font-size="7.6" fill="#333" text-anchor="middle" textLength="50" lengthAdjust="spacingAndGlyphs">Log<tspan font-size="5" dy="1.6">2</tspan><tspan dy="-1.6"> fold change</tspan></text>
<text x="10.8" y="485.6" font-size="7.8" fill="#333" text-anchor="middle" transform="rotate(-90 10.8 482.8)">−log<tspan font-size="5.2" dy="1.8">10</tspan><tspan dy="-3.5" font-style="italic">P</tspan></text>
<line x1="71.55" y1="441.80" x2="71.55" y2="523.00" stroke="#333" stroke-width="1.0" stroke-dasharray="3.6,1.8"/>
<line x1="84.50" y1="441.80" x2="84.50" y2="523.00" stroke="#333" stroke-width="1.0" stroke-dasharray="3.6,1.8"/>
<line x1="37.00" y1="515.70" x2="120.00" y2="515.70" stroke="#333" stroke-width="1.0" stroke-dasharray="3.6,1.8"/>
<circle cx="66.30" cy="446.50" r="1.50" fill="#3a0810"/>
<circle cx="93.90" cy="470.00" r="1.50" fill="#3a0810"/>
<circle cx="69.80" cy="484.60" r="1.50" fill="#3a0810"/>
<circle cx="60.00" cy="501.70" r="1.50" fill="#3a0810"/>
<circle cx="86.30" cy="496.30" r="1.50" fill="#3a0810"/>
<circle cx="85.50" cy="498.40" r="1.50" fill="#3a0810"/>
<rect x="68.20" y="442.40" width="11.20" height="4.10" fill="#ffffff" stroke="#3a3a3a" stroke-width="0.55"/>
<text x="73.80" y="445.40" font-size="3.3" text-anchor="middle" fill="#555" textLength="9.60" lengthAdjust="spacingAndGlyphs">CL3B</text>
<rect x="92.60" y="464.60" width="9.80" height="4.70" fill="#ffffff" stroke="#3a3a3a" stroke-width="0.55"/>
<text x="97.50" y="468.20" font-size="3.3" text-anchor="middle" fill="#555" textLength="8.20" lengthAdjust="spacingAndGlyphs">RIP3</text>
<rect x="68.50" y="479.40" width="9.10" height="4.30" fill="#ffffff" stroke="#3a3a3a" stroke-width="0.55"/>
<text x="73.05" y="482.60" font-size="3.3" text-anchor="middle" fill="#555" textLength="7.50" lengthAdjust="spacingAndGlyphs">p21</text>
<rect x="57.80" y="496.90" width="11.60" height="4.40" fill="#ffffff" stroke="#3a3a3a" stroke-width="0.55"/>
<text x="63.60" y="500.20" font-size="3.3" text-anchor="middle" fill="#555" textLength="10.00" lengthAdjust="spacingAndGlyphs">Ki67</text>
<rect x="85.10" y="490.90" width="10.30" height="4.50" fill="#ffffff" stroke="#3a3a3a" stroke-width="0.55"/>
<text x="90.25" y="494.30" font-size="3.3" text-anchor="middle" fill="#555" textLength="8.70" lengthAdjust="spacingAndGlyphs">ATF4</text>
<rect x="77.60" y="499.40" width="10.00" height="4.80" fill="#ffffff" stroke="#3a3a3a" stroke-width="0.55"/>
<text x="82.60" y="503.10" font-size="3.3" text-anchor="middle" fill="#555" textLength="8.40" lengthAdjust="spacingAndGlyphs">H2AX</text>
<text x="134.40" y="425.59" font-size="10.6" font-weight="bold" fill="#111" stroke="#111" stroke-width="0.45">G</text>
<text x="201.10" y="426.28" font-size="8.6" text-anchor="middle" fill="#333333" stroke="#333333" stroke-width="0.05" font-style="italic" textLength="80" lengthAdjust="spacingAndGlyphs">Control vs Treatment</text>
<text x="201.10" y="436.98" font-size="8.6" text-anchor="middle" fill="#333333" stroke="#333333" stroke-width="0.05" font-style="italic" textLength="69" lengthAdjust="spacingAndGlyphs">(40+100nM) (CL1)</text>
<line x1="158.90" y1="442.30" x2="158.90" y2="523.10" stroke="#333" stroke-width="1.2"/>
<line x1="158.30" y1="523.10" x2="239.50" y2="523.10" stroke="#333" stroke-width="1.2"/>
<line x1="156.60" y1="444.98" x2="158.90" y2="444.98" stroke="#444" stroke-width="0.8"/>
<text x="154.00" y="447.27" font-size="6.4" text-anchor="end" fill="#333333" stroke="#333333" stroke-width="0.15">80</text>
<line x1="156.60" y1="463.61" x2="158.90" y2="463.61" stroke="#444" stroke-width="0.8"/>
<text x="154.00" y="465.90" font-size="6.4" text-anchor="end" fill="#333333" stroke="#333333" stroke-width="0.15">60</text>
<line x1="156.60" y1="482.24" x2="158.90" y2="482.24" stroke="#444" stroke-width="0.8"/>
<text x="154.00" y="484.53" font-size="6.4" text-anchor="end" fill="#333333" stroke="#333333" stroke-width="0.15">40</text>
<line x1="156.60" y1="500.87" x2="158.90" y2="500.87" stroke="#444" stroke-width="0.8"/>
<text x="154.00" y="503.16" font-size="6.4" text-anchor="end" fill="#333333" stroke="#333333" stroke-width="0.15">20</text>
<line x1="156.60" y1="519.50" x2="158.90" y2="519.50" stroke="#444" stroke-width="0.8"/>
<text x="154.00" y="521.79" font-size="6.4" text-anchor="end" fill="#333333" stroke="#333333" stroke-width="0.15">0</text>
<line x1="171.40" y1="523.10" x2="171.40" y2="525.40" stroke="#444" stroke-width="0.8"/>
<text x="170.10" y="534.59" font-size="6.4" text-anchor="middle" fill="#333333" stroke="#333333" stroke-width="0.15">−1</text>
<line x1="192.90" y1="523.10" x2="192.90" y2="525.40" stroke="#444" stroke-width="0.8"/>
<text x="192.90" y="534.59" font-size="6.4" text-anchor="middle" fill="#333333" stroke="#333333" stroke-width="0.15">0</text>
<line x1="214.40" y1="523.10" x2="214.40" y2="525.40" stroke="#444" stroke-width="0.8"/>
<text x="214.40" y="534.59" font-size="6.4" text-anchor="middle" fill="#333333" stroke="#333333" stroke-width="0.15">1</text>
<line x1="235.90" y1="523.10" x2="235.90" y2="525.40" stroke="#444" stroke-width="0.8"/>
<text x="235.90" y="534.59" font-size="6.4" text-anchor="middle" fill="#333333" stroke="#333333" stroke-width="0.15">2</text>
<text x="200.8" y="546.6" font-size="7.6" fill="#333" text-anchor="middle" textLength="50" lengthAdjust="spacingAndGlyphs">Log<tspan font-size="5" dy="1.6">2</tspan><tspan dy="-1.6"> fold change</tspan></text>
<text x="138" y="481.8" font-size="7.8" fill="#333" text-anchor="middle" transform="rotate(-90 138 479)">−log<tspan font-size="5.2" dy="1.8">10</tspan><tspan dy="-3.5" font-style="italic">P</tspan></text>
<line x1="182.00" y1="441.80" x2="182.00" y2="523.00" stroke="#333" stroke-width="1.0" stroke-dasharray="3.6,1.8"/>
<line x1="203.80" y1="441.80" x2="203.80" y2="523.00" stroke="#333" stroke-width="1.0" stroke-dasharray="3.6,1.8"/>
<line x1="159.00" y1="507.40" x2="247.00" y2="507.40" stroke="#333" stroke-width="1.0" stroke-dasharray="3.6,1.8"/>
<circle cx="203.40" cy="449.60" r="1.50" fill="#111"/>
<circle cx="205.00" cy="472.10" r="1.50" fill="#111"/>
<circle cx="205.90" cy="473.10" r="1.50" fill="#111"/>
<circle cx="199.50" cy="487.00" r="1.50" fill="#111"/>
<circle cx="196.40" cy="514.80" r="1.50" fill="#111"/>
<circle cx="195.20" cy="519.40" r="1.50" fill="#111"/>
<rect x="202.20" y="444.30" width="9.30" height="4.30" fill="#ffffff" stroke="#3a3a3a" stroke-width="0.55"/>
<text x="206.85" y="447.50" font-size="3.3" text-anchor="middle" fill="#555" textLength="7.70" lengthAdjust="spacingAndGlyphs">p21</text>
<rect x="196.40" y="467.00" width="10.20" height="4.20" fill="#ffffff" stroke="#3a3a3a" stroke-width="0.55"/>
<text x="201.50" y="470.10" font-size="3.3" text-anchor="middle" fill="#555" textLength="8.60" lengthAdjust="spacingAndGlyphs">RIP3</text>
<rect x="203.40" y="474.00" width="10.80" height="4.20" fill="#ffffff" stroke="#3a3a3a" stroke-width="0.55"/>
<text x="208.80" y="477.10" font-size="3.3" text-anchor="middle" fill="#555" textLength="9.20" lengthAdjust="spacingAndGlyphs">ATF4</text>
<rect x="197.30" y="481.70" width="11.40" height="3.60" fill="#ffffff" stroke="#3a3a3a" stroke-width="0.55"/>
<text x="203.00" y="484.20" font-size="3.3" text-anchor="middle" fill="#555" textLength="9.80" lengthAdjust="spacingAndGlyphs">H2AX</text>
<rect x="194.40" y="509.20" width="11.20" height="3.30" fill="#ffffff" stroke="#3a3a3a" stroke-width="0.55"/>
<text x="200.00" y="511.40" font-size="3.3" text-anchor="middle" fill="#555" textLength="9.60" lengthAdjust="spacingAndGlyphs">LC3B</text>
<rect x="184.80" y="518.40" width="9.20" height="3.50" fill="#ffffff" stroke="#3a3a3a" stroke-width="0.55"/>
<text x="189.40" y="520.80" font-size="3.3" text-anchor="middle" fill="#555" textLength="7.60" lengthAdjust="spacingAndGlyphs">Ki67</text>
<text x="258.00" y="426.49" font-size="10.6" font-weight="bold" fill="#111" stroke="#111" stroke-width="0.45">H</text>
<text x="302.40" y="442.94" font-size="8.2" text-anchor="middle" fill="#333333" stroke="#333333" stroke-width="0.15">ATF4</text>
<line x1="278.80" y1="448.00" x2="278.80" y2="523.00" stroke="#333" stroke-width="1.25"/>
<line x1="278.20" y1="523.00" x2="325.80" y2="523.00" stroke="#333" stroke-width="1.25"/>
<line x1="276.50" y1="454.60" x2="278.80" y2="454.60" stroke="#333" stroke-width="0.8"/>
<text x="274.20" y="456.96" font-size="6.6" text-anchor="end" fill="#333333" stroke="#333333" stroke-width="0.15">8</text>
<line x1="276.50" y1="477.40" x2="278.80" y2="477.40" stroke="#333" stroke-width="0.8"/>
<text x="274.20" y="479.76" font-size="6.6" text-anchor="end" fill="#333333" stroke="#333333" stroke-width="0.15">6</text>
<line x1="276.50" y1="500.50" x2="278.80" y2="500.50" stroke="#333" stroke-width="0.8"/>
<text x="274.20" y="502.86" font-size="6.6" text-anchor="end" fill="#333333" stroke="#333333" stroke-width="0.15">4</text>
<line x1="276.50" y1="522.80" x2="278.80" y2="522.80" stroke="#333" stroke-width="0.8"/>
<text x="274.20" y="525.16" font-size="6.6" text-anchor="end" fill="#333333" stroke="#333333" stroke-width="0.15">2</text>
<line x1="287.60" y1="451.50" x2="287.60" y2="519.20" stroke="#262626" stroke-width="1.5"/>
<path d="M288.35,461.50 L288.35,462.19 L288.35,462.88 L288.77,463.56 L289.31,464.25 L289.89,464.94 L290.46,465.62 L291.02,466.31 L291.55,467.00 L292.04,467.69 L292.46,468.38 L292.82,469.06 L293.10,469.75 L293.29,470.44 L293.39,471.12 L293.38,471.81 L293.31,472.50 L293.19,473.19 L293.05,473.88 L292.89,474.56 L292.72,475.25 L292.52,475.94 L292.32,476.62 L292.09,477.31 L291.86,478.00 L291.62,478.69 L291.37,479.38 L291.11,480.06 L290.84,480.75 L290.57,481.44 L290.29,482.12 L290.01,482.81 L289.72,483.50 L289.43,484.19 L289.14,484.88 L288.86,485.56 L288.57,486.25 L288.35,486.94 L288.35,487.62 L288.35,488.31 L288.35,489.00 L286.85,489.00 L286.85,488.31 L286.85,487.62 L286.85,486.94 L286.63,486.25 L286.34,485.56 L286.06,484.88 L285.77,484.19 L285.48,483.50 L285.19,482.81 L284.91,482.12 L284.63,481.44 L284.36,480.75 L284.09,480.06 L283.83,479.38 L283.58,478.69 L283.34,478.00 L283.11,477.31 L282.88,476.62 L282.68,475.94 L282.48,475.25 L282.31,474.56 L282.15,473.88 L282.01,473.19 L281.89,472.50 L281.82,471.81 L281.81,471.12 L281.91,470.44 L282.10,469.75 L282.38,469.06 L282.74,468.38 L283.16,467.69 L283.65,467.00 L284.18,466.31 L284.74,465.62 L285.31,464.94 L285.89,464.25 L286.43,463.56 L286.85,462.88 L286.85,462.19 L286.85,461.50 Z" fill="#3d4659" stroke="#262626" stroke-width="0.45"/>
<rect x="286.95" y="467.50" width="1.30" height="8.00" fill="#ffffff" opacity="0.8"/>
<circle cx="287.60" cy="472.50" r="0.70" fill="#ffffff"/>
<line x1="302.70" y1="454.60" x2="302.70" y2="515.40" stroke="#262626" stroke-width="1.5"/>
<path d="M303.45,465.50 L303.45,466.16 L303.45,466.82 L303.70,467.49 L304.18,468.15 L304.69,468.81 L305.22,469.48 L305.75,470.14 L306.28,470.80 L306.80,471.46 L307.28,472.12 L307.74,472.79 L308.15,473.45 L308.51,474.11 L308.82,474.77 L309.06,475.44 L309.24,476.10 L309.36,476.76 L309.40,477.43 L309.33,478.09 L309.20,478.75 L309.02,479.41 L308.80,480.07 L308.56,480.74 L308.29,481.40 L308.01,482.06 L307.70,482.73 L307.38,483.39 L307.04,484.05 L306.69,484.71 L306.33,485.38 L305.96,486.04 L305.58,486.70 L305.20,487.36 L304.81,488.02 L304.42,488.69 L304.04,489.35 L303.66,490.01 L303.45,490.68 L303.45,491.34 L303.45,492.00 L301.95,492.00 L301.95,491.34 L301.95,490.68 L301.74,490.01 L301.36,489.35 L300.98,488.69 L300.59,488.02 L300.20,487.36 L299.82,486.70 L299.44,486.04 L299.07,485.38 L298.71,484.71 L298.36,484.05 L298.02,483.39 L297.70,482.73 L297.39,482.06 L297.11,481.40 L296.84,480.74 L296.60,480.07 L296.38,479.41 L296.20,478.75 L296.07,478.09 L296.00,477.43 L296.04,476.76 L296.16,476.10 L296.34,475.44 L296.58,474.77 L296.89,474.11 L297.25,473.45 L297.66,472.79 L298.12,472.12 L298.60,471.46 L299.12,470.80 L299.65,470.14 L300.18,469.48 L300.71,468.81 L301.22,468.15 L301.70,467.49 L301.95,466.82 L301.95,466.16 L301.95,465.50 Z" fill="#eebd14" stroke="#262626" stroke-width="0.45"/>
<rect x="302.05" y="473.50" width="1.30" height="8.00" fill="#ffffff" opacity="0.8"/>
<circle cx="302.70" cy="478.50" r="0.70" fill="#ffffff"/>
<line x1="317.30" y1="456.00" x2="317.30" y2="515.40" stroke="#262626" stroke-width="1.5"/>
<path d="M318.05,465.00 L318.05,465.70 L318.05,466.40 L318.29,467.10 L318.76,467.80 L319.26,468.50 L319.77,469.20 L320.27,469.90 L320.77,470.60 L321.24,471.30 L321.67,472.00 L322.06,472.70 L322.40,473.40 L322.67,474.10 L322.88,474.80 L323.02,475.50 L323.09,476.20 L323.07,476.90 L322.98,477.60 L322.85,478.30 L322.69,479.00 L322.51,479.70 L322.31,480.40 L322.09,481.10 L321.86,481.80 L321.61,482.50 L321.35,483.20 L321.08,483.90 L320.80,484.60 L320.51,485.30 L320.21,486.00 L319.91,486.70 L319.60,487.40 L319.29,488.10 L318.98,488.80 L318.67,489.50 L318.36,490.20 L318.06,490.90 L318.05,491.60 L318.05,492.30 L318.05,493.00 L316.55,493.00 L316.55,492.30 L316.55,491.60 L316.54,490.90 L316.24,490.20 L315.93,489.50 L315.62,488.80 L315.31,488.10 L315.00,487.40 L314.69,486.70 L314.39,486.00 L314.09,485.30 L313.80,484.60 L313.52,483.90 L313.25,483.20 L312.99,482.50 L312.74,481.80 L312.51,481.10 L312.29,480.40 L312.09,479.70 L311.91,479.00 L311.75,478.30 L311.62,477.60 L311.53,476.90 L311.51,476.20 L311.58,475.50 L311.72,474.80 L311.93,474.10 L312.20,473.40 L312.54,472.70 L312.93,472.00 L313.36,471.30 L313.83,470.60 L314.33,469.90 L314.83,469.20 L315.34,468.50 L315.84,467.80 L316.31,467.10 L316.55,466.40 L316.55,465.70 L316.55,465.00 Z" fill="#1b4a86" stroke="#262626" stroke-width="0.45"/>
<rect x="316.65" y="472.50" width="1.30" height="8.00" fill="#ffffff" opacity="0.8"/>
<circle cx="317.30" cy="477.50" r="0.70" fill="#ffffff"/>
<text x="365.00" y="442.94" font-size="8.2" text-anchor="middle" fill="#333333" stroke="#333333" stroke-width="0.15">RIP3</text>
<line x1="341.20" y1="448.50" x2="341.20" y2="523.00" stroke="#333" stroke-width="1.25"/>
<line x1="340.60" y1="523.00" x2="388.00" y2="523.00" stroke="#333" stroke-width="1.25"/>
<line x1="338.90" y1="451.50" x2="341.20" y2="451.50" stroke="#333" stroke-width="0.8"/>
<text x="336.60" y="453.86" font-size="6.6" text-anchor="end" fill="#333333" stroke="#333333" stroke-width="0.15">8</text>
<line x1="338.90" y1="474.60" x2="341.20" y2="474.60" stroke="#333" stroke-width="0.8"/>
<text x="336.60" y="476.96" font-size="6.6" text-anchor="end" fill="#333333" stroke="#333333" stroke-width="0.15">6</text>
<line x1="338.90" y1="497.70" x2="341.20" y2="497.70" stroke="#333" stroke-width="0.8"/>
<text x="336.60" y="500.06" font-size="6.6" text-anchor="end" fill="#333333" stroke="#333333" stroke-width="0.15">4</text>
<line x1="338.90" y1="520.80" x2="341.20" y2="520.80" stroke="#333" stroke-width="0.8"/>
<text x="336.60" y="523.16" font-size="6.6" text-anchor="end" fill="#333333" stroke="#333333" stroke-width="0.15">2</text>
<line x1="350.40" y1="452.30" x2="350.40" y2="519.20" stroke="#262626" stroke-width="1.5"/>
<path d="M351.15,465.00 L351.15,465.62 L351.21,466.25 L351.81,466.88 L352.46,467.50 L353.12,468.12 L353.78,468.75 L354.40,469.38 L354.96,470.00 L355.44,470.62 L355.82,471.25 L356.10,471.88 L356.26,472.50 L356.30,473.12 L356.23,473.75 L356.14,474.38 L356.02,475.00 L355.87,475.62 L355.71,476.25 L355.54,476.88 L355.35,477.50 L355.15,478.12 L354.94,478.75 L354.71,479.38 L354.48,480.00 L354.24,480.62 L354.00,481.25 L353.74,481.88 L353.48,482.50 L353.22,483.12 L352.95,483.75 L352.68,484.38 L352.41,485.00 L352.13,485.62 L351.86,486.25 L351.59,486.88 L351.32,487.50 L351.15,488.12 L351.15,488.75 L351.15,489.38 L351.15,490.00 L349.65,490.00 L349.65,489.38 L349.65,488.75 L349.65,488.12 L349.48,487.50 L349.21,486.88 L348.94,486.25 L348.67,485.62 L348.39,485.00 L348.12,484.38 L347.85,483.75 L347.58,483.12 L347.32,482.50 L347.06,481.88 L346.80,481.25 L346.56,480.62 L346.32,480.00 L346.09,479.38 L345.86,478.75 L345.65,478.12 L345.45,477.50 L345.26,476.88 L345.09,476.25 L344.93,475.62 L344.78,475.00 L344.66,474.38 L344.57,473.75 L344.50,473.12 L344.54,472.50 L344.70,471.88 L344.98,471.25 L345.36,470.62 L345.84,470.00 L346.40,469.38 L347.02,468.75 L347.68,468.12 L348.34,467.50 L348.99,466.88 L349.59,466.25 L349.65,465.62 L349.65,465.00 Z" fill="#3d4659" stroke="#262626" stroke-width="0.45"/>
<rect x="349.75" y="469.00" width="1.30" height="8.00" fill="#ffffff" opacity="0.8"/>
<circle cx="350.40" cy="474.00" r="0.70" fill="#ffffff"/>
<line x1="365.30" y1="457.70" x2="365.30" y2="517.00" stroke="#262626" stroke-width="1.5"/>
<path d="M366.05,469.00 L366.05,469.61 L366.05,470.23 L366.16,470.84 L366.57,471.45 L367.01,472.06 L367.48,472.68 L367.95,473.29 L368.42,473.90 L368.88,474.51 L369.33,475.12 L369.75,475.74 L370.15,476.35 L370.51,476.96 L370.83,477.57 L371.11,478.19 L371.33,478.80 L371.51,479.41 L371.63,480.02 L371.69,480.64 L371.68,481.25 L371.56,481.86 L371.39,482.48 L371.18,483.09 L370.94,483.70 L370.67,484.31 L370.37,484.93 L370.06,485.54 L369.73,486.15 L369.38,486.76 L369.02,487.38 L368.64,487.99 L368.26,488.60 L367.87,489.21 L367.47,489.82 L367.08,490.44 L366.68,491.05 L366.30,491.66 L366.05,492.27 L366.05,492.89 L366.05,493.50 L364.55,493.50 L364.55,492.89 L364.55,492.27 L364.30,491.66 L363.92,491.05 L363.52,490.44 L363.13,489.82 L362.73,489.21 L362.34,488.60 L361.96,487.99 L361.58,487.38 L361.22,486.76 L360.87,486.15 L360.54,485.54 L360.23,484.93 L359.93,484.31 L359.66,483.70 L359.42,483.09 L359.21,482.48 L359.04,481.86 L358.92,481.25 L358.91,480.64 L358.97,480.02 L359.09,479.41 L359.27,478.80 L359.49,478.19 L359.77,477.57 L360.09,476.96 L360.45,476.35 L360.85,475.74 L361.27,475.12 L361.72,474.51 L362.18,473.90 L362.65,473.29 L363.12,472.68 L363.59,472.06 L364.03,471.45 L364.44,470.84 L364.55,470.23 L364.55,469.61 L364.55,469.00 Z" fill="#eebd14" stroke="#262626" stroke-width="0.45"/>
<rect x="364.65" y="477.00" width="1.30" height="8.00" fill="#ffffff" opacity="0.8"/>
<circle cx="365.30" cy="482.00" r="0.70" fill="#ffffff"/>
<line x1="379.60" y1="458.50" x2="379.60" y2="517.00" stroke="#262626" stroke-width="1.5"/>
<path d="M380.35,468.00 L380.35,468.62 L380.35,469.25 L380.64,469.88 L381.14,470.50 L381.66,471.12 L382.19,471.75 L382.72,472.38 L383.23,473.00 L383.71,473.62 L384.16,474.25 L384.55,474.88 L384.88,475.50 L385.15,476.12 L385.34,476.75 L385.46,477.38 L385.50,478.00 L385.44,478.62 L385.33,479.25 L385.19,479.88 L385.02,480.50 L384.83,481.12 L384.63,481.75 L384.40,482.38 L384.17,483.00 L383.91,483.62 L383.65,484.25 L383.38,484.88 L383.10,485.50 L382.80,486.12 L382.51,486.75 L382.20,487.38 L381.90,488.00 L381.59,488.62 L381.28,489.25 L380.97,489.88 L380.66,490.50 L380.36,491.12 L380.35,491.75 L380.35,492.38 L380.35,493.00 L378.85,493.00 L378.85,492.38 L378.85,491.75 L378.84,491.12 L378.54,490.50 L378.23,489.88 L377.92,489.25 L377.61,488.62 L377.30,488.00 L377.00,487.38 L376.69,486.75 L376.40,486.12 L376.10,485.50 L375.82,484.88 L375.55,484.25 L375.29,483.62 L375.03,483.00 L374.80,482.38 L374.57,481.75 L374.37,481.12 L374.18,480.50 L374.01,479.88 L373.87,479.25 L373.76,478.62 L373.70,478.00 L373.74,477.38 L373.86,476.75 L374.05,476.12 L374.32,475.50 L374.65,474.88 L375.04,474.25 L375.49,473.62 L375.97,473.00 L376.48,472.38 L377.01,471.75 L377.54,471.12 L378.06,470.50 L378.56,469.88 L378.85,469.25 L378.85,468.62 L378.85,468.00 Z" fill="#1b4a86" stroke="#262626" stroke-width="0.45"/>
<rect x="378.95" y="474.00" width="1.30" height="8.00" fill="#ffffff" opacity="0.8"/>
<circle cx="379.60" cy="479.00" r="0.70" fill="#ffffff"/>
<text x="426.90" y="443.44" font-size="8.2" text-anchor="middle" fill="#333333" stroke="#333333" stroke-width="0.15">p21</text>
<line x1="404.20" y1="448.20" x2="404.20" y2="523.00" stroke="#333" stroke-width="1.25"/>
<line x1="403.60" y1="523.00" x2="450.30" y2="523.00" stroke="#333" stroke-width="1.25"/>
<line x1="401.90" y1="462.60" x2="404.20" y2="462.60" stroke="#333" stroke-width="0.8"/>
<text x="399.60" y="464.96" font-size="6.6" text-anchor="end" fill="#333333" stroke="#333333" stroke-width="0.15">5</text>
<line x1="401.90" y1="479.70" x2="404.20" y2="479.70" stroke="#333" stroke-width="0.8"/>
<text x="399.60" y="482.06" font-size="6.6" text-anchor="end" fill="#333333" stroke="#333333" stroke-width="0.15">4</text>
<line x1="401.90" y1="496.90" x2="404.20" y2="496.90" stroke="#333" stroke-width="0.8"/>
<text x="399.60" y="499.26" font-size="6.6" text-anchor="end" fill="#333333" stroke="#333333" stroke-width="0.15">3</text>
<line x1="401.90" y1="513.80" x2="404.20" y2="513.80" stroke="#333" stroke-width="0.8"/>
<text x="399.60" y="516.16" font-size="6.6" text-anchor="end" fill="#333333" stroke="#333333" stroke-width="0.15">2</text>
<line x1="412.80" y1="452.30" x2="412.80" y2="517.00" stroke="#262626" stroke-width="1.5"/>
<path d="M413.55,470.50 L413.55,471.14 L413.55,471.77 L413.81,472.41 L414.29,473.05 L414.79,473.69 L415.29,474.32 L415.79,474.96 L416.26,475.60 L416.69,476.24 L417.08,476.88 L417.40,477.51 L417.67,478.15 L417.85,478.79 L417.97,479.43 L418.00,480.06 L417.94,480.70 L417.85,481.34 L417.73,481.98 L417.59,482.61 L417.43,483.25 L417.26,483.89 L417.08,484.52 L416.88,485.16 L416.67,485.80 L416.45,486.44 L416.22,487.07 L415.99,487.71 L415.75,488.35 L415.50,488.99 L415.25,489.62 L414.99,490.26 L414.73,490.90 L414.47,491.54 L414.21,492.18 L413.95,492.81 L413.69,493.45 L413.55,494.09 L413.55,494.73 L413.55,495.36 L413.55,496.00 L412.05,496.00 L412.05,495.36 L412.05,494.73 L412.05,494.09 L411.91,493.45 L411.65,492.81 L411.39,492.18 L411.13,491.54 L410.87,490.90 L410.61,490.26 L410.35,489.62 L410.10,488.99 L409.85,488.35 L409.61,487.71 L409.38,487.07 L409.15,486.44 L408.93,485.80 L408.72,485.16 L408.52,484.52 L408.34,483.89 L408.17,483.25 L408.01,482.61 L407.87,481.98 L407.75,481.34 L407.66,480.70 L407.60,480.06 L407.63,479.43 L407.75,478.79 L407.93,478.15 L408.20,477.51 L408.52,476.88 L408.91,476.24 L409.34,475.60 L409.81,474.96 L410.31,474.32 L410.81,473.69 L411.31,473.05 L411.79,472.41 L412.05,471.77 L412.05,471.14 L412.05,470.50 Z" fill="#3d4659" stroke="#262626" stroke-width="0.45"/>
<rect x="412.15" y="476.00" width="1.30" height="8.00" fill="#ffffff" opacity="0.8"/>
<circle cx="412.80" cy="481.00" r="0.70" fill="#ffffff"/>
<line x1="427.20" y1="457.00" x2="427.20" y2="517.00" stroke="#262626" stroke-width="1.5"/>
<path d="M427.95,474.50 L427.95,475.07 L427.95,475.65 L428.10,476.23 L428.53,476.80 L429.00,477.38 L429.48,477.95 L429.98,478.52 L430.48,479.10 L430.97,479.68 L431.45,480.25 L431.90,480.82 L432.33,481.40 L432.72,481.98 L433.07,482.55 L433.38,483.12 L433.63,483.70 L433.83,484.27 L433.98,484.85 L434.07,485.43 L434.10,486.00 L434.01,486.57 L433.84,487.15 L433.62,487.73 L433.37,488.30 L433.08,488.88 L432.76,489.45 L432.42,490.02 L432.06,490.60 L431.68,491.18 L431.29,491.75 L430.88,492.32 L430.46,492.90 L430.03,493.48 L429.60,494.05 L429.16,494.62 L428.73,495.20 L428.30,495.77 L427.95,496.35 L427.95,496.93 L427.95,497.50 L426.45,497.50 L426.45,496.93 L426.45,496.35 L426.10,495.77 L425.67,495.20 L425.24,494.62 L424.80,494.05 L424.37,493.48 L423.94,492.90 L423.52,492.32 L423.11,491.75 L422.72,491.18 L422.34,490.60 L421.98,490.02 L421.64,489.45 L421.32,488.88 L421.03,488.30 L420.78,487.73 L420.56,487.15 L420.39,486.57 L420.30,486.00 L420.33,485.43 L420.42,484.85 L420.57,484.27 L420.77,483.70 L421.02,483.12 L421.33,482.55 L421.68,481.98 L422.07,481.40 L422.50,480.82 L422.95,480.25 L423.43,479.68 L423.92,479.10 L424.42,478.52 L424.92,477.95 L425.40,477.38 L425.87,476.80 L426.30,476.23 L426.45,475.65 L426.45,475.07 L426.45,474.50 Z" fill="#eebd14" stroke="#262626" stroke-width="0.45"/>
<rect x="426.55" y="482.00" width="1.30" height="8.00" fill="#ffffff" opacity="0.8"/>
<circle cx="427.20" cy="487.00" r="0.70" fill="#ffffff"/>
<line x1="442.30" y1="453.80" x2="442.30" y2="519.20" stroke="#262626" stroke-width="1.5"/>
<path d="M443.05,473.50 L443.05,474.12 L443.05,474.75 L443.21,475.38 L443.64,476.00 L444.10,476.62 L444.58,477.25 L445.07,477.88 L445.55,478.50 L446.02,479.12 L446.47,479.75 L446.89,480.38 L447.27,481.00 L447.61,481.62 L447.90,482.25 L448.14,482.88 L448.32,483.50 L448.44,484.12 L448.49,484.75 L448.47,485.38 L448.35,486.00 L448.19,486.62 L448.00,487.25 L447.78,487.88 L447.53,488.50 L447.27,489.12 L446.98,489.75 L446.68,490.38 L446.37,491.00 L446.04,491.62 L445.70,492.25 L445.36,492.88 L445.00,493.50 L444.64,494.12 L444.28,494.75 L443.92,495.38 L443.56,496.00 L443.20,496.62 L443.05,497.25 L443.05,497.88 L443.05,498.50 L441.55,498.50 L441.55,497.88 L441.55,497.25 L441.40,496.62 L441.04,496.00 L440.68,495.38 L440.32,494.75 L439.96,494.12 L439.60,493.50 L439.24,492.88 L438.90,492.25 L438.56,491.62 L438.23,491.00 L437.92,490.38 L437.62,489.75 L437.33,489.12 L437.07,488.50 L436.82,487.88 L436.60,487.25 L436.41,486.62 L436.25,486.00 L436.13,485.38 L436.11,484.75 L436.16,484.12 L436.28,483.50 L436.46,482.88 L436.70,482.25 L436.99,481.62 L437.33,481.00 L437.71,480.38 L438.13,479.75 L438.58,479.12 L439.05,478.50 L439.53,477.88 L440.02,477.25 L440.50,476.62 L440.96,476.00 L441.39,475.38 L441.55,474.75 L441.55,474.12 L441.55,473.50 Z" fill="#1b4a86" stroke="#262626" stroke-width="0.45"/>
<rect x="441.65" y="481.00" width="1.30" height="8.00" fill="#ffffff" opacity="0.8"/>
<circle cx="442.30" cy="486.00" r="0.70" fill="#ffffff"/>
<text x="489.50" y="443.44" font-size="8.2" text-anchor="middle" fill="#333333" stroke="#333333" stroke-width="0.15">LC3B</text>
<line x1="466.20" y1="448.00" x2="466.20" y2="523.00" stroke="#333" stroke-width="1.25"/>
<line x1="465.60" y1="523.00" x2="513.00" y2="523.00" stroke="#333" stroke-width="1.25"/>
<line x1="463.90" y1="449.70" x2="466.20" y2="449.70" stroke="#333" stroke-width="0.8"/>
<text x="461.60" y="452.06" font-size="6.6" text-anchor="end" fill="#333333" stroke="#333333" stroke-width="0.15">6</text>
<line x1="463.90" y1="477.40" x2="466.20" y2="477.40" stroke="#333" stroke-width="0.8"/>
<text x="461.60" y="479.76" font-size="6.6" text-anchor="end" fill="#333333" stroke="#333333" stroke-width="0.15">4</text>
<line x1="463.90" y1="505.10" x2="466.20" y2="505.10" stroke="#333" stroke-width="0.8"/>
<text x="461.60" y="507.46" font-size="6.6" text-anchor="end" fill="#333333" stroke="#333333" stroke-width="0.15">2</text>
<line x1="475.40" y1="452.30" x2="475.40" y2="516.20" stroke="#262626" stroke-width="1.5"/>
<path d="M476.15,479.00 L476.15,479.56 L476.15,480.12 L476.18,480.69 L476.56,481.25 L476.96,481.81 L477.38,482.38 L477.80,482.94 L478.23,483.50 L478.65,484.06 L479.06,484.62 L479.44,485.19 L479.80,485.75 L480.13,486.31 L480.42,486.88 L480.67,487.44 L480.87,488.00 L481.03,488.56 L481.14,489.12 L481.19,489.69 L481.18,490.25 L481.07,490.81 L480.91,491.38 L480.72,491.94 L480.50,492.50 L480.26,493.06 L479.99,493.62 L479.71,494.19 L479.41,494.75 L479.09,495.31 L478.76,495.88 L478.42,496.44 L478.08,497.00 L477.72,497.56 L477.37,498.12 L477.01,498.69 L476.65,499.25 L476.30,499.81 L476.15,500.38 L476.15,500.94 L476.15,501.50 L474.65,501.50 L474.65,500.94 L474.65,500.38 L474.50,499.81 L474.15,499.25 L473.79,498.69 L473.43,498.12 L473.08,497.56 L472.72,497.00 L472.38,496.44 L472.04,495.88 L471.71,495.31 L471.39,494.75 L471.09,494.19 L470.81,493.62 L470.54,493.06 L470.30,492.50 L470.08,491.94 L469.89,491.38 L469.73,490.81 L469.62,490.25 L469.61,489.69 L469.66,489.12 L469.77,488.56 L469.93,488.00 L470.13,487.44 L470.38,486.88 L470.67,486.31 L471.00,485.75 L471.36,485.19 L471.74,484.62 L472.15,484.06 L472.57,483.50 L473.00,482.94 L473.42,482.38 L473.84,481.81 L474.24,481.25 L474.62,480.69 L474.65,480.12 L474.65,479.56 L474.65,479.00 Z" fill="#3d4659" stroke="#262626" stroke-width="0.45"/>
<rect x="474.75" y="486.00" width="1.30" height="8.00" fill="#ffffff" opacity="0.8"/>
<circle cx="475.40" cy="491.00" r="0.70" fill="#ffffff"/>
<line x1="490.00" y1="451.50" x2="490.00" y2="517.00" stroke="#262626" stroke-width="1.5"/>
<path d="M490.75,483.50 L490.75,484.05 L490.75,484.60 L490.76,485.15 L491.13,485.70 L491.53,486.25 L491.95,486.80 L492.38,487.35 L492.82,487.90 L493.25,488.45 L493.68,489.00 L494.10,489.55 L494.50,490.10 L494.87,490.65 L495.22,491.20 L495.54,491.75 L495.82,492.30 L496.06,492.85 L496.26,493.40 L496.41,493.95 L496.52,494.50 L496.58,495.05 L496.59,495.60 L496.47,496.15 L496.27,496.70 L496.02,497.25 L495.74,497.80 L495.41,498.35 L495.06,498.90 L494.69,499.45 L494.29,500.00 L493.87,500.55 L493.44,501.10 L493.00,501.65 L492.54,502.20 L492.08,502.75 L491.63,503.30 L491.17,503.85 L490.75,504.40 L490.75,504.95 L490.75,505.50 L489.25,505.50 L489.25,504.95 L489.25,504.40 L488.83,503.85 L488.37,503.30 L487.92,502.75 L487.46,502.20 L487.00,501.65 L486.56,501.10 L486.13,500.55 L485.71,500.00 L485.31,499.45 L484.94,498.90 L484.59,498.35 L484.26,497.80 L483.98,497.25 L483.73,496.70 L483.53,496.15 L483.41,495.60 L483.42,495.05 L483.48,494.50 L483.59,493.95 L483.74,493.40 L483.94,492.85 L484.18,492.30 L484.46,491.75 L484.78,491.20 L485.13,490.65 L485.50,490.10 L485.90,489.55 L486.32,489.00 L486.75,488.45 L487.18,487.90 L487.62,487.35 L488.05,486.80 L488.47,486.25 L488.87,485.70 L489.24,485.15 L489.25,484.60 L489.25,484.05 L489.25,483.50 Z" fill="#eebd14" stroke="#262626" stroke-width="0.45"/>
<rect x="489.35" y="491.50" width="1.30" height="8.00" fill="#ffffff" opacity="0.8"/>
<circle cx="490.00" cy="496.50" r="0.70" fill="#ffffff"/>
<line x1="504.60" y1="463.80" x2="504.60" y2="519.20" stroke="#262626" stroke-width="1.5"/>
<path d="M505.35,485.00 L505.35,485.55 L505.35,486.10 L505.42,486.65 L505.82,487.20 L506.24,487.75 L506.69,488.30 L507.14,488.85 L507.59,489.40 L508.04,489.95 L508.48,490.50 L508.89,491.05 L509.28,491.60 L509.64,492.15 L509.96,492.70 L510.24,493.25 L510.47,493.80 L510.66,494.35 L510.79,494.90 L510.87,495.45 L510.90,496.00 L510.82,496.55 L510.66,497.10 L510.46,497.65 L510.23,498.20 L509.97,498.75 L509.68,499.30 L509.37,499.85 L509.04,500.40 L508.69,500.95 L508.33,501.50 L507.96,502.05 L507.58,502.60 L507.18,503.15 L506.79,503.70 L506.39,504.25 L505.99,504.80 L505.60,505.35 L505.35,505.90 L505.35,506.45 L505.35,507.00 L503.85,507.00 L503.85,506.45 L503.85,505.90 L503.60,505.35 L503.21,504.80 L502.81,504.25 L502.41,503.70 L502.02,503.15 L501.62,502.60 L501.24,502.05 L500.87,501.50 L500.51,500.95 L500.16,500.40 L499.83,499.85 L499.52,499.30 L499.23,498.75 L498.97,498.20 L498.74,497.65 L498.54,497.10 L498.38,496.55 L498.30,496.00 L498.33,495.45 L498.41,494.90 L498.54,494.35 L498.73,493.80 L498.96,493.25 L499.24,492.70 L499.56,492.15 L499.92,491.60 L500.31,491.05 L500.72,490.50 L501.16,489.95 L501.61,489.40 L502.06,488.85 L502.51,488.30 L502.96,487.75 L503.38,487.20 L503.78,486.65 L503.85,486.10 L503.85,485.55 L503.85,485.00 Z" fill="#1b4a86" stroke="#262626" stroke-width="0.45"/>
<rect x="503.95" y="492.00" width="1.30" height="8.00" fill="#ffffff" opacity="0.8"/>
<circle cx="504.60" cy="497.00" r="0.70" fill="#ffffff"/>
<text x="262.00" y="488.26" font-size="8.0" text-anchor="middle" fill="#333333" stroke="#333333" stroke-width="0.15" transform="rotate(-90 262.00 485.40)" textLength="52.5" lengthAdjust="spacingAndGlyphs">Scaled expression</text>
<rect x="341.10" y="533.20" width="5.60" height="5.60" fill="#3d4659"/>
<text x="349.20" y="538.36" font-size="6.6" text-anchor="start" fill="#333333" stroke="#333333" stroke-width="0.15">Control</text>
<rect x="379.60" y="533.20" width="5.60" height="5.60" fill="#eebd14"/>
<text x="388.00" y="538.36" font-size="6.6" text-anchor="start" fill="#333333" stroke="#333333" stroke-width="0.15">40nM</text>
<rect x="411.80" y="533.20" width="5.60" height="5.60" fill="#1b4a86"/>
<text x="420.40" y="538.36" font-size="6.6" text-anchor="start" fill="#333333" stroke="#333333" stroke-width="0.15">100nM</text>
<text x="6.60" y="569.09" font-size="10.6" font-weight="bold" fill="#111" stroke="#111" stroke-width="0.45">I</text>
<line x1="31.60" y1="578.20" x2="31.60" y2="658.10" stroke="#333" stroke-width="1.2"/>
<line x1="31.10" y1="658.10" x2="121.00" y2="658.10" stroke="#333" stroke-width="1.2"/>
<line x1="29.30" y1="657.50" x2="31.60" y2="657.50" stroke="#333" stroke-width="0.8"/>
<text x="27.00" y="659.86" font-size="6.6" text-anchor="end" fill="#333333" stroke="#333333" stroke-width="0.15">0</text>
<line x1="29.30" y1="637.60" x2="31.60" y2="637.60" stroke="#333" stroke-width="0.8"/>
<text x="27.00" y="639.96" font-size="6.6" text-anchor="end" fill="#333333" stroke="#333333" stroke-width="0.15">1</text>
<line x1="29.30" y1="617.70" x2="31.60" y2="617.70" stroke="#333" stroke-width="0.8"/>
<text x="27.00" y="620.06" font-size="6.6" text-anchor="end" fill="#333333" stroke="#333333" stroke-width="0.15">2</text>
<line x1="29.30" y1="597.80" x2="31.60" y2="597.80" stroke="#333" stroke-width="0.8"/>
<text x="27.00" y="600.16" font-size="6.6" text-anchor="end" fill="#333333" stroke="#333333" stroke-width="0.15">3</text>
<line x1="45.00" y1="658.10" x2="45.00" y2="660.40" stroke="#333" stroke-width="0.8"/>
<text x="46.80" y="665.20" font-size="6.8" fill="#333333" stroke="#333333" stroke-width="0.15" text-anchor="end" transform="rotate(-45 46.80 665.20)">Cont</text>
<line x1="67.00" y1="658.10" x2="67.00" y2="660.40" stroke="#333" stroke-width="0.8"/>
<text x="68.80" y="665.20" font-size="6.8" fill="#333333" stroke="#333333" stroke-width="0.15" text-anchor="end" transform="rotate(-45 68.80 665.20)">40nM</text>
<line x1="89.40" y1="658.10" x2="89.40" y2="660.40" stroke="#333" stroke-width="0.8"/>
<text x="91.20" y="665.20" font-size="6.8" fill="#333333" stroke="#333333" stroke-width="0.15" text-anchor="end" transform="rotate(-45 91.20 665.20)">100nM</text>
<line x1="111.40" y1="658.10" x2="111.40" y2="660.40" stroke="#333" stroke-width="0.8"/>
<text x="113.20" y="665.20" font-size="6.8" fill="#333333" stroke="#333333" stroke-width="0.15" text-anchor="end" transform="rotate(-45 113.20 665.20)">250nM</text>
<path d="M45.00,650.53 L67.00,651.53 L89.40,649.14 L111.40,581.88" fill="none" stroke="#f2a03c" stroke-width="1.3"/>
<circle cx="45.00" cy="650.53" r="1.30" fill="#f2a03c"/>
<circle cx="67.00" cy="651.53" r="1.30" fill="#f2a03c"/>
<circle cx="89.40" cy="649.14" r="1.30" fill="#f2a03c"/>
<circle cx="111.40" cy="581.88" r="1.30" fill="#f2a03c"/>
<path d="M45.00,648.54 L67.00,648.54 L89.40,643.57 L111.40,590.64" fill="none" stroke="#3aa640" stroke-width="1.3"/>
<circle cx="45.00" cy="648.54" r="1.30" fill="#3aa640"/>
<circle cx="67.00" cy="648.54" r="1.30" fill="#3aa640"/>
<circle cx="89.40" cy="643.57" r="1.30" fill="#3aa640"/>
<circle cx="111.40" cy="590.64" r="1.30" fill="#3aa640"/>
<path d="M45.00,646.55 L67.00,647.55 L89.40,642.58 L111.40,624.66" fill="none" stroke="#1f3a6e" stroke-width="1.3"/>
<circle cx="45.00" cy="646.55" r="1.30" fill="#1f3a6e"/>
<circle cx="67.00" cy="647.55" r="1.30" fill="#1f3a6e"/>
<circle cx="89.40" cy="642.58" r="1.30" fill="#1f3a6e"/>
<circle cx="111.40" cy="624.66" r="1.30" fill="#1f3a6e"/>
<path d="M45.00,645.16 L67.00,647.15 L89.40,641.18 L111.40,653.92" fill="none" stroke="#c8227e" stroke-width="1.3"/>
<circle cx="45.00" cy="645.16" r="1.30" fill="#c8227e"/>
<circle cx="67.00" cy="647.15" r="1.30" fill="#c8227e"/>
<circle cx="89.40" cy="641.18" r="1.30" fill="#c8227e"/>
<circle cx="111.40" cy="653.92" r="1.30" fill="#c8227e"/>
<line x1="35.30" y1="581.20" x2="43.00" y2="581.20" stroke="#c8227e" stroke-width="1.1"/>
<circle cx="39.20" cy="581.20" r="1.30" fill="#c8227e"/>
<text x="46.60" y="583.63" font-size="6.8" text-anchor="start" fill="#333333" stroke="#333333" stroke-width="0.15" font-style="italic" textLength="24" lengthAdjust="spacingAndGlyphs">TP53 WT</text>
<line x1="35.30" y1="590.77" x2="43.00" y2="590.77" stroke="#f2a03c" stroke-width="1.1"/>
<circle cx="39.20" cy="590.77" r="1.30" fill="#f2a03c"/>
<text x="46.60" y="593.20" font-size="6.8" text-anchor="start" fill="#333333" stroke="#333333" stroke-width="0.15" font-style="italic" textLength="25" lengthAdjust="spacingAndGlyphs">TP53 KO</text>
<line x1="35.30" y1="600.34" x2="43.00" y2="600.34" stroke="#1f3a6e" stroke-width="1.1"/>
<circle cx="39.20" cy="600.34" r="1.30" fill="#1f3a6e"/>
<text x="46.60" y="602.77" font-size="6.8" text-anchor="start" fill="#333333" stroke="#333333" stroke-width="0.15" font-style="italic" textLength="17" lengthAdjust="spacingAndGlyphs">R175H</text>
<line x1="35.30" y1="609.91" x2="43.00" y2="609.91" stroke="#3aa640" stroke-width="1.1"/>
<circle cx="39.20" cy="609.91" r="1.30" fill="#3aa640"/>
<text x="46.60" y="612.34" font-size="6.8" text-anchor="start" fill="#333333" stroke="#333333" stroke-width="0.15" font-style="italic" textLength="17.8" lengthAdjust="spacingAndGlyphs">Y220C</text>
<text x="16.40" y="624.36" font-size="8.0" text-anchor="middle" fill="#333333" stroke="#333333" stroke-width="0.15" transform="rotate(-90 16.40 621.50)" textLength="72" lengthAdjust="spacingAndGlyphs">CL2/C1 ratio (log2)</text>
<text x="137.00" y="569.99" font-size="10.6" font-weight="bold" fill="#111" stroke="#111" stroke-width="0.45">J</text>
<g shape-rendering="crispEdges">
<rect x="150.10" y="577.60" width="1.05" height="12.65" fill="#f3861a"/>
<rect x="150.10" y="590.20" width="1.05" height="12.65" fill="#ed761a"/>
<rect x="150.10" y="602.80" width="1.05" height="12.65" fill="#f4721d"/>
<rect x="150.10" y="615.40" width="1.05" height="12.65" fill="#a2206f"/>
<rect x="150.10" y="628.00" width="1.05" height="12.65" fill="#a2226c"/>
<rect x="150.10" y="640.60" width="1.05" height="12.65" fill="#7c2074"/>
<rect x="151.10" y="577.60" width="1.55" height="12.65" fill="#e77f19"/>
<rect x="151.10" y="590.20" width="1.55" height="12.65" fill="#ef771a"/>
<rect x="151.10" y="602.80" width="1.55" height="12.65" fill="#e36b1b"/>
<rect x="151.10" y="615.40" width="1.55" height="12.65" fill="#9a1e6a"/>
<rect x="151.10" y="628.00" width="1.55" height="12.65" fill="#a0226b"/>
<rect x="151.10" y="640.60" width="1.55" height="12.65" fill="#741e6c"/>
<rect x="152.60" y="577.60" width="1.55" height="12.65" fill="#f3861a"/>
<rect x="152.60" y="590.20" width="1.55" height="12.65" fill="#f67b1b"/>
<rect x="152.60" y="602.80" width="1.55" height="12.65" fill="#f1711c"/>
<rect x="152.60" y="615.40" width="1.55" height="12.65" fill="#9b1f6b"/>
<rect x="152.60" y="628.00" width="1.55" height="12.65" fill="#a2226c"/>
<rect x="152.60" y="640.60" width="1.55" height="12.65" fill="#791f71"/>
<rect x="154.10" y="577.60" width="1.05" height="12.65" fill="#f4861a"/>
<rect x="154.10" y="590.20" width="1.05" height="12.65" fill="#e67319"/>
<rect x="154.10" y="602.80" width="1.05" height="12.65" fill="#ee701c"/>
<rect x="154.10" y="615.40" width="1.05" height="12.65" fill="#9b1f6a"/>
<rect x="154.10" y="628.00" width="1.05" height="12.65" fill="#a1226b"/>
<rect x="154.10" y="640.60" width="1.05" height="12.65" fill="#7d2074"/>
<rect x="155.10" y="577.60" width="1.55" height="12.65" fill="#f4861a"/>
<rect x="155.10" y="590.20" width="1.55" height="12.65" fill="#e47219"/>
<rect x="155.10" y="602.80" width="1.55" height="12.65" fill="#ef701c"/>
<rect x="155.10" y="615.40" width="1.55" height="12.65" fill="#9d1f6b"/>
<rect x="155.10" y="628.00" width="1.55" height="12.65" fill="#a82470"/>
<rect x="155.10" y="640.60" width="1.55" height="12.65" fill="#791f71"/>
<rect x="156.60" y="577.60" width="1.55" height="12.65" fill="#f9891b"/>
<rect x="156.60" y="590.20" width="1.55" height="12.65" fill="#e67319"/>
<rect x="156.60" y="602.80" width="1.55" height="12.65" fill="#f3721d"/>
<rect x="156.60" y="615.40" width="1.55" height="12.65" fill="#a32070"/>
<rect x="156.60" y="628.00" width="1.55" height="12.65" fill="#a0226b"/>
<rect x="156.60" y="640.60" width="1.55" height="12.65" fill="#741e6d"/>
<rect x="158.10" y="577.60" width="1.55" height="12.65" fill="#f4861a"/>
<rect x="158.10" y="590.20" width="1.55" height="12.65" fill="#ee771a"/>
<rect x="158.10" y="602.80" width="1.55" height="12.65" fill="#e76c1b"/>
<rect x="158.10" y="615.40" width="1.55" height="12.65" fill="#9d1f6c"/>
<rect x="158.10" y="628.00" width="1.55" height="12.65" fill="#a92471"/>
<rect x="158.10" y="640.60" width="1.55" height="12.65" fill="#7f2176"/>
<rect x="159.60" y="577.60" width="1.05" height="12.65" fill="#f2851a"/>
<rect x="159.60" y="590.20" width="1.05" height="12.65" fill="#e87419"/>
<rect x="159.60" y="602.80" width="1.05" height="12.65" fill="#f3721d"/>
<rect x="159.60" y="615.40" width="1.05" height="12.65" fill="#a32070"/>
<rect x="159.60" y="628.00" width="1.05" height="12.65" fill="#a7236f"/>
<rect x="159.60" y="640.60" width="1.05" height="12.65" fill="#761f6e"/>
<rect x="160.60" y="577.60" width="1.05" height="12.65" fill="#ed8219"/>
<rect x="160.60" y="590.20" width="1.05" height="12.65" fill="#ef771a"/>
<rect x="160.60" y="602.80" width="1.05" height="12.65" fill="#ec6f1c"/>
<rect x="160.60" y="615.40" width="1.05" height="12.65" fill="#9e1f6d"/>
<rect x="160.60" y="628.00" width="1.05" height="12.65" fill="#a6236e"/>
<rect x="160.60" y="640.60" width="1.05" height="12.65" fill="#7d2074"/>
<rect x="161.60" y="577.60" width="1.05" height="12.65" fill="#f6871a"/>
<rect x="161.60" y="590.20" width="1.05" height="12.65" fill="#ed761a"/>
<rect x="161.60" y="602.80" width="1.05" height="12.65" fill="#e56b1b"/>
<rect x="161.60" y="615.40" width="1.05" height="12.65" fill="#991e69"/>
<rect x="161.60" y="628.00" width="1.05" height="12.65" fill="#af2574"/>
<rect x="161.60" y="640.60" width="1.05" height="12.65" fill="#7c2074"/>
<rect x="162.60" y="577.60" width="1.55" height="12.65" fill="#ec8219"/>
<rect x="162.60" y="590.20" width="1.55" height="12.65" fill="#ee771a"/>
<rect x="162.60" y="602.80" width="1.55" height="12.65" fill="#f4721d"/>
<rect x="162.60" y="615.40" width="1.55" height="12.65" fill="#a42071"/>
<rect x="162.60" y="628.00" width="1.55" height="12.65" fill="#a92471"/>
<rect x="162.60" y="640.60" width="1.55" height="12.65" fill="#771f70"/>
<rect x="164.10" y="577.60" width="1.05" height="12.65" fill="#fa891b"/>
<rect x="164.10" y="590.20" width="1.05" height="12.65" fill="#e67319"/>
<rect x="164.10" y="602.80" width="1.05" height="12.65" fill="#e76c1b"/>
<rect x="164.10" y="615.40" width="1.05" height="12.65" fill="#9e1f6c"/>
<rect x="164.10" y="628.00" width="1.05" height="12.65" fill="#ac2472"/>
<rect x="164.10" y="640.60" width="1.05" height="12.65" fill="#771f6f"/>
<rect x="165.10" y="577.60" width="1.05" height="12.65" fill="#eb8119"/>
<rect x="165.10" y="590.20" width="1.05" height="12.65" fill="#e17018"/>
<rect x="165.10" y="602.80" width="1.05" height="12.65" fill="#e56b1b"/>
<rect x="165.10" y="615.40" width="1.05" height="12.65" fill="#9e1f6d"/>
<rect x="165.10" y="628.00" width="1.05" height="12.65" fill="#a92470"/>
<rect x="165.10" y="640.60" width="1.05" height="12.65" fill="#7d2075"/>
<rect x="166.10" y="577.60" width="1.05" height="12.65" fill="#eb8119"/>
<rect x="166.10" y="590.20" width="1.05" height="12.65" fill="#e47219"/>
<rect x="166.10" y="602.80" width="1.05" height="12.65" fill="#f2711c"/>
<rect x="166.10" y="615.40" width="1.05" height="12.65" fill="#a72172"/>
<rect x="166.10" y="628.00" width="1.05" height="12.65" fill="#a2226c"/>
<rect x="166.10" y="640.60" width="1.05" height="12.65" fill="#7f2176"/>
<rect x="167.10" y="577.60" width="1.55" height="12.65" fill="#f3861a"/>
<rect x="167.10" y="590.20" width="1.55" height="12.65" fill="#f47a1a"/>
<rect x="167.10" y="602.80" width="1.55" height="12.65" fill="#e66c1b"/>
<rect x="167.10" y="615.40" width="1.55" height="12.65" fill="#9a1e69"/>
<rect x="167.10" y="628.00" width="1.55" height="12.65" fill="#a82470"/>
<rect x="167.10" y="640.60" width="1.55" height="12.65" fill="#7d2075"/>
<rect x="168.60" y="577.60" width="1.05" height="12.65" fill="#f6871a"/>
<rect x="168.60" y="590.20" width="1.05" height="12.65" fill="#f0781a"/>
<rect x="168.60" y="602.80" width="1.05" height="12.65" fill="#f4721d"/>
<rect x="168.60" y="615.40" width="1.05" height="12.65" fill="#9d1f6c"/>
<rect x="168.60" y="628.00" width="1.05" height="12.65" fill="#a1226b"/>
<rect x="168.60" y="640.60" width="1.05" height="12.65" fill="#781f70"/>
<rect x="169.60" y="577.60" width="1.55" height="12.65" fill="#e98019"/>
<rect x="169.60" y="590.20" width="1.55" height="12.65" fill="#e67319"/>
<rect x="169.60" y="602.80" width="1.55" height="12.65" fill="#ef701c"/>
<rect x="169.60" y="615.40" width="1.55" height="12.65" fill="#a42070"/>
<rect x="169.60" y="628.00" width="1.55" height="12.65" fill="#a7236f"/>
<rect x="169.60" y="640.60" width="1.55" height="12.65" fill="#751e6d"/>
<rect x="171.10" y="577.60" width="1.05" height="12.65" fill="#f5871a"/>
<rect x="171.10" y="590.20" width="1.05" height="12.65" fill="#e67319"/>
<rect x="171.10" y="602.80" width="1.05" height="12.65" fill="#eb6e1c"/>
<rect x="171.10" y="615.40" width="1.05" height="12.65" fill="#a52171"/>
<rect x="171.10" y="628.00" width="1.05" height="12.65" fill="#ad2573"/>
<rect x="171.10" y="640.60" width="1.05" height="12.65" fill="#7a2072"/>
<rect x="172.10" y="577.60" width="1.05" height="12.65" fill="#f0841a"/>
<rect x="172.10" y="590.20" width="1.05" height="12.65" fill="#e57219"/>
<rect x="172.10" y="602.80" width="1.05" height="12.65" fill="#e36b1b"/>
<rect x="172.10" y="615.40" width="1.05" height="12.65" fill="#9a1e69"/>
<rect x="172.10" y="628.00" width="1.05" height="12.65" fill="#ac2473"/>
<rect x="172.10" y="640.60" width="1.05" height="12.65" fill="#771f6f"/>
<rect x="173.10" y="577.60" width="1.55" height="12.65" fill="#f1841a"/>
<rect x="173.10" y="590.20" width="1.55" height="12.65" fill="#e97419"/>
<rect x="173.10" y="602.80" width="1.55" height="12.65" fill="#ea6e1c"/>
<rect x="173.10" y="615.40" width="1.55" height="12.65" fill="#9a1e6a"/>
<rect x="173.10" y="628.00" width="1.55" height="12.65" fill="#a1226b"/>
<rect x="173.10" y="640.60" width="1.55" height="12.65" fill="#7f2177"/>
<rect x="174.60" y="577.60" width="1.05" height="12.65" fill="#f7881a"/>
<rect x="174.60" y="590.20" width="1.05" height="12.65" fill="#e97419"/>
<rect x="174.60" y="602.80" width="1.05" height="12.65" fill="#e96d1b"/>
<rect x="174.60" y="615.40" width="1.05" height="12.65" fill="#991e69"/>
<rect x="174.60" y="628.00" width="1.05" height="12.65" fill="#a5236e"/>
<rect x="174.60" y="640.60" width="1.05" height="12.65" fill="#741e6d"/>
<rect x="175.60" y="577.60" width="1.05" height="12.65" fill="#f0841a"/>
<rect x="175.60" y="590.20" width="1.05" height="12.65" fill="#e17018"/>
<rect x="175.60" y="602.80" width="1.05" height="12.65" fill="#e0691a"/>
<rect x="175.60" y="615.40" width="1.05" height="12.65" fill="#a72172"/>
<rect x="175.60" y="628.00" width="1.05" height="12.65" fill="#ad2573"/>
<rect x="175.60" y="640.60" width="1.05" height="12.65" fill="#791f71"/>
<rect x="176.60" y="577.60" width="1.55" height="12.65" fill="#e98019"/>
<rect x="176.60" y="590.20" width="1.55" height="12.65" fill="#f57a1a"/>
<rect x="176.60" y="602.80" width="1.55" height="12.65" fill="#e56b1b"/>
<rect x="176.60" y="615.40" width="1.55" height="12.65" fill="#9a1e6a"/>
<rect x="176.60" y="628.00" width="1.55" height="12.65" fill="#a7236f"/>
<rect x="176.60" y="640.60" width="1.55" height="12.65" fill="#7b2072"/>
<rect x="178.10" y="577.60" width="1.55" height="12.65" fill="#fa891b"/>
<rect x="178.10" y="590.20" width="1.55" height="12.65" fill="#e67319"/>
<rect x="178.10" y="602.80" width="1.55" height="12.65" fill="#e0691a"/>
<rect x="178.10" y="615.40" width="1.55" height="12.65" fill="#9b1f6b"/>
<rect x="178.10" y="628.00" width="1.55" height="12.65" fill="#a3226c"/>
<rect x="178.10" y="640.60" width="1.55" height="12.65" fill="#751e6d"/>
<rect x="179.60" y="577.60" width="1.05" height="12.65" fill="#e57e18"/>
<rect x="179.60" y="590.20" width="1.05" height="12.65" fill="#e97419"/>
<rect x="179.60" y="602.80" width="1.05" height="12.65" fill="#ee701c"/>
<rect x="179.60" y="615.40" width="1.05" height="12.65" fill="#9f1f6d"/>
<rect x="179.60" y="628.00" width="1.05" height="12.65" fill="#ad2573"/>
<rect x="179.60" y="640.60" width="1.05" height="12.65" fill="#7e2176"/>
<rect x="180.60" y="577.60" width="1.55" height="12.65" fill="#f3851a"/>
<rect x="180.60" y="590.20" width="1.55" height="12.65" fill="#f47a1a"/>
<rect x="180.60" y="602.80" width="1.55" height="12.65" fill="#ee701c"/>
<rect x="180.60" y="615.40" width="1.55" height="12.65" fill="#9a1e69"/>
<rect x="180.60" y="628.00" width="1.55" height="12.65" fill="#a5236e"/>
<rect x="180.60" y="640.60" width="1.55" height="12.65" fill="#771f6f"/>
<rect x="182.10" y="577.60" width="1.05" height="12.65" fill="#f9891b"/>
<rect x="182.10" y="590.20" width="1.05" height="12.65" fill="#ef771a"/>
<rect x="182.10" y="602.80" width="1.05" height="12.65" fill="#e76c1b"/>
<rect x="182.10" y="615.40" width="1.05" height="12.65" fill="#9f1f6d"/>
<rect x="182.10" y="628.00" width="1.05" height="12.65" fill="#a2226c"/>
<rect x="182.10" y="640.60" width="1.05" height="12.65" fill="#7f2176"/>
<rect x="183.10" y="577.60" width="1.55" height="12.65" fill="#e98019"/>
<rect x="183.10" y="590.20" width="1.55" height="12.65" fill="#e27118"/>
<rect x="183.10" y="602.80" width="1.55" height="12.65" fill="#e46b1b"/>
<rect x="183.10" y="615.40" width="1.55" height="12.65" fill="#9d1f6c"/>
<rect x="183.10" y="628.00" width="1.55" height="12.65" fill="#ae2574"/>
<rect x="183.10" y="640.60" width="1.55" height="12.65" fill="#7e2176"/>
<rect x="184.60" y="577.60" width="1.05" height="12.65" fill="#ea8119"/>
<rect x="184.60" y="590.20" width="1.05" height="12.65" fill="#ec761a"/>
<rect x="184.60" y="602.80" width="1.05" height="12.65" fill="#ef701c"/>
<rect x="184.60" y="615.40" width="1.05" height="12.65" fill="#a32070"/>
<rect x="184.60" y="628.00" width="1.05" height="12.65" fill="#a7236f"/>
<rect x="184.60" y="640.60" width="1.05" height="12.65" fill="#751e6d"/>
<rect x="185.60" y="577.60" width="1.05" height="12.65" fill="#f5871a"/>
<rect x="185.60" y="590.20" width="1.05" height="12.65" fill="#f57a1b"/>
<rect x="185.60" y="602.80" width="1.05" height="12.65" fill="#ed6f1c"/>
<rect x="185.60" y="615.40" width="1.05" height="12.65" fill="#9d1f6c"/>
<rect x="185.60" y="628.00" width="1.05" height="12.65" fill="#a92470"/>
<rect x="185.60" y="640.60" width="1.05" height="12.65" fill="#7c2074"/>
<rect x="186.60" y="577.60" width="1.05" height="12.65" fill="#ef8319"/>
<rect x="186.60" y="590.20" width="1.05" height="12.65" fill="#e97419"/>
<rect x="186.60" y="602.80" width="1.05" height="12.65" fill="#e76c1b"/>
<rect x="186.60" y="615.40" width="1.05" height="12.65" fill="#9e1f6c"/>
<rect x="186.60" y="628.00" width="1.05" height="12.65" fill="#a6236e"/>
<rect x="186.60" y="640.60" width="1.05" height="12.65" fill="#791f71"/>
<rect x="187.60" y="577.60" width="1.05" height="12.65" fill="#f8881a"/>
<rect x="187.60" y="590.20" width="1.05" height="12.65" fill="#f47a1a"/>
<rect x="187.60" y="602.80" width="1.05" height="12.65" fill="#e96d1b"/>
<rect x="187.60" y="615.40" width="1.05" height="12.65" fill="#a52172"/>
<rect x="187.60" y="628.00" width="1.05" height="12.65" fill="#ac2473"/>
<rect x="187.60" y="640.60" width="1.05" height="12.65" fill="#761f6e"/>
<rect x="188.60" y="577.60" width="1.05" height="12.65" fill="#e67e19"/>
<rect x="188.60" y="590.20" width="1.05" height="12.65" fill="#ee771a"/>
<rect x="188.60" y="602.80" width="1.05" height="12.65" fill="#e76c1b"/>
<rect x="188.60" y="615.40" width="1.05" height="12.65" fill="#a32070"/>
<rect x="188.60" y="628.00" width="1.05" height="12.65" fill="#ac2472"/>
<rect x="188.60" y="640.60" width="1.05" height="12.65" fill="#7f2176"/>
<rect x="189.60" y="577.60" width="1.05" height="12.65" fill="#f7881a"/>
<rect x="189.60" y="590.20" width="1.05" height="12.65" fill="#ee771a"/>
<rect x="189.60" y="602.80" width="1.05" height="12.65" fill="#e86d1b"/>
<rect x="189.60" y="615.40" width="1.05" height="12.65" fill="#9d1f6c"/>
<rect x="189.60" y="628.00" width="1.05" height="12.65" fill="#ac2573"/>
<rect x="189.60" y="640.60" width="1.05" height="12.65" fill="#791f71"/>
<rect x="190.60" y="577.60" width="1.55" height="12.65" fill="#ed8219"/>
<rect x="190.60" y="590.20" width="1.55" height="12.65" fill="#e87419"/>
<rect x="190.60" y="602.80" width="1.55" height="12.65" fill="#ee701c"/>
<rect x="190.60" y="615.40" width="1.55" height="12.65" fill="#9b1f6a"/>
<rect x="190.60" y="628.00" width="1.55" height="12.65" fill="#a7236f"/>
<rect x="190.60" y="640.60" width="1.55" height="12.65" fill="#7e2175"/>
<rect x="192.10" y="577.60" width="1.05" height="12.65" fill="#f8881a"/>
<rect x="192.10" y="590.20" width="1.05" height="12.65" fill="#e77319"/>
<rect x="192.10" y="602.80" width="1.05" height="12.65" fill="#e86d1b"/>
<rect x="192.10" y="615.40" width="1.05" height="12.65" fill="#9b1f6a"/>
<rect x="192.10" y="628.00" width="1.05" height="12.65" fill="#a4236d"/>
<rect x="192.10" y="640.60" width="1.05" height="12.65" fill="#7d2075"/>
<rect x="193.10" y="577.60" width="1.05" height="12.65" fill="#f6871a"/>
<rect x="193.10" y="590.20" width="1.05" height="12.65" fill="#e67319"/>
<rect x="193.10" y="602.80" width="1.05" height="12.65" fill="#e16a1b"/>
<rect x="193.10" y="615.40" width="1.05" height="12.65" fill="#9f1f6d"/>
<rect x="193.10" y="628.00" width="1.05" height="12.65" fill="#a7236f"/>
<rect x="193.10" y="640.60" width="1.05" height="12.65" fill="#761f6e"/>
<rect x="194.10" y="577.60" width="1.55" height="12.65" fill="#e67e18"/>
<rect x="194.10" y="590.20" width="1.55" height="12.65" fill="#f47a1a"/>
<rect x="194.10" y="602.80" width="1.55" height="12.65" fill="#ed6f1c"/>
<rect x="194.10" y="615.40" width="1.55" height="12.65" fill="#9b1f6b"/>
<rect x="194.10" y="628.00" width="1.55" height="12.65" fill="#a7236f"/>
<rect x="194.10" y="640.60" width="1.55" height="12.65" fill="#771f6f"/>
<rect x="195.60" y="577.60" width="1.05" height="12.65" fill="#f5871a"/>
<rect x="195.60" y="590.20" width="1.05" height="12.65" fill="#f57a1b"/>
<rect x="195.60" y="602.80" width="1.05" height="12.65" fill="#e86d1b"/>
<rect x="195.60" y="615.40" width="1.05" height="12.65" fill="#9c1f6b"/>
<rect x="195.60" y="628.00" width="1.05" height="12.65" fill="#a4236d"/>
<rect x="195.60" y="640.60" width="1.05" height="12.65" fill="#771f6f"/>
<rect x="196.60" y="577.60" width="1.05" height="12.65" fill="#eb8119"/>
<rect x="196.60" y="590.20" width="1.05" height="12.65" fill="#f47a1a"/>
<rect x="196.60" y="602.80" width="1.05" height="12.65" fill="#e0691a"/>
<rect x="196.60" y="615.40" width="1.05" height="12.65" fill="#a32070"/>
<rect x="196.60" y="628.00" width="1.05" height="12.65" fill="#a4236d"/>
<rect x="196.60" y="640.60" width="1.05" height="12.65" fill="#7f2176"/>
<rect x="197.60" y="577.60" width="1.05" height="12.65" fill="#ee8319"/>
<rect x="197.60" y="590.20" width="1.05" height="12.65" fill="#ec761a"/>
<rect x="197.60" y="602.80" width="1.05" height="12.65" fill="#ea6e1c"/>
<rect x="197.60" y="615.40" width="1.05" height="12.65" fill="#9f1f6d"/>
<rect x="197.60" y="628.00" width="1.05" height="12.65" fill="#ac2472"/>
<rect x="197.60" y="640.60" width="1.05" height="12.65" fill="#7e2176"/>
<rect x="198.60" y="577.60" width="1.05" height="12.65" fill="#e98019"/>
<rect x="198.60" y="590.20" width="1.05" height="12.65" fill="#ea7519"/>
<rect x="198.60" y="602.80" width="1.05" height="12.65" fill="#f2721d"/>
<rect x="198.60" y="615.40" width="1.05" height="12.65" fill="#9b1f6b"/>
<rect x="198.60" y="628.00" width="1.05" height="12.65" fill="#a92470"/>
<rect x="198.60" y="640.60" width="1.05" height="12.65" fill="#761e6e"/>
<rect x="199.60" y="577.60" width="1.05" height="12.65" fill="#f0841a"/>
<rect x="199.60" y="590.20" width="1.05" height="12.65" fill="#e67319"/>
<rect x="199.60" y="602.80" width="1.05" height="12.65" fill="#e36a1b"/>
<rect x="199.60" y="615.40" width="1.05" height="12.65" fill="#a1206e"/>
<rect x="199.60" y="628.00" width="1.05" height="12.65" fill="#ac2573"/>
<rect x="199.60" y="640.60" width="1.05" height="12.65" fill="#7e2175"/>
<rect x="200.60" y="577.60" width="1.55" height="12.65" fill="#ef8319"/>
<rect x="200.60" y="590.20" width="1.55" height="12.65" fill="#e77319"/>
<rect x="200.60" y="602.80" width="1.55" height="12.65" fill="#e36b1b"/>
<rect x="200.60" y="615.40" width="1.55" height="12.65" fill="#a1206f"/>
<rect x="200.60" y="628.00" width="1.55" height="12.65" fill="#ab2472"/>
<rect x="200.60" y="640.60" width="1.55" height="12.65" fill="#7d2075"/>
<rect x="202.10" y="577.60" width="1.55" height="12.65" fill="#eb8119"/>
<rect x="202.10" y="590.20" width="1.55" height="12.65" fill="#e17018"/>
<rect x="202.10" y="602.80" width="1.55" height="12.65" fill="#ee6f1c"/>
<rect x="202.10" y="615.40" width="1.55" height="12.65" fill="#a0206e"/>
<rect x="202.10" y="628.00" width="1.55" height="12.65" fill="#ad2573"/>
<rect x="202.10" y="640.60" width="1.55" height="12.65" fill="#7e2176"/>
<rect x="203.60" y="577.60" width="1.55" height="12.65" fill="#f6871a"/>
<rect x="203.60" y="590.20" width="1.55" height="12.65" fill="#e87419"/>
<rect x="203.60" y="602.80" width="1.55" height="12.65" fill="#f1711c"/>
<rect x="203.60" y="615.40" width="1.55" height="12.65" fill="#a52171"/>
<rect x="203.60" y="628.00" width="1.55" height="12.65" fill="#a7236f"/>
<rect x="203.60" y="640.60" width="1.55" height="12.65" fill="#741e6d"/>
<rect x="205.10" y="577.60" width="1.05" height="12.65" fill="#e87f19"/>
<rect x="205.10" y="590.20" width="1.05" height="12.65" fill="#ef771a"/>
<rect x="205.10" y="602.80" width="1.05" height="12.65" fill="#e46b1b"/>
<rect x="205.10" y="615.40" width="1.05" height="12.65" fill="#a0206e"/>
<rect x="205.10" y="628.00" width="1.05" height="12.65" fill="#af2574"/>
<rect x="205.10" y="640.60" width="1.05" height="12.65" fill="#741e6d"/>
<rect x="206.10" y="577.60" width="1.55" height="12.65" fill="#ed8219"/>
<rect x="206.10" y="590.20" width="1.55" height="12.65" fill="#ee771a"/>
<rect x="206.10" y="602.80" width="1.55" height="12.65" fill="#df691a"/>
<rect x="206.10" y="615.40" width="1.55" height="12.65" fill="#a0206e"/>
<rect x="206.10" y="628.00" width="1.55" height="12.65" fill="#a7236f"/>
<rect x="206.10" y="640.60" width="1.55" height="12.65" fill="#7a2072"/>
<rect x="207.60" y="577.60" width="1.05" height="12.65" fill="#ec8219"/>
<rect x="207.60" y="590.20" width="1.05" height="12.65" fill="#e67319"/>
<rect x="207.60" y="602.80" width="1.05" height="12.65" fill="#f0711c"/>
<rect x="207.60" y="615.40" width="1.05" height="12.65" fill="#a52172"/>
<rect x="207.60" y="628.00" width="1.05" height="12.65" fill="#ac2472"/>
<rect x="207.60" y="640.60" width="1.05" height="12.65" fill="#7e2175"/>
<rect x="208.60" y="577.60" width="1.55" height="12.65" fill="#f5861a"/>
<rect x="208.60" y="590.20" width="1.55" height="12.65" fill="#e27118"/>
<rect x="208.60" y="602.80" width="1.55" height="12.65" fill="#f1711c"/>
<rect x="208.60" y="615.40" width="1.55" height="12.65" fill="#a62172"/>
<rect x="208.60" y="628.00" width="1.55" height="12.65" fill="#a7236f"/>
<rect x="208.60" y="640.60" width="1.55" height="12.65" fill="#7a2072"/>
<rect x="210.10" y="577.60" width="1.55" height="12.65" fill="#f6871a"/>
<rect x="210.10" y="590.20" width="1.55" height="12.65" fill="#e47219"/>
<rect x="210.10" y="602.80" width="1.55" height="12.65" fill="#e46b1b"/>
<rect x="210.10" y="615.40" width="1.55" height="12.65" fill="#9a1e69"/>
<rect x="210.10" y="628.00" width="1.55" height="12.65" fill="#a92471"/>
<rect x="210.10" y="640.60" width="1.55" height="12.65" fill="#761f6e"/>
<rect x="211.60" y="577.60" width="1.05" height="12.65" fill="#ea8119"/>
<rect x="211.60" y="590.20" width="1.05" height="12.65" fill="#f2791a"/>
<rect x="211.60" y="602.80" width="1.05" height="12.65" fill="#e0691a"/>
<rect x="211.60" y="615.40" width="1.05" height="12.65" fill="#9a1e6a"/>
<rect x="211.60" y="628.00" width="1.05" height="12.65" fill="#ab2472"/>
<rect x="211.60" y="640.60" width="1.05" height="12.65" fill="#761f6e"/>
<rect x="212.60" y="577.60" width="1.05" height="12.65" fill="#f7881a"/>
<rect x="212.60" y="590.20" width="1.05" height="12.65" fill="#ee771a"/>
<rect x="212.60" y="602.80" width="1.05" height="12.65" fill="#e96d1b"/>
<rect x="212.60" y="615.40" width="1.05" height="12.65" fill="#9c1f6b"/>
<rect x="212.60" y="628.00" width="1.05" height="12.65" fill="#a7236f"/>
<rect x="212.60" y="640.60" width="1.05" height="12.65" fill="#781f70"/>
<rect x="213.60" y="577.60" width="1.05" height="12.65" fill="#f4861a"/>
<rect x="213.60" y="590.20" width="1.05" height="12.65" fill="#e27118"/>
<rect x="213.60" y="602.80" width="1.05" height="12.65" fill="#e26a1b"/>
<rect x="213.60" y="615.40" width="1.05" height="12.65" fill="#9f1f6d"/>
<rect x="213.60" y="628.00" width="1.05" height="12.65" fill="#a82470"/>
<rect x="213.60" y="640.60" width="1.05" height="12.65" fill="#771f6f"/>
<rect x="214.60" y="577.60" width="1.05" height="12.65" fill="#e77f19"/>
<rect x="214.60" y="590.20" width="1.05" height="12.65" fill="#f47a1a"/>
<rect x="214.60" y="602.80" width="1.05" height="12.65" fill="#ea6e1c"/>
<rect x="214.60" y="615.40" width="1.05" height="12.65" fill="#9c1f6b"/>
<rect x="214.60" y="628.00" width="1.05" height="12.65" fill="#a3236d"/>
<rect x="214.60" y="640.60" width="1.05" height="12.65" fill="#7b2073"/>
<rect x="215.60" y="577.60" width="1.05" height="12.65" fill="#f5861a"/>
<rect x="215.60" y="590.20" width="1.05" height="12.65" fill="#e47219"/>
<rect x="215.60" y="602.80" width="1.05" height="12.65" fill="#f0711c"/>
<rect x="215.60" y="615.40" width="1.05" height="12.65" fill="#a62172"/>
<rect x="215.60" y="628.00" width="1.05" height="12.65" fill="#a6236e"/>
<rect x="215.60" y="640.60" width="1.05" height="12.65" fill="#791f71"/>
<rect x="216.60" y="577.60" width="1.55" height="12.65" fill="#f0841a"/>
<rect x="216.60" y="590.20" width="1.55" height="12.65" fill="#e97419"/>
<rect x="216.60" y="602.80" width="1.55" height="12.65" fill="#f3721d"/>
<rect x="216.60" y="615.40" width="1.55" height="12.65" fill="#a32070"/>
<rect x="216.60" y="628.00" width="1.55" height="12.65" fill="#a5236e"/>
<rect x="216.60" y="640.60" width="1.55" height="12.65" fill="#771f6f"/>
<rect x="218.10" y="577.60" width="1.05" height="12.65" fill="#f4861a"/>
<rect x="218.10" y="590.20" width="1.05" height="12.65" fill="#f3791a"/>
<rect x="218.10" y="602.80" width="1.05" height="12.65" fill="#eb6e1c"/>
<rect x="218.10" y="615.40" width="1.05" height="12.65" fill="#a62172"/>
<rect x="218.10" y="628.00" width="1.05" height="12.65" fill="#a5236e"/>
<rect x="218.10" y="640.60" width="1.05" height="12.65" fill="#781f70"/>
<rect x="219.10" y="577.60" width="1.55" height="12.65" fill="#e67e18"/>
<rect x="219.10" y="590.20" width="1.55" height="12.65" fill="#ec761a"/>
<rect x="219.10" y="602.80" width="1.55" height="12.65" fill="#f3721d"/>
<rect x="219.10" y="615.40" width="1.55" height="12.65" fill="#a62172"/>
<rect x="219.10" y="628.00" width="1.55" height="12.65" fill="#a4236d"/>
<rect x="219.10" y="640.60" width="1.55" height="12.65" fill="#791f71"/>
<rect x="220.60" y="577.60" width="1.55" height="12.65" fill="#e57e18"/>
<rect x="220.60" y="590.20" width="1.55" height="12.65" fill="#e37119"/>
<rect x="220.60" y="602.80" width="1.55" height="12.65" fill="#e36a1b"/>
<rect x="220.60" y="615.40" width="1.55" height="12.65" fill="#9d1f6c"/>
<rect x="220.60" y="628.00" width="1.55" height="12.65" fill="#a3236c"/>
<rect x="220.60" y="640.60" width="1.55" height="12.65" fill="#7b2073"/>
<rect x="222.10" y="577.60" width="1.05" height="12.65" fill="#e87f19"/>
<rect x="222.10" y="590.20" width="1.05" height="12.65" fill="#f57a1b"/>
<rect x="222.10" y="602.80" width="1.05" height="12.65" fill="#ef701c"/>
<rect x="222.10" y="615.40" width="1.05" height="12.65" fill="#a62172"/>
<rect x="222.10" y="628.00" width="1.05" height="12.65" fill="#aa2471"/>
<rect x="222.10" y="640.60" width="1.05" height="12.65" fill="#7d2075"/>
<rect x="223.10" y="577.60" width="1.05" height="12.65" fill="#e57e18"/>
<rect x="223.10" y="590.20" width="1.05" height="12.65" fill="#ef771a"/>
<rect x="223.10" y="602.80" width="1.05" height="12.65" fill="#e56b1b"/>
<rect x="223.10" y="615.40" width="1.05" height="12.65" fill="#a2206f"/>
<rect x="223.10" y="628.00" width="1.05" height="12.65" fill="#a4236d"/>
<rect x="223.10" y="640.60" width="1.05" height="12.65" fill="#7a2072"/>
<rect x="224.10" y="577.60" width="1.05" height="12.65" fill="#f2851a"/>
<rect x="224.10" y="590.20" width="1.05" height="12.65" fill="#e67319"/>
<rect x="224.10" y="602.80" width="1.05" height="12.65" fill="#ea6e1c"/>
<rect x="224.10" y="615.40" width="1.05" height="12.65" fill="#9f1f6d"/>
<rect x="224.10" y="628.00" width="1.05" height="12.65" fill="#ae2574"/>
<rect x="224.10" y="640.60" width="1.05" height="12.65" fill="#771f6f"/>
<rect x="225.10" y="577.60" width="1.05" height="12.65" fill="#ec8219"/>
<rect x="225.10" y="590.20" width="1.05" height="12.65" fill="#e47219"/>
<rect x="225.10" y="602.80" width="1.05" height="12.65" fill="#e0691a"/>
<rect x="225.10" y="615.40" width="1.05" height="12.65" fill="#a62172"/>
<rect x="225.10" y="628.00" width="1.05" height="12.65" fill="#ae2574"/>
<rect x="225.10" y="640.60" width="1.05" height="12.65" fill="#7e2176"/>
<rect x="226.10" y="577.60" width="1.05" height="12.65" fill="#ef8319"/>
<rect x="226.10" y="590.20" width="1.05" height="12.65" fill="#ec761a"/>
<rect x="226.10" y="602.80" width="1.05" height="12.65" fill="#e26a1b"/>
<rect x="226.10" y="615.40" width="1.05" height="12.65" fill="#9a1e6a"/>
<rect x="226.10" y="628.00" width="1.05" height="12.65" fill="#a2226c"/>
<rect x="226.10" y="640.60" width="1.05" height="12.65" fill="#771f6f"/>
<rect x="227.10" y="577.60" width="1.05" height="12.65" fill="#f1841a"/>
<rect x="227.10" y="590.20" width="1.05" height="12.65" fill="#e77319"/>
<rect x="227.10" y="602.80" width="1.05" height="12.65" fill="#ee701c"/>
<rect x="227.10" y="615.40" width="1.05" height="12.65" fill="#a32070"/>
<rect x="227.10" y="628.00" width="1.05" height="12.65" fill="#a4236d"/>
<rect x="227.10" y="640.60" width="1.05" height="12.65" fill="#791f71"/>
<rect x="228.10" y="577.60" width="1.55" height="12.65" fill="#f1841a"/>
<rect x="228.10" y="590.20" width="1.55" height="12.65" fill="#ef771a"/>
<rect x="228.10" y="602.80" width="1.55" height="12.65" fill="#e36b1b"/>
<rect x="228.10" y="615.40" width="1.55" height="12.65" fill="#a32070"/>
<rect x="228.10" y="628.00" width="1.55" height="12.65" fill="#a7236f"/>
<rect x="228.10" y="640.60" width="1.55" height="12.65" fill="#7a2072"/>
<rect x="229.60" y="577.60" width="1.55" height="12.65" fill="#ef8319"/>
<rect x="229.60" y="590.20" width="1.55" height="12.65" fill="#f2791a"/>
<rect x="229.60" y="602.80" width="1.55" height="12.65" fill="#e0691a"/>
<rect x="229.60" y="615.40" width="1.55" height="12.65" fill="#9d1f6c"/>
<rect x="229.60" y="628.00" width="1.55" height="12.65" fill="#a3226c"/>
<rect x="229.60" y="640.60" width="1.55" height="12.65" fill="#7a2072"/>
<rect x="231.10" y="577.60" width="1.55" height="12.65" fill="#ed8219"/>
<rect x="231.10" y="590.20" width="1.55" height="12.65" fill="#f57a1a"/>
<rect x="231.10" y="602.80" width="1.55" height="12.65" fill="#e26a1b"/>
<rect x="231.10" y="615.40" width="1.55" height="12.65" fill="#a62172"/>
<rect x="231.10" y="628.00" width="1.55" height="12.65" fill="#a5236e"/>
<rect x="231.10" y="640.60" width="1.55" height="12.65" fill="#781f70"/>
<rect x="232.60" y="577.60" width="1.05" height="12.65" fill="#eb8119"/>
<rect x="232.60" y="590.20" width="1.05" height="12.65" fill="#f67b1b"/>
<rect x="232.60" y="602.80" width="1.05" height="12.65" fill="#e56b1b"/>
<rect x="232.60" y="615.40" width="1.05" height="12.65" fill="#a32070"/>
<rect x="232.60" y="628.00" width="1.05" height="12.65" fill="#a2226c"/>
<rect x="232.60" y="640.60" width="1.05" height="12.65" fill="#751e6d"/>
<rect x="233.60" y="577.60" width="1.05" height="12.65" fill="#ee8319"/>
<rect x="233.60" y="590.20" width="1.05" height="12.65" fill="#e27118"/>
<rect x="233.60" y="602.80" width="1.05" height="12.65" fill="#e76c1b"/>
<rect x="233.60" y="615.40" width="1.05" height="12.65" fill="#9f1f6d"/>
<rect x="233.60" y="628.00" width="1.05" height="12.65" fill="#ab2472"/>
<rect x="233.60" y="640.60" width="1.05" height="12.65" fill="#751e6d"/>
<rect x="234.60" y="577.60" width="1.05" height="12.65" fill="#fa891b"/>
<rect x="234.60" y="590.20" width="1.05" height="12.65" fill="#ef771a"/>
<rect x="234.60" y="602.80" width="1.05" height="12.65" fill="#f3721d"/>
<rect x="234.60" y="615.40" width="1.05" height="12.65" fill="#9e1f6d"/>
<rect x="234.60" y="628.00" width="1.05" height="12.65" fill="#aa2471"/>
<rect x="234.60" y="640.60" width="1.05" height="12.65" fill="#761e6e"/>
<rect x="235.60" y="577.60" width="1.05" height="12.65" fill="#f2851a"/>
<rect x="235.60" y="590.20" width="1.05" height="12.65" fill="#f3791a"/>
<rect x="235.60" y="602.80" width="1.05" height="12.65" fill="#f0711c"/>
<rect x="235.60" y="615.40" width="1.05" height="12.65" fill="#a0206e"/>
<rect x="235.60" y="628.00" width="1.05" height="12.65" fill="#ab2472"/>
<rect x="235.60" y="640.60" width="1.05" height="12.65" fill="#7c2074"/>
<rect x="236.60" y="577.60" width="1.05" height="12.65" fill="#eb8119"/>
<rect x="236.60" y="590.20" width="1.05" height="12.65" fill="#ee771a"/>
<rect x="236.60" y="602.80" width="1.05" height="12.65" fill="#ec6f1c"/>
<rect x="236.60" y="615.40" width="1.05" height="12.65" fill="#a22070"/>
<rect x="236.60" y="628.00" width="1.05" height="12.65" fill="#a6236f"/>
<rect x="236.60" y="640.60" width="1.05" height="12.65" fill="#751e6d"/>
<rect x="237.60" y="577.60" width="1.05" height="12.65" fill="#f5871a"/>
<rect x="237.60" y="590.20" width="1.05" height="12.65" fill="#ed761a"/>
<rect x="237.60" y="602.80" width="1.05" height="12.65" fill="#e96d1b"/>
<rect x="237.60" y="615.40" width="1.05" height="12.65" fill="#a62172"/>
<rect x="237.60" y="628.00" width="1.05" height="12.65" fill="#a92470"/>
<rect x="237.60" y="640.60" width="1.05" height="12.65" fill="#791f71"/>
<rect x="238.60" y="577.60" width="1.05" height="12.65" fill="#f8881a"/>
<rect x="238.60" y="590.20" width="1.05" height="12.65" fill="#ee771a"/>
<rect x="238.60" y="602.80" width="1.05" height="12.65" fill="#e76c1b"/>
<rect x="238.60" y="615.40" width="1.05" height="12.65" fill="#9f1f6d"/>
<rect x="238.60" y="628.00" width="1.05" height="12.65" fill="#a7236f"/>
<rect x="238.60" y="640.60" width="1.05" height="12.65" fill="#7c2074"/>
<rect x="239.60" y="577.60" width="1.05" height="12.65" fill="#ec8219"/>
<rect x="239.60" y="590.20" width="1.05" height="12.65" fill="#ec761a"/>
<rect x="239.60" y="602.80" width="1.05" height="12.65" fill="#ec6e1c"/>
<rect x="239.60" y="615.40" width="1.05" height="12.65" fill="#a2206f"/>
<rect x="239.60" y="628.00" width="1.05" height="12.65" fill="#a0226b"/>
<rect x="239.60" y="640.60" width="1.05" height="12.65" fill="#7c2074"/>
<rect x="240.60" y="577.60" width="1.05" height="12.65" fill="#ed8219"/>
<rect x="240.60" y="590.20" width="1.05" height="12.65" fill="#e77319"/>
<rect x="240.60" y="602.80" width="1.05" height="12.65" fill="#ea6e1c"/>
<rect x="240.60" y="615.40" width="1.05" height="12.65" fill="#a42070"/>
<rect x="240.60" y="628.00" width="1.05" height="12.65" fill="#a7236f"/>
<rect x="240.60" y="640.60" width="1.05" height="12.65" fill="#781f70"/>
<rect x="241.60" y="577.60" width="1.05" height="12.65" fill="#e77f19"/>
<rect x="241.60" y="590.20" width="1.05" height="12.65" fill="#f47a1a"/>
<rect x="241.60" y="602.80" width="1.05" height="12.65" fill="#e66c1b"/>
<rect x="241.60" y="615.40" width="1.05" height="12.65" fill="#a42071"/>
<rect x="241.60" y="628.00" width="1.05" height="12.65" fill="#ad2573"/>
<rect x="241.60" y="640.60" width="1.05" height="12.65" fill="#7f2176"/>
<rect x="242.60" y="577.60" width="1.05" height="12.65" fill="#fa891b"/>
<rect x="242.60" y="590.20" width="1.05" height="12.65" fill="#f47a1a"/>
<rect x="242.60" y="602.80" width="1.05" height="12.65" fill="#f3721d"/>
<rect x="242.60" y="615.40" width="1.05" height="12.65" fill="#991e69"/>
<rect x="242.60" y="628.00" width="1.05" height="12.65" fill="#a4236d"/>
<rect x="242.60" y="640.60" width="1.05" height="12.65" fill="#7e2176"/>
<rect x="243.60" y="577.60" width="1.05" height="12.65" fill="#f9881a"/>
<rect x="243.60" y="590.20" width="1.05" height="12.65" fill="#f1781a"/>
<rect x="243.60" y="602.80" width="1.05" height="12.65" fill="#ea6e1c"/>
<rect x="243.60" y="615.40" width="1.05" height="12.65" fill="#a72172"/>
<rect x="243.60" y="628.00" width="1.05" height="12.65" fill="#a82470"/>
<rect x="243.60" y="640.60" width="1.05" height="12.65" fill="#7a2072"/>
<rect x="244.60" y="577.60" width="1.55" height="12.65" fill="#ee8319"/>
<rect x="244.60" y="590.20" width="1.55" height="12.65" fill="#eb7519"/>
<rect x="244.60" y="602.80" width="1.55" height="12.65" fill="#e0691a"/>
<rect x="244.60" y="615.40" width="1.55" height="12.65" fill="#a2206f"/>
<rect x="244.60" y="628.00" width="1.55" height="12.65" fill="#a7236f"/>
<rect x="244.60" y="640.60" width="1.55" height="12.65" fill="#741e6c"/>
<rect x="246.10" y="577.60" width="1.05" height="12.65" fill="#f0841a"/>
<rect x="246.10" y="590.20" width="1.05" height="12.65" fill="#e37119"/>
<rect x="246.10" y="602.80" width="1.05" height="12.65" fill="#e76c1b"/>
<rect x="246.10" y="615.40" width="1.05" height="12.65" fill="#9e1f6d"/>
<rect x="246.10" y="628.00" width="1.05" height="12.65" fill="#a82470"/>
<rect x="246.10" y="640.60" width="1.05" height="12.65" fill="#7a2072"/>
<rect x="247.10" y="577.60" width="1.05" height="12.65" fill="#fa891b"/>
<rect x="247.10" y="590.20" width="1.05" height="12.65" fill="#eb7519"/>
<rect x="247.10" y="602.80" width="1.05" height="12.65" fill="#e86d1b"/>
<rect x="247.10" y="615.40" width="1.05" height="12.65" fill="#a1206f"/>
<rect x="247.10" y="628.00" width="1.05" height="12.65" fill="#af2575"/>
<rect x="247.10" y="640.60" width="1.05" height="12.65" fill="#781f70"/>
<rect x="248.10" y="577.60" width="1.55" height="12.65" fill="#f5861a"/>
<rect x="248.10" y="590.20" width="1.55" height="12.65" fill="#e37119"/>
<rect x="248.10" y="602.80" width="1.55" height="12.65" fill="#e76c1b"/>
<rect x="248.10" y="615.40" width="1.55" height="12.65" fill="#9e1f6c"/>
<rect x="248.10" y="628.00" width="1.55" height="12.65" fill="#a1226b"/>
<rect x="248.10" y="640.60" width="1.55" height="12.65" fill="#771f70"/>
<rect x="249.60" y="577.60" width="1.05" height="12.65" fill="#e77f19"/>
<rect x="249.60" y="590.20" width="1.05" height="12.65" fill="#f47a1a"/>
<rect x="249.60" y="602.80" width="1.05" height="12.65" fill="#ed6f1c"/>
<rect x="249.60" y="615.40" width="1.05" height="12.65" fill="#a42071"/>
<rect x="249.60" y="628.00" width="1.05" height="12.65" fill="#af2574"/>
<rect x="249.60" y="640.60" width="1.05" height="12.65" fill="#7e2175"/>
<rect x="250.60" y="577.60" width="1.05" height="12.65" fill="#f2851a"/>
<rect x="250.60" y="590.20" width="1.05" height="12.65" fill="#ec761a"/>
<rect x="250.60" y="602.80" width="1.05" height="12.65" fill="#f0711c"/>
<rect x="250.60" y="615.40" width="1.05" height="12.65" fill="#9b1f6b"/>
<rect x="250.60" y="628.00" width="1.05" height="12.65" fill="#ad2573"/>
<rect x="250.60" y="640.60" width="1.05" height="12.65" fill="#791f71"/>
<rect x="251.60" y="577.60" width="1.05" height="12.65" fill="#f2851a"/>
<rect x="251.60" y="590.20" width="1.05" height="12.65" fill="#ee771a"/>
<rect x="251.60" y="602.80" width="1.05" height="12.65" fill="#e66c1b"/>
<rect x="251.60" y="615.40" width="1.05" height="12.65" fill="#a72172"/>
<rect x="251.60" y="628.00" width="1.05" height="12.65" fill="#aa2471"/>
<rect x="251.60" y="640.60" width="1.05" height="12.65" fill="#741e6d"/>
<rect x="252.60" y="577.60" width="1.05" height="12.65" fill="#e57e18"/>
<rect x="252.60" y="590.20" width="1.05" height="12.65" fill="#e17018"/>
<rect x="252.60" y="602.80" width="1.05" height="12.65" fill="#ee701c"/>
<rect x="252.60" y="615.40" width="1.05" height="12.65" fill="#a0206e"/>
<rect x="252.60" y="628.00" width="1.05" height="12.65" fill="#ae2574"/>
<rect x="252.60" y="640.60" width="1.05" height="12.65" fill="#781f70"/>
<rect x="253.60" y="577.60" width="1.05" height="12.65" fill="#f1851a"/>
<rect x="253.60" y="590.20" width="1.05" height="12.65" fill="#ef771a"/>
<rect x="253.60" y="602.80" width="1.05" height="12.65" fill="#e36a1b"/>
<rect x="253.60" y="615.40" width="1.05" height="12.65" fill="#9f1f6d"/>
<rect x="253.60" y="628.00" width="1.05" height="12.65" fill="#a82470"/>
<rect x="253.60" y="640.60" width="1.05" height="12.65" fill="#771f6f"/>
<rect x="254.60" y="577.60" width="0.45" height="12.65" fill="#f8881a"/>
<rect x="254.60" y="590.20" width="0.45" height="12.65" fill="#ec761a"/>
<rect x="254.60" y="602.80" width="0.45" height="12.65" fill="#e26a1b"/>
<rect x="254.60" y="615.40" width="0.45" height="12.65" fill="#9b1f6b"/>
<rect x="254.60" y="628.00" width="0.45" height="12.65" fill="#a92471"/>
<rect x="254.60" y="640.60" width="0.45" height="12.65" fill="#761e6e"/>
<rect x="255.00" y="577.60" width="1.55" height="12.65" fill="#ef5e22"/>
<rect x="255.00" y="590.20" width="1.55" height="12.65" fill="#d8432a"/>
<rect x="255.00" y="602.80" width="1.55" height="12.65" fill="#d94926"/>
<rect x="255.00" y="615.40" width="1.55" height="12.65" fill="#5f1b74"/>
<rect x="255.00" y="628.00" width="1.55" height="12.65" fill="#7e1e7a"/>
<rect x="255.00" y="640.60" width="1.55" height="12.65" fill="#621c77"/>
<rect x="256.50" y="577.60" width="1.55" height="12.65" fill="#e85b21"/>
<rect x="256.50" y="590.20" width="1.55" height="12.65" fill="#e6472d"/>
<rect x="256.50" y="602.80" width="1.55" height="12.65" fill="#e54d28"/>
<rect x="256.50" y="615.40" width="1.55" height="12.65" fill="#631c79"/>
<rect x="256.50" y="628.00" width="1.55" height="12.65" fill="#7e1e7a"/>
<rect x="256.50" y="640.60" width="1.55" height="12.65" fill="#5c1b70"/>
<rect x="258.00" y="577.60" width="1.05" height="12.65" fill="#e65a21"/>
<rect x="258.00" y="590.20" width="1.05" height="12.65" fill="#d9432a"/>
<rect x="258.00" y="602.80" width="1.05" height="12.65" fill="#dd4a27"/>
<rect x="258.00" y="615.40" width="1.05" height="12.65" fill="#5e1a73"/>
<rect x="258.00" y="628.00" width="1.05" height="12.65" fill="#821f7e"/>
<rect x="258.00" y="640.60" width="1.05" height="12.65" fill="#601c74"/>
<rect x="259.00" y="577.60" width="1.05" height="12.65" fill="#e35921"/>
<rect x="259.00" y="590.20" width="1.05" height="12.65" fill="#e2462c"/>
<rect x="259.00" y="602.80" width="1.05" height="12.65" fill="#d84826"/>
<rect x="259.00" y="615.40" width="1.05" height="12.65" fill="#5f1b74"/>
<rect x="259.00" y="628.00" width="1.05" height="12.65" fill="#7c1d78"/>
<rect x="259.00" y="640.60" width="1.05" height="12.65" fill="#621c76"/>
<rect x="260.00" y="577.60" width="1.05" height="12.65" fill="#e85b21"/>
<rect x="260.00" y="590.20" width="1.05" height="12.65" fill="#e2462c"/>
<rect x="260.00" y="602.80" width="1.05" height="12.65" fill="#dc4a27"/>
<rect x="260.00" y="615.40" width="1.05" height="12.65" fill="#5d1a73"/>
<rect x="260.00" y="628.00" width="1.05" height="12.65" fill="#821f7e"/>
<rect x="260.00" y="640.60" width="1.05" height="12.65" fill="#631c77"/>
<rect x="261.00" y="577.60" width="1.05" height="12.65" fill="#df5720"/>
<rect x="261.00" y="590.20" width="1.05" height="12.65" fill="#e7482d"/>
<rect x="261.00" y="602.80" width="1.05" height="12.65" fill="#e14b27"/>
<rect x="261.00" y="615.40" width="1.05" height="12.65" fill="#611b77"/>
<rect x="261.00" y="628.00" width="1.05" height="12.65" fill="#7b1d77"/>
<rect x="261.00" y="640.60" width="1.05" height="12.65" fill="#631c78"/>
<rect x="262.00" y="577.60" width="1.05" height="12.65" fill="#e45921"/>
<rect x="262.00" y="590.20" width="1.05" height="12.65" fill="#dd452b"/>
<rect x="262.00" y="602.80" width="1.05" height="12.65" fill="#e64d28"/>
<rect x="262.00" y="615.40" width="1.05" height="12.65" fill="#5f1b74"/>
<rect x="262.00" y="628.00" width="1.05" height="12.65" fill="#7b1d77"/>
<rect x="262.00" y="640.60" width="1.05" height="12.65" fill="#631c77"/>
<rect x="263.00" y="577.60" width="1.05" height="12.65" fill="#df5820"/>
<rect x="263.00" y="590.20" width="1.05" height="12.65" fill="#e7482d"/>
<rect x="263.00" y="602.80" width="1.05" height="12.65" fill="#d94926"/>
<rect x="263.00" y="615.40" width="1.05" height="12.65" fill="#5f1b74"/>
<rect x="263.00" y="628.00" width="1.05" height="12.65" fill="#7c1d78"/>
<rect x="263.00" y="640.60" width="1.05" height="12.65" fill="#5b1a6e"/>
<rect x="264.00" y="577.60" width="1.05" height="12.65" fill="#e75b21"/>
<rect x="264.00" y="590.20" width="1.05" height="12.65" fill="#dd452b"/>
<rect x="264.00" y="602.80" width="1.05" height="12.65" fill="#de4a27"/>
<rect x="264.00" y="615.40" width="1.05" height="12.65" fill="#651c7c"/>
<rect x="264.00" y="628.00" width="1.05" height="12.65" fill="#7c1d78"/>
<rect x="264.00" y="640.60" width="1.05" height="12.65" fill="#611c75"/>
<rect x="265.00" y="577.60" width="1.05" height="12.65" fill="#e85b21"/>
<rect x="265.00" y="590.20" width="1.05" height="12.65" fill="#e8482d"/>
<rect x="265.00" y="602.80" width="1.05" height="12.65" fill="#e34c28"/>
<rect x="265.00" y="615.40" width="1.05" height="12.65" fill="#611b76"/>
<rect x="265.00" y="628.00" width="1.05" height="12.65" fill="#7d1d79"/>
<rect x="265.00" y="640.60" width="1.05" height="12.65" fill="#5e1b72"/>
<rect x="266.00" y="577.60" width="1.05" height="12.65" fill="#e05820"/>
<rect x="266.00" y="590.20" width="1.05" height="12.65" fill="#e3472c"/>
<rect x="266.00" y="602.80" width="1.05" height="12.65" fill="#de4a27"/>
<rect x="266.00" y="615.40" width="1.05" height="12.65" fill="#5e1b74"/>
<rect x="266.00" y="628.00" width="1.05" height="12.65" fill="#801e7c"/>
<rect x="266.00" y="640.60" width="1.05" height="12.65" fill="#5c1a6f"/>
<rect x="267.00" y="577.60" width="1.05" height="12.65" fill="#ea5c22"/>
<rect x="267.00" y="590.20" width="1.05" height="12.65" fill="#e5472d"/>
<rect x="267.00" y="602.80" width="1.05" height="12.65" fill="#e34c28"/>
<rect x="267.00" y="615.40" width="1.05" height="12.65" fill="#611b77"/>
<rect x="267.00" y="628.00" width="1.05" height="12.65" fill="#811e7d"/>
<rect x="267.00" y="640.60" width="1.05" height="12.65" fill="#5d1b71"/>
<rect x="268.00" y="577.60" width="1.05" height="12.65" fill="#e65a21"/>
<rect x="268.00" y="590.20" width="1.05" height="12.65" fill="#e4472c"/>
<rect x="268.00" y="602.80" width="1.05" height="12.65" fill="#df4b27"/>
<rect x="268.00" y="615.40" width="1.05" height="12.65" fill="#661d7c"/>
<rect x="268.00" y="628.00" width="1.05" height="12.65" fill="#7a1d76"/>
<rect x="268.00" y="640.60" width="1.05" height="12.65" fill="#631d78"/>
<rect x="269.00" y="577.60" width="1.55" height="12.65" fill="#e35921"/>
<rect x="269.00" y="590.20" width="1.55" height="12.65" fill="#e7482d"/>
<rect x="269.00" y="602.80" width="1.55" height="12.65" fill="#e54d28"/>
<rect x="269.00" y="615.40" width="1.55" height="12.65" fill="#651d7c"/>
<rect x="269.00" y="628.00" width="1.55" height="12.65" fill="#831f7f"/>
<rect x="269.00" y="640.60" width="1.55" height="12.65" fill="#601c75"/>
<rect x="270.50" y="577.60" width="1.05" height="12.65" fill="#eb5c22"/>
<rect x="270.50" y="590.20" width="1.05" height="12.65" fill="#dd452b"/>
<rect x="270.50" y="602.80" width="1.05" height="12.65" fill="#dc4a27"/>
<rect x="270.50" y="615.40" width="1.05" height="12.65" fill="#621c79"/>
<rect x="270.50" y="628.00" width="1.05" height="12.65" fill="#7a1d76"/>
<rect x="270.50" y="640.60" width="1.05" height="12.65" fill="#631c77"/>
<rect x="271.50" y="577.60" width="1.05" height="12.65" fill="#ed5d22"/>
<rect x="271.50" y="590.20" width="1.05" height="12.65" fill="#d7432a"/>
<rect x="271.50" y="602.80" width="1.05" height="12.65" fill="#e94e29"/>
<rect x="271.50" y="615.40" width="1.05" height="12.65" fill="#641c7a"/>
<rect x="271.50" y="628.00" width="1.05" height="12.65" fill="#811e7c"/>
<rect x="271.50" y="640.60" width="1.05" height="12.65" fill="#5b1a6f"/>
<rect x="272.50" y="577.60" width="1.55" height="12.65" fill="#eb5c22"/>
<rect x="272.50" y="590.20" width="1.55" height="12.65" fill="#dc442b"/>
<rect x="272.50" y="602.80" width="1.55" height="12.65" fill="#df4b27"/>
<rect x="272.50" y="615.40" width="1.55" height="12.65" fill="#5e1a73"/>
<rect x="272.50" y="628.00" width="1.55" height="12.65" fill="#7a1d76"/>
<rect x="272.50" y="640.60" width="1.55" height="12.65" fill="#631c77"/>
<rect x="274.00" y="577.60" width="1.05" height="12.65" fill="#e35921"/>
<rect x="274.00" y="590.20" width="1.05" height="12.65" fill="#e7482d"/>
<rect x="274.00" y="602.80" width="1.05" height="12.65" fill="#d94926"/>
<rect x="274.00" y="615.40" width="1.05" height="12.65" fill="#651d7c"/>
<rect x="274.00" y="628.00" width="1.05" height="12.65" fill="#811e7d"/>
<rect x="274.00" y="640.60" width="1.05" height="12.65" fill="#621c76"/>
<rect x="275.00" y="577.60" width="1.05" height="12.65" fill="#e05820"/>
<rect x="275.00" y="590.20" width="1.05" height="12.65" fill="#dc442b"/>
<rect x="275.00" y="602.80" width="1.05" height="12.65" fill="#dc4a27"/>
<rect x="275.00" y="615.40" width="1.05" height="12.65" fill="#5e1b73"/>
<rect x="275.00" y="628.00" width="1.05" height="12.65" fill="#801e7c"/>
<rect x="275.00" y="640.60" width="1.05" height="12.65" fill="#5e1b71"/>
<rect x="276.00" y="577.60" width="1.05" height="12.65" fill="#f15e23"/>
<rect x="276.00" y="590.20" width="1.05" height="12.65" fill="#df452b"/>
<rect x="276.00" y="602.80" width="1.05" height="12.65" fill="#e44c28"/>
<rect x="276.00" y="615.40" width="1.05" height="12.65" fill="#631c79"/>
<rect x="276.00" y="628.00" width="1.05" height="12.65" fill="#821e7d"/>
<rect x="276.00" y="640.60" width="1.05" height="12.65" fill="#631d78"/>
<rect x="277.00" y="577.60" width="1.05" height="12.65" fill="#e05820"/>
<rect x="277.00" y="590.20" width="1.05" height="12.65" fill="#e3472c"/>
<rect x="277.00" y="602.80" width="1.05" height="12.65" fill="#e54d28"/>
<rect x="277.00" y="615.40" width="1.05" height="12.65" fill="#601b76"/>
<rect x="277.00" y="628.00" width="1.05" height="12.65" fill="#7d1d79"/>
<rect x="277.00" y="640.60" width="1.05" height="12.65" fill="#611c75"/>
<rect x="278.00" y="577.60" width="1.55" height="12.65" fill="#e95b21"/>
<rect x="278.00" y="590.20" width="1.55" height="12.65" fill="#ea492d"/>
<rect x="278.00" y="602.80" width="1.55" height="12.65" fill="#df4b27"/>
<rect x="278.00" y="615.40" width="1.55" height="12.65" fill="#651d7c"/>
<rect x="278.00" y="628.00" width="1.55" height="12.65" fill="#791c75"/>
<rect x="278.00" y="640.60" width="1.55" height="12.65" fill="#5e1b71"/>
<rect x="279.50" y="577.60" width="1.05" height="12.65" fill="#f25f23"/>
<rect x="279.50" y="590.20" width="1.05" height="12.65" fill="#e4472c"/>
<rect x="279.50" y="602.80" width="1.05" height="12.65" fill="#e64d28"/>
<rect x="279.50" y="615.40" width="1.05" height="12.65" fill="#5d1a73"/>
<rect x="279.50" y="628.00" width="1.05" height="12.65" fill="#781c74"/>
<rect x="279.50" y="640.60" width="1.05" height="12.65" fill="#5d1b70"/>
<rect x="280.50" y="577.60" width="1.05" height="12.65" fill="#ef5e22"/>
<rect x="280.50" y="590.20" width="1.05" height="12.65" fill="#d9432a"/>
<rect x="280.50" y="602.80" width="1.05" height="12.65" fill="#e64d28"/>
<rect x="280.50" y="615.40" width="1.05" height="12.65" fill="#621c78"/>
<rect x="280.50" y="628.00" width="1.05" height="12.65" fill="#7f1e7b"/>
<rect x="280.50" y="640.60" width="1.05" height="12.65" fill="#631d78"/>
<rect x="281.50" y="577.60" width="1.55" height="12.65" fill="#f15e23"/>
<rect x="281.50" y="590.20" width="1.55" height="12.65" fill="#e1462c"/>
<rect x="281.50" y="602.80" width="1.55" height="12.65" fill="#e64d28"/>
<rect x="281.50" y="615.40" width="1.55" height="12.65" fill="#5f1b75"/>
<rect x="281.50" y="628.00" width="1.55" height="12.65" fill="#7d1d79"/>
<rect x="281.50" y="640.60" width="1.55" height="12.65" fill="#611c75"/>
<rect x="283.00" y="577.60" width="1.05" height="12.65" fill="#f35f23"/>
<rect x="283.00" y="590.20" width="1.05" height="12.65" fill="#d8432a"/>
<rect x="283.00" y="602.80" width="1.05" height="12.65" fill="#e74d28"/>
<rect x="283.00" y="615.40" width="1.05" height="12.65" fill="#631c79"/>
<rect x="283.00" y="628.00" width="1.05" height="12.65" fill="#821f7e"/>
<rect x="283.00" y="640.60" width="1.05" height="12.65" fill="#631c77"/>
<rect x="284.00" y="577.60" width="1.55" height="12.65" fill="#ec5c22"/>
<rect x="284.00" y="590.20" width="1.55" height="12.65" fill="#d6432a"/>
<rect x="284.00" y="602.80" width="1.55" height="12.65" fill="#dc4a27"/>
<rect x="284.00" y="615.40" width="1.55" height="12.65" fill="#5e1b73"/>
<rect x="284.00" y="628.00" width="1.55" height="12.65" fill="#811e7d"/>
<rect x="284.00" y="640.60" width="1.55" height="12.65" fill="#5d1b70"/>
<rect x="285.50" y="577.60" width="1.05" height="12.65" fill="#ef5e22"/>
<rect x="285.50" y="590.20" width="1.05" height="12.65" fill="#d7432a"/>
<rect x="285.50" y="602.80" width="1.05" height="12.65" fill="#e54d28"/>
<rect x="285.50" y="615.40" width="1.05" height="12.65" fill="#611b76"/>
<rect x="285.50" y="628.00" width="1.05" height="12.65" fill="#801e7c"/>
<rect x="285.50" y="640.60" width="1.05" height="12.65" fill="#621c77"/>
<rect x="286.50" y="577.60" width="1.05" height="12.65" fill="#ea5c22"/>
<rect x="286.50" y="590.20" width="1.05" height="12.65" fill="#dc452b"/>
<rect x="286.50" y="602.80" width="1.05" height="12.65" fill="#eb4f29"/>
<rect x="286.50" y="615.40" width="1.05" height="12.65" fill="#611b77"/>
<rect x="286.50" y="628.00" width="1.05" height="12.65" fill="#7c1d78"/>
<rect x="286.50" y="640.60" width="1.05" height="12.65" fill="#601c74"/>
<rect x="287.50" y="577.60" width="0.95" height="12.65" fill="#f05e23"/>
<rect x="287.50" y="590.20" width="0.95" height="12.65" fill="#e2462c"/>
<rect x="287.50" y="602.80" width="0.95" height="12.65" fill="#e14b27"/>
<rect x="287.50" y="615.40" width="0.95" height="12.65" fill="#5e1a73"/>
<rect x="287.50" y="628.00" width="0.95" height="12.65" fill="#801e7c"/>
<rect x="287.50" y="640.60" width="0.95" height="12.65" fill="#5f1b73"/>
</g>
<rect x="255.30" y="577.40" width="32.80" height="75.60" fill="none" stroke="#1a1010" stroke-width="0.7" stroke-dasharray="0.9,0.9"/>
<line x1="255.30" y1="577.40" x2="288.10" y2="577.40" stroke="#f8f0c0" stroke-width="0.7" stroke-dasharray="0.9,0.9" stroke-dashoffset="0.9"/>
<rect x="150.10" y="568.10" width="28.00" height="3.80" fill="#fbe8cf"/>
<rect x="178.10" y="568.10" width="41.50" height="3.80" fill="#a8d5c0"/>
<rect x="219.60" y="568.10" width="35.40" height="3.80" fill="#e2eef0"/>
<rect x="255.00" y="568.10" width="11.50" height="3.80" fill="#7a2e9c"/>
<rect x="266.50" y="568.10" width="21.90" height="3.80" fill="#9a7050"/>
<rect x="150.10" y="573.00" width="104.90" height="3.60" fill="#3d4a5c"/>
<rect x="255.00" y="573.00" width="33.40" height="3.60" fill="#3cb040"/>
<text x="292.40" y="586.41" font-size="7.0" text-anchor="start" fill="#333333" stroke="#333333" stroke-width="0.15" font-style="italic">ATF4</text>
<text x="292.40" y="599.01" font-size="7.0" text-anchor="start" fill="#333333" stroke="#333333" stroke-width="0.15" font-style="italic">RIP3</text>
<text x="292.40" y="611.61" font-size="7.0" text-anchor="start" fill="#333333" stroke="#333333" stroke-width="0.15" font-style="italic">H2AX</text>
<text x="292.40" y="624.21" font-size="7.0" text-anchor="start" fill="#333333" stroke="#333333" stroke-width="0.15" font-style="italic">Ki67</text>
<text x="292.40" y="636.81" font-size="7.0" text-anchor="start" fill="#333333" stroke="#333333" stroke-width="0.15" font-style="italic">LC3B</text>
<text x="292.40" y="649.41" font-size="7.0" text-anchor="start" fill="#333333" stroke="#333333" stroke-width="0.15" font-style="italic">p21</text>
<line x1="150.10" y1="596.50" x2="149.20" y2="596.50" stroke="#777" stroke-width="0.6"/>
<line x1="150.10" y1="609.10" x2="149.20" y2="609.10" stroke="#777" stroke-width="0.6"/>
<line x1="149.20" y1="596.50" x2="149.20" y2="609.10" stroke="#777" stroke-width="0.6"/>
<line x1="150.10" y1="583.90" x2="148.40" y2="583.90" stroke="#777" stroke-width="0.6"/>
<line x1="149.20" y1="602.80" x2="148.40" y2="602.80" stroke="#777" stroke-width="0.6"/>
<line x1="148.40" y1="583.90" x2="148.40" y2="602.80" stroke="#777" stroke-width="0.6"/>
<line x1="150.10" y1="621.70" x2="149.20" y2="621.70" stroke="#777" stroke-width="0.6"/>
<line x1="150.10" y1="634.30" x2="149.20" y2="634.30" stroke="#777" stroke-width="0.6"/>
<line x1="149.20" y1="621.70" x2="149.20" y2="634.30" stroke="#777" stroke-width="0.6"/>
<line x1="149.20" y1="628.00" x2="148.40" y2="628.00" stroke="#777" stroke-width="0.6"/>
<line x1="150.10" y1="646.90" x2="148.40" y2="646.90" stroke="#777" stroke-width="0.6"/>
<line x1="148.40" y1="628.00" x2="148.40" y2="646.90" stroke="#777" stroke-width="0.6"/>
<line x1="148.40" y1="593.35" x2="145.20" y2="593.35" stroke="#777" stroke-width="0.6"/>
<line x1="148.40" y1="637.45" x2="145.20" y2="637.45" stroke="#777" stroke-width="0.6"/>
<line x1="145.20" y1="593.35" x2="145.20" y2="637.45" stroke="#777" stroke-width="0.6"/>
<defs><linearGradient id="infJ" x1="0" y1="0" x2="0" y2="1"><stop offset="0" stop-color="#fafaa8"/><stop offset="0.2" stop-color="#f6ee8a"/><stop offset="0.32" stop-color="#f8b424"/><stop offset="0.45" stop-color="#ee5a1e"/><stop offset="0.55" stop-color="#d02448"/><stop offset="0.65" stop-color="#8c1a88"/><stop offset="0.78" stop-color="#3a0a5a"/><stop offset="0.88" stop-color="#0c0812"/><stop offset="1" stop-color="#080808"/></linearGradient></defs>
<rect x="323.10" y="592.80" width="8.40" height="35.00" fill="url(#infJ)"/>
<text x="332.80" y="595.22" font-size="6.2" text-anchor="start" fill="#333333" stroke="#333333" stroke-width="0.15">10</text>
<text x="332.80" y="602.22" font-size="6.2" text-anchor="start" fill="#333333" stroke="#333333" stroke-width="0.15">8</text>
<text x="332.80" y="609.22" font-size="6.2" text-anchor="start" fill="#333333" stroke="#333333" stroke-width="0.15">6</text>
<text x="332.80" y="616.22" font-size="6.2" text-anchor="start" fill="#333333" stroke="#333333" stroke-width="0.15">4</text>
<text x="332.80" y="623.22" font-size="6.2" text-anchor="start" fill="#333333" stroke="#333333" stroke-width="0.15">2</text>
<text x="332.80" y="630.22" font-size="6.2" text-anchor="start" fill="#333333" stroke="#333333" stroke-width="0.15">0</text>
<text x="318.60" y="612.92" font-size="6.2" text-anchor="middle" fill="#333333" stroke="#333333" stroke-width="0.15" transform="rotate(-90 318.60 610.70)" textLength="27.4" lengthAdjust="spacingAndGlyphs">Expression</text>
<rect x="150.00" y="660.10" width="5.60" height="5.60" fill="#fcefd9"/>
<text x="159.40" y="665.12" font-size="6.2" text-anchor="start" fill="#333333" stroke="#333333" stroke-width="0.15" font-style="italic">TP53 KO_Cont</text>
<rect x="150.00" y="669.40" width="5.60" height="5.60" fill="#6e3a8e"/>
<text x="159.40" y="674.42" font-size="6.2" text-anchor="start" fill="#333333" stroke="#333333" stroke-width="0.15" font-style="italic">TP53 KO_250nM</text>
<rect x="150.00" y="678.70" width="5.60" height="5.60" fill="#a8d5c0"/>
<text x="159.40" y="683.72" font-size="6.2" text-anchor="start" fill="#333333" stroke="#333333" stroke-width="0.15" font-style="italic">R175H_Cont</text>
<rect x="216.90" y="660.10" width="5.60" height="5.60" fill="#6a8ac8"/>
<text x="226.30" y="665.12" font-size="6.2" text-anchor="start" fill="#333333" stroke="#333333" stroke-width="0.15" font-style="italic">R175H_250nM</text>
<rect x="216.90" y="669.40" width="5.60" height="5.60" fill="#e2eef0"/>
<text x="226.30" y="674.42" font-size="6.2" text-anchor="start" fill="#333333" stroke="#333333" stroke-width="0.15" font-style="italic">Y220C_Cont</text>
<rect x="216.90" y="678.70" width="5.60" height="5.60" fill="#9a7050"/>
<text x="226.30" y="683.72" font-size="6.2" text-anchor="start" fill="#333333" stroke="#333333" stroke-width="0.15" font-style="italic">Y220C_250nM</text>
<rect x="276.20" y="663.70" width="5.60" height="5.60" fill="#3d4a5c"/>
<text x="285.60" y="668.72" font-size="6.2" text-anchor="start" fill="#333333" stroke="#333333" stroke-width="0.15" font-style="italic">CONT</text>
<rect x="276.20" y="673.00" width="5.60" height="5.60" fill="#3cb040"/>
<text x="285.60" y="678.02" font-size="6.2" text-anchor="start" fill="#333333" stroke="#333333" stroke-width="0.15" font-style="italic">PU-H71 (250nM)</text>
<text x="352.10" y="569.59" font-size="10.6" font-weight="bold" fill="#111" stroke="#111" stroke-width="0.45">K</text>
<text x="398.80" y="570.04" font-size="8.2" text-anchor="middle" fill="#e0404a" stroke="#e0404a" stroke-width="0.15" font-style="italic">ATF4</text>
<line x1="376.00" y1="574.00" x2="376.00" y2="621.10" stroke="#333" stroke-width="1.25"/>
<line x1="375.40" y1="621.10" x2="421.50" y2="621.10" stroke="#333" stroke-width="1.25"/>
<line x1="373.70" y1="576.30" x2="376.00" y2="576.30" stroke="#333" stroke-width="0.8"/>
<text x="371.60" y="578.66" font-size="6.6" text-anchor="end" fill="#333333" stroke="#333333" stroke-width="0.15">8</text>
<line x1="373.70" y1="585.60" x2="376.00" y2="585.60" stroke="#333" stroke-width="0.8"/>
<text x="371.60" y="587.96" font-size="6.6" text-anchor="end" fill="#333333" stroke="#333333" stroke-width="0.15">7</text>
<line x1="373.70" y1="594.80" x2="376.00" y2="594.80" stroke="#333" stroke-width="0.8"/>
<text x="371.60" y="597.16" font-size="6.6" text-anchor="end" fill="#333333" stroke="#333333" stroke-width="0.15">6</text>
<line x1="373.70" y1="604.00" x2="376.00" y2="604.00" stroke="#333" stroke-width="0.8"/>
<text x="371.60" y="606.36" font-size="6.6" text-anchor="end" fill="#333333" stroke="#333333" stroke-width="0.15">5</text>
<line x1="373.70" y1="613.10" x2="376.00" y2="613.10" stroke="#333" stroke-width="0.8"/>
<text x="371.60" y="615.46" font-size="6.6" text-anchor="end" fill="#333333" stroke="#333333" stroke-width="0.15">4</text>
<line x1="388.60" y1="621.10" x2="388.60" y2="623.40" stroke="#333" stroke-width="0.8"/>
<line x1="409.30" y1="621.10" x2="409.30" y2="623.40" stroke="#333" stroke-width="0.8"/>
<line x1="388.60" y1="577.50" x2="388.60" y2="617.30" stroke="#262626" stroke-width="1.5"/>
<path d="M389.35,584.00 L389.35,584.45 L389.42,584.90 L390.03,585.35 L390.69,585.80 L391.37,586.25 L392.04,586.70 L392.69,587.15 L393.28,587.60 L393.80,588.05 L394.24,588.50 L394.57,588.95 L394.79,589.40 L394.89,589.85 L394.87,590.30 L394.78,590.75 L394.66,591.20 L394.52,591.65 L394.35,592.10 L394.17,592.55 L393.97,593.00 L393.75,593.45 L393.53,593.90 L393.29,594.35 L393.04,594.80 L392.78,595.25 L392.51,595.70 L392.24,596.15 L391.96,596.60 L391.67,597.05 L391.38,597.50 L391.09,597.95 L390.79,598.40 L390.49,598.85 L390.19,599.30 L389.90,599.75 L389.60,600.20 L389.35,600.65 L389.35,601.10 L389.35,601.55 L389.35,602.00 L387.85,602.00 L387.85,601.55 L387.85,601.10 L387.85,600.65 L387.60,600.20 L387.30,599.75 L387.01,599.30 L386.71,598.85 L386.41,598.40 L386.11,597.95 L385.82,597.50 L385.53,597.05 L385.24,596.60 L384.96,596.15 L384.69,595.70 L384.42,595.25 L384.16,594.80 L383.91,594.35 L383.67,593.90 L383.45,593.45 L383.23,593.00 L383.03,592.55 L382.85,592.10 L382.68,591.65 L382.54,591.20 L382.42,590.75 L382.33,590.30 L382.31,589.85 L382.41,589.40 L382.63,588.95 L382.96,588.50 L383.40,588.05 L383.92,587.60 L384.51,587.15 L385.16,586.70 L385.83,586.25 L386.51,585.80 L387.17,585.35 L387.78,584.90 L387.85,584.45 L387.85,584.00 Z" fill="#3d4659" stroke="#262626" stroke-width="0.45"/>
<rect x="387.95" y="586.00" width="1.30" height="8.00" fill="#ffffff" opacity="0.8"/>
<circle cx="388.60" cy="591.00" r="0.70" fill="#ffffff"/>
<line x1="409.30" y1="583.50" x2="409.30" y2="617.30" stroke="#262626" stroke-width="1.5"/>
<path d="M410.05,591.00 L410.05,591.36 L410.07,591.73 L410.64,592.09 L411.29,592.45 L411.98,592.81 L412.69,593.17 L413.43,593.54 L414.16,593.90 L414.88,594.26 L415.57,594.62 L416.22,594.99 L416.83,595.35 L417.38,595.71 L417.86,596.08 L418.28,596.44 L418.61,596.80 L418.86,597.16 L419.02,597.52 L419.10,597.89 L419.03,598.25 L418.83,598.61 L418.55,598.98 L418.22,599.34 L417.85,599.70 L417.43,600.06 L416.98,600.42 L416.50,600.79 L415.99,601.15 L415.46,601.51 L414.91,601.88 L414.35,602.24 L413.77,602.60 L413.18,602.96 L412.58,603.33 L411.98,603.69 L411.39,604.05 L410.80,604.41 L410.24,604.77 L410.05,605.14 L410.05,605.50 L408.55,605.50 L408.55,605.14 L408.36,604.77 L407.80,604.41 L407.21,604.05 L406.62,603.69 L406.02,603.33 L405.42,602.96 L404.83,602.60 L404.25,602.24 L403.69,601.88 L403.14,601.51 L402.61,601.15 L402.10,600.79 L401.62,600.42 L401.17,600.06 L400.75,599.70 L400.38,599.34 L400.05,598.98 L399.77,598.61 L399.57,598.25 L399.50,597.89 L399.58,597.52 L399.74,597.16 L399.99,596.80 L400.32,596.44 L400.74,596.08 L401.22,595.71 L401.77,595.35 L402.38,594.99 L403.03,594.62 L403.72,594.26 L404.44,593.90 L405.17,593.54 L405.91,593.17 L406.62,592.81 L407.31,592.45 L407.96,592.09 L408.53,591.73 L408.55,591.36 L408.55,591.00 Z" fill="#3aa832" stroke="#262626" stroke-width="0.45"/>
<rect x="408.65" y="594.00" width="1.30" height="8.00" fill="#ffffff" opacity="0.8"/>
<circle cx="409.30" cy="599.00" r="0.70" fill="#ffffff"/>
<text x="463.80" y="571.44" font-size="8.2" text-anchor="middle" fill="#e0404a" stroke="#e0404a" stroke-width="0.15" font-style="italic">RIP3</text>
<line x1="440.20" y1="575.80" x2="440.20" y2="621.30" stroke="#333" stroke-width="1.25"/>
<line x1="439.60" y1="621.30" x2="485.70" y2="621.30" stroke="#333" stroke-width="1.25"/>
<line x1="437.90" y1="580.60" x2="440.20" y2="580.60" stroke="#333" stroke-width="0.8"/>
<text x="435.80" y="582.96" font-size="6.6" text-anchor="end" fill="#333333" stroke="#333333" stroke-width="0.15">7</text>
<line x1="437.90" y1="590.60" x2="440.20" y2="590.60" stroke="#333" stroke-width="0.8"/>
<text x="435.80" y="592.96" font-size="6.6" text-anchor="end" fill="#333333" stroke="#333333" stroke-width="0.15">6</text>
<line x1="437.90" y1="600.60" x2="440.20" y2="600.60" stroke="#333" stroke-width="0.8"/>
<text x="435.80" y="602.96" font-size="6.6" text-anchor="end" fill="#333333" stroke="#333333" stroke-width="0.15">5</text>
<line x1="437.90" y1="610.80" x2="440.20" y2="610.80" stroke="#333" stroke-width="0.8"/>
<text x="435.80" y="613.16" font-size="6.6" text-anchor="end" fill="#333333" stroke="#333333" stroke-width="0.15">4</text>
<line x1="437.90" y1="620.40" x2="440.20" y2="620.40" stroke="#333" stroke-width="0.8"/>
<text x="435.80" y="622.76" font-size="6.6" text-anchor="end" fill="#333333" stroke="#333333" stroke-width="0.15">3</text>
<line x1="452.80" y1="621.30" x2="452.80" y2="623.60" stroke="#333" stroke-width="0.8"/>
<line x1="473.50" y1="621.30" x2="473.50" y2="623.60" stroke="#333" stroke-width="0.8"/>
<line x1="452.80" y1="577.10" x2="452.80" y2="617.50" stroke="#262626" stroke-width="1.5"/>
<path d="M453.55,584.50 L453.55,584.96 L453.75,585.42 L454.45,585.89 L455.20,586.35 L455.95,586.81 L456.69,587.27 L457.36,587.74 L457.95,588.20 L458.43,588.66 L458.78,589.12 L458.99,589.59 L459.05,590.05 L458.99,590.51 L458.90,590.98 L458.78,591.44 L458.63,591.90 L458.47,592.36 L458.30,592.83 L458.11,593.29 L457.91,593.75 L457.69,594.21 L457.47,594.67 L457.24,595.14 L456.99,595.60 L456.75,596.06 L456.49,596.52 L456.23,596.99 L455.96,597.45 L455.69,597.91 L455.41,598.38 L455.13,598.84 L454.85,599.30 L454.57,599.76 L454.29,600.23 L454.01,600.69 L453.74,601.15 L453.55,601.61 L453.55,602.08 L453.55,602.54 L453.55,603.00 L452.05,603.00 L452.05,602.54 L452.05,602.08 L452.05,601.61 L451.86,601.15 L451.59,600.69 L451.31,600.23 L451.03,599.76 L450.75,599.30 L450.47,598.84 L450.19,598.38 L449.91,597.91 L449.64,597.45 L449.37,596.99 L449.11,596.52 L448.85,596.06 L448.61,595.60 L448.36,595.14 L448.13,594.67 L447.91,594.21 L447.69,593.75 L447.49,593.29 L447.30,592.83 L447.13,592.36 L446.97,591.90 L446.82,591.44 L446.70,590.98 L446.61,590.51 L446.55,590.05 L446.61,589.59 L446.82,589.12 L447.17,588.66 L447.65,588.20 L448.24,587.74 L448.91,587.27 L449.65,586.81 L450.40,586.35 L451.15,585.89 L451.85,585.42 L452.05,584.96 L452.05,584.50 Z" fill="#3d4659" stroke="#262626" stroke-width="0.45"/>
<rect x="452.15" y="586.00" width="1.30" height="8.00" fill="#ffffff" opacity="0.8"/>
<circle cx="452.80" cy="591.00" r="0.70" fill="#ffffff"/>
<line x1="473.50" y1="582.90" x2="473.50" y2="618.50" stroke="#262626" stroke-width="1.5"/>
<path d="M474.25,591.00 L474.25,591.40 L474.25,591.80 L474.75,592.20 L475.35,592.60 L476.00,593.00 L476.68,593.40 L477.37,593.80 L478.06,594.20 L478.75,594.60 L479.41,595.00 L480.04,595.40 L480.64,595.80 L481.18,596.20 L481.67,596.60 L482.09,597.00 L482.45,597.40 L482.73,597.80 L482.93,598.20 L483.06,598.60 L483.10,599.00 L482.97,599.40 L482.74,599.80 L482.43,600.20 L482.08,600.60 L481.68,601.00 L481.24,601.40 L480.77,601.80 L480.27,602.20 L479.74,602.60 L479.19,603.00 L478.62,603.40 L478.03,603.80 L477.44,604.20 L476.84,604.60 L476.23,605.00 L475.62,605.40 L475.03,605.80 L474.46,606.20 L474.25,606.60 L474.25,607.00 L472.75,607.00 L472.75,606.60 L472.54,606.20 L471.97,605.80 L471.38,605.40 L470.77,605.00 L470.16,604.60 L469.56,604.20 L468.97,603.80 L468.38,603.40 L467.81,603.00 L467.26,602.60 L466.73,602.20 L466.23,601.80 L465.76,601.40 L465.32,601.00 L464.92,600.60 L464.57,600.20 L464.26,599.80 L464.03,599.40 L463.90,599.00 L463.94,598.60 L464.07,598.20 L464.27,597.80 L464.55,597.40 L464.91,597.00 L465.33,596.60 L465.82,596.20 L466.36,595.80 L466.96,595.40 L467.59,595.00 L468.25,594.60 L468.94,594.20 L469.63,593.80 L470.32,593.40 L471.00,593.00 L471.65,592.60 L472.25,592.20 L472.75,591.80 L472.75,591.40 L472.75,591.00 Z" fill="#3aa832" stroke="#262626" stroke-width="0.45"/>
<rect x="472.85" y="595.00" width="1.30" height="8.00" fill="#ffffff" opacity="0.8"/>
<circle cx="473.50" cy="600.00" r="0.70" fill="#ffffff"/>
<text x="399.30" y="634.74" font-size="8.2" text-anchor="middle" fill="#e0404a" stroke="#e0404a" stroke-width="0.15" font-style="italic">LC3B</text>
<line x1="376.00" y1="638.20" x2="376.00" y2="683.70" stroke="#333" stroke-width="1.25"/>
<line x1="375.40" y1="683.70" x2="421.50" y2="683.70" stroke="#333" stroke-width="1.25"/>
<line x1="373.70" y1="640.80" x2="376.00" y2="640.80" stroke="#333" stroke-width="0.8"/>
<text x="371.60" y="643.16" font-size="6.6" text-anchor="end" fill="#333333" stroke="#333333" stroke-width="0.15">5</text>
<line x1="373.70" y1="654.30" x2="376.00" y2="654.30" stroke="#333" stroke-width="0.8"/>
<text x="371.60" y="656.66" font-size="6.6" text-anchor="end" fill="#333333" stroke="#333333" stroke-width="0.15">4</text>
<line x1="373.70" y1="667.90" x2="376.00" y2="667.90" stroke="#333" stroke-width="0.8"/>
<text x="371.60" y="670.26" font-size="6.6" text-anchor="end" fill="#333333" stroke="#333333" stroke-width="0.15">3</text>
<line x1="373.70" y1="681.40" x2="376.00" y2="681.40" stroke="#333" stroke-width="0.8"/>
<text x="371.60" y="683.76" font-size="6.6" text-anchor="end" fill="#333333" stroke="#333333" stroke-width="0.15">2</text>
<line x1="388.60" y1="683.70" x2="388.60" y2="686.00" stroke="#333" stroke-width="0.8"/>
<line x1="409.30" y1="683.70" x2="409.30" y2="686.00" stroke="#333" stroke-width="0.8"/>
<line x1="388.60" y1="641.60" x2="388.60" y2="681.40" stroke="#262626" stroke-width="1.5"/>
<path d="M389.35,649.00 L389.35,649.51 L389.35,650.02 L389.78,650.54 L390.33,651.05 L390.90,651.56 L391.47,652.08 L392.01,652.59 L392.52,653.10 L392.97,653.61 L393.35,654.12 L393.65,654.64 L393.86,655.15 L393.98,655.66 L393.99,656.17 L393.93,656.69 L393.83,657.20 L393.71,657.71 L393.57,658.23 L393.41,658.74 L393.24,659.25 L393.06,659.76 L392.87,660.27 L392.66,660.79 L392.45,661.30 L392.23,661.81 L392.00,662.33 L391.76,662.84 L391.52,663.35 L391.27,663.86 L391.01,664.38 L390.76,664.89 L390.50,665.40 L390.24,665.91 L389.98,666.42 L389.73,666.94 L389.47,667.45 L389.35,667.96 L389.35,668.48 L389.35,668.99 L389.35,669.50 L387.85,669.50 L387.85,668.99 L387.85,668.48 L387.85,667.96 L387.73,667.45 L387.47,666.94 L387.22,666.42 L386.96,665.91 L386.70,665.40 L386.44,664.89 L386.19,664.38 L385.93,663.86 L385.68,663.35 L385.44,662.84 L385.20,662.33 L384.97,661.81 L384.75,661.30 L384.54,660.79 L384.33,660.27 L384.14,659.76 L383.96,659.25 L383.79,658.74 L383.63,658.23 L383.49,657.71 L383.37,657.20 L383.27,656.69 L383.21,656.17 L383.22,655.66 L383.34,655.15 L383.55,654.64 L383.85,654.12 L384.23,653.61 L384.68,653.10 L385.19,652.59 L385.73,652.08 L386.30,651.56 L386.87,651.05 L387.42,650.54 L387.85,650.02 L387.85,649.51 L387.85,649.00 Z" fill="#3d4659" stroke="#262626" stroke-width="0.45"/>
<rect x="387.95" y="652.00" width="1.30" height="8.00" fill="#ffffff" opacity="0.8"/>
<circle cx="388.60" cy="657.00" r="0.70" fill="#ffffff"/>
<line x1="409.30" y1="646.00" x2="409.30" y2="681.40" stroke="#262626" stroke-width="1.5"/>
<path d="M410.05,660.50 L410.05,660.79 L410.19,661.08 L410.85,661.36 L411.59,661.65 L412.37,661.94 L413.18,662.23 L413.99,662.51 L414.79,662.80 L415.56,663.09 L416.29,663.38 L416.95,663.66 L417.54,663.95 L418.05,664.24 L418.47,664.52 L418.78,664.81 L418.99,665.10 L419.09,665.39 L419.05,665.67 L418.88,665.96 L418.64,666.25 L418.35,666.54 L418.03,666.83 L417.67,667.11 L417.27,667.40 L416.85,667.69 L416.41,667.98 L415.94,668.26 L415.45,668.55 L414.95,668.84 L414.43,669.12 L413.91,669.41 L413.37,669.70 L412.82,669.99 L412.28,670.27 L411.73,670.56 L411.19,670.85 L410.66,671.14 L410.14,671.42 L410.05,671.71 L410.05,672.00 L408.55,672.00 L408.55,671.71 L408.46,671.42 L407.94,671.14 L407.41,670.85 L406.87,670.56 L406.32,670.27 L405.78,669.99 L405.23,669.70 L404.69,669.41 L404.17,669.12 L403.65,668.84 L403.15,668.55 L402.66,668.26 L402.19,667.98 L401.75,667.69 L401.33,667.40 L400.93,667.11 L400.57,666.83 L400.25,666.54 L399.96,666.25 L399.72,665.96 L399.55,665.67 L399.51,665.39 L399.61,665.10 L399.82,664.81 L400.13,664.52 L400.55,664.24 L401.06,663.95 L401.65,663.66 L402.31,663.38 L403.04,663.09 L403.81,662.80 L404.61,662.51 L405.42,662.23 L406.23,661.94 L407.01,661.65 L407.75,661.36 L408.41,661.08 L408.55,660.79 L408.55,660.50 Z" fill="#3aa832" stroke="#262626" stroke-width="0.45"/>
<rect x="408.65" y="661.50" width="1.30" height="8.00" fill="#ffffff" opacity="0.8"/>
<circle cx="409.30" cy="666.50" r="0.70" fill="#ffffff"/>
<text x="463.80" y="634.84" font-size="8.2" text-anchor="middle" fill="#e0404a" stroke="#e0404a" stroke-width="0.15" font-style="italic">p21</text>
<line x1="440.20" y1="639.20" x2="440.20" y2="683.50" stroke="#333" stroke-width="1.25"/>
<line x1="439.60" y1="683.50" x2="485.70" y2="683.50" stroke="#333" stroke-width="1.25"/>
<line x1="437.90" y1="641.50" x2="440.20" y2="641.50" stroke="#333" stroke-width="0.8"/>
<text x="435.80" y="643.86" font-size="6.6" text-anchor="end" fill="#333333" stroke="#333333" stroke-width="0.15">5</text>
<line x1="437.90" y1="652.10" x2="440.20" y2="652.10" stroke="#333" stroke-width="0.8"/>
<text x="435.80" y="654.46" font-size="6.6" text-anchor="end" fill="#333333" stroke="#333333" stroke-width="0.15">4</text>
<line x1="437.90" y1="662.70" x2="440.20" y2="662.70" stroke="#333" stroke-width="0.8"/>
<text x="435.80" y="665.06" font-size="6.6" text-anchor="end" fill="#333333" stroke="#333333" stroke-width="0.15">3</text>
<line x1="437.90" y1="673.30" x2="440.20" y2="673.30" stroke="#333" stroke-width="0.8"/>
<text x="435.80" y="675.66" font-size="6.6" text-anchor="end" fill="#333333" stroke="#333333" stroke-width="0.15">2</text>
<line x1="437.90" y1="683.10" x2="440.20" y2="683.10" stroke="#333" stroke-width="0.8"/>
<text x="435.80" y="685.46" font-size="6.6" text-anchor="end" fill="#333333" stroke="#333333" stroke-width="0.15">1</text>
<line x1="452.80" y1="683.50" x2="452.80" y2="685.80" stroke="#333" stroke-width="0.8"/>
<line x1="473.50" y1="683.50" x2="473.50" y2="685.80" stroke="#333" stroke-width="0.8"/>
<line x1="452.80" y1="641.20" x2="452.80" y2="680.60" stroke="#262626" stroke-width="1.5"/>
<path d="M453.55,655.50 L453.55,655.99 L453.55,656.48 L454.05,656.96 L454.62,657.45 L455.22,657.94 L455.81,658.42 L456.37,658.91 L456.89,659.40 L457.34,659.89 L457.72,660.38 L458.01,660.86 L458.21,661.35 L458.29,661.84 L458.27,662.33 L458.20,662.81 L458.09,663.30 L457.97,663.79 L457.82,664.27 L457.66,664.76 L457.49,665.25 L457.30,665.74 L457.10,666.23 L456.89,666.71 L456.68,667.20 L456.45,667.69 L456.22,668.17 L455.98,668.66 L455.73,669.15 L455.48,669.64 L455.23,670.12 L454.97,670.61 L454.71,671.10 L454.45,671.59 L454.19,672.08 L453.93,672.56 L453.68,673.05 L453.55,673.54 L453.55,674.02 L453.55,674.51 L453.55,675.00 L452.05,675.00 L452.05,674.51 L452.05,674.02 L452.05,673.54 L451.92,673.05 L451.67,672.56 L451.41,672.08 L451.15,671.59 L450.89,671.10 L450.63,670.61 L450.37,670.12 L450.12,669.64 L449.87,669.15 L449.62,668.66 L449.38,668.17 L449.15,667.69 L448.92,667.20 L448.71,666.71 L448.50,666.23 L448.30,665.74 L448.11,665.25 L447.94,664.76 L447.78,664.27 L447.63,663.79 L447.51,663.30 L447.40,662.81 L447.33,662.33 L447.31,661.84 L447.39,661.35 L447.59,660.86 L447.88,660.38 L448.26,659.89 L448.71,659.40 L449.23,658.91 L449.79,658.42 L450.38,657.94 L450.98,657.45 L451.55,656.96 L452.05,656.48 L452.05,655.99 L452.05,655.50 Z" fill="#3d4659" stroke="#262626" stroke-width="0.45"/>
<rect x="452.15" y="658.00" width="1.30" height="8.00" fill="#ffffff" opacity="0.8"/>
<circle cx="452.80" cy="663.00" r="0.70" fill="#ffffff"/>
<line x1="473.50" y1="654.60" x2="473.50" y2="678.70" stroke="#262626" stroke-width="1.5"/>
<path d="M474.25,661.00 L474.25,661.33 L474.30,661.65 L474.90,661.98 L475.57,662.30 L476.28,662.62 L477.02,662.95 L477.77,663.27 L478.52,663.60 L479.25,663.92 L479.94,664.25 L480.59,664.58 L481.18,664.90 L481.71,665.23 L482.16,665.55 L482.53,665.88 L482.81,666.20 L483.00,666.52 L483.09,666.85 L483.05,667.17 L482.88,667.50 L482.64,667.83 L482.34,668.15 L482.00,668.48 L481.62,668.80 L481.21,669.12 L480.77,669.45 L480.30,669.77 L479.81,670.10 L479.31,670.42 L478.78,670.75 L478.24,671.08 L477.70,671.40 L477.14,671.73 L476.58,672.05 L476.01,672.38 L475.45,672.70 L474.90,673.02 L474.38,673.35 L474.25,673.67 L474.25,674.00 L472.75,674.00 L472.75,673.67 L472.62,673.35 L472.10,673.02 L471.55,672.70 L470.99,672.38 L470.42,672.05 L469.86,671.73 L469.30,671.40 L468.76,671.08 L468.22,670.75 L467.69,670.42 L467.19,670.10 L466.70,669.77 L466.23,669.45 L465.79,669.12 L465.38,668.80 L465.00,668.48 L464.66,668.15 L464.36,667.83 L464.12,667.50 L463.95,667.17 L463.91,666.85 L464.00,666.52 L464.19,666.20 L464.47,665.88 L464.84,665.55 L465.29,665.23 L465.82,664.90 L466.41,664.58 L467.06,664.25 L467.75,663.92 L468.48,663.60 L469.23,663.27 L469.98,662.95 L470.72,662.62 L471.43,662.30 L472.10,661.98 L472.70,661.65 L472.75,661.33 L472.75,661.00 Z" fill="#3aa832" stroke="#262626" stroke-width="0.45"/>
<rect x="472.85" y="663.00" width="1.30" height="8.00" fill="#ffffff" opacity="0.8"/>
<circle cx="473.50" cy="668.00" r="0.70" fill="#ffffff"/>
<text x="358.60" y="632.36" font-size="8.0" text-anchor="middle" fill="#333333" stroke="#333333" stroke-width="0.15" transform="rotate(-90 358.60 629.50)" textLength="53.6" lengthAdjust="spacingAndGlyphs">Scaled expression</text>
<rect x="481.20" y="631.00" width="5.70" height="5.60" fill="#3d4659"/>
<text x="489.60" y="636.09" font-size="6.4" text-anchor="start" fill="#333333" stroke="#333333" stroke-width="0.15">Control</text>
<rect x="481.20" y="643.20" width="5.70" height="5.60" fill="#3aa832"/>
<text x="489.60" y="644.99" font-size="6.4" text-anchor="start" fill="#333333" stroke="#333333" stroke-width="0.15">PU-H71</text>
<text x="489.60" y="652.09" font-size="6.4" text-anchor="start" fill="#333333" stroke="#333333" stroke-width="0.15">250nM</text>
<rect x="0.5" y="0.5" width="519" height="693" fill="none" stroke="#555" stroke-width="1"/></svg></body></html>
